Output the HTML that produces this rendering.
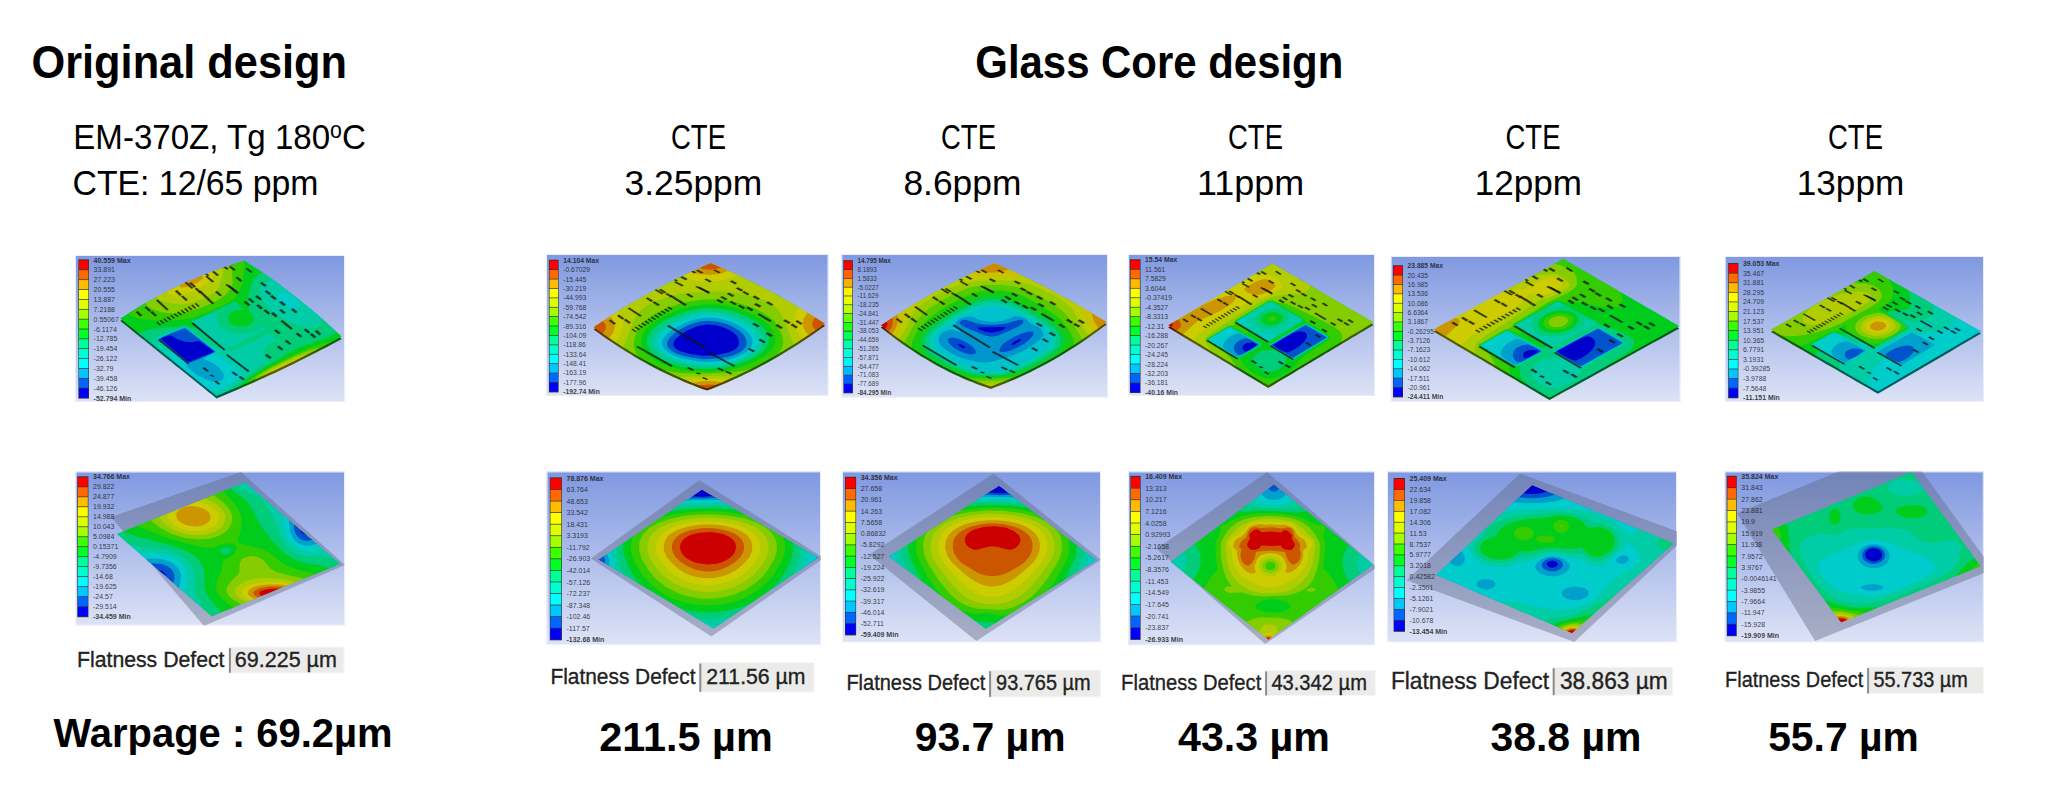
<!DOCTYPE html>
<html><head><meta charset="utf-8"><title>Warpage comparison</title>
<style>
html,body{margin:0;padding:0;background:#fff;}
body{width:2048px;height:799px;overflow:hidden;}
svg{display:block;font-family:'Liberation Sans', Arial, sans-serif;}
</style></head><body>
<svg width="2048" height="799" viewBox="0 0 2048 799">
<defs>
<linearGradient id='bgg' x1='0' y1='0' x2='0' y2='1'><stop offset='0' stop-color='#7f98e0'/><stop offset='1' stop-color='#dde3f6'/></linearGradient>
<filter id='soft' x='-5%' y='-5%' width='110%' height='110%'><feGaussianBlur stdDeviation='0.7'/></filter>

</defs>
<text x='31.5' y='78.4' font-size='46.2' font-weight='bold' textLength='315.5' lengthAdjust='spacingAndGlyphs' fill='#000'>Original design</text>
<text x='975.3' y='78.4' font-size='46.2' font-weight='bold' textLength='368.0' lengthAdjust='spacingAndGlyphs' fill='#000'>Glass Core design</text>
<text x='73.3' y='149.4' font-size='35.8' font-weight='normal' textLength='292.5' lengthAdjust='spacingAndGlyphs' fill='#000'>EM-370Z, Tg 180<tspan dy='-11.5' font-size='23'>o</tspan><tspan dy='11.5'>C</tspan></text>
<text x='72.5' y='195.2' font-size='35.5' font-weight='normal' textLength='246.0' lengthAdjust='spacingAndGlyphs' fill='#000'>CTE: 12/65 ppm</text>
<text x='698.5' y='149.4' font-size='35.8' font-weight='normal' textLength='55.0' lengthAdjust='spacingAndGlyphs' text-anchor='middle' fill='#000'>CTE</text>
<text x='693.4' y='194.8' font-size='35.8' font-weight='normal' textLength='137.8' lengthAdjust='spacingAndGlyphs' text-anchor='middle' fill='#000'>3.25ppm</text>
<text x='968.5' y='149.4' font-size='35.8' font-weight='normal' textLength='55.0' lengthAdjust='spacingAndGlyphs' text-anchor='middle' fill='#000'>CTE</text>
<text x='962.4' y='194.8' font-size='35.8' font-weight='normal' textLength='117.9' lengthAdjust='spacingAndGlyphs' text-anchor='middle' fill='#000'>8.6ppm</text>
<text x='1255.5' y='149.4' font-size='35.8' font-weight='normal' textLength='55.0' lengthAdjust='spacingAndGlyphs' text-anchor='middle' fill='#000'>CTE</text>
<text x='1250.6' y='194.8' font-size='35.8' font-weight='normal' textLength='107.2' lengthAdjust='spacingAndGlyphs' text-anchor='middle' fill='#000'>11ppm</text>
<text x='1533.0' y='149.4' font-size='35.8' font-weight='normal' textLength='55.0' lengthAdjust='spacingAndGlyphs' text-anchor='middle' fill='#000'>CTE</text>
<text x='1528.4' y='194.8' font-size='35.8' font-weight='normal' textLength='107.3' lengthAdjust='spacingAndGlyphs' text-anchor='middle' fill='#000'>12ppm</text>
<text x='1855.5' y='149.4' font-size='35.8' font-weight='normal' textLength='55.0' lengthAdjust='spacingAndGlyphs' text-anchor='middle' fill='#000'>CTE</text>
<text x='1850.5' y='194.8' font-size='35.8' font-weight='normal' textLength='107.5' lengthAdjust='spacingAndGlyphs' text-anchor='middle' fill='#000'>13ppm</text>
<text x='53.6' y='747.3' font-size='39.8' font-weight='bold' textLength='339.0' lengthAdjust='spacingAndGlyphs' fill='#000'>Warpage : 69.2µm</text>
<text x='599.3' y='750.8' font-size='39.8' font-weight='bold' textLength='173.4' lengthAdjust='spacingAndGlyphs' fill='#000'>211.5 µm</text>
<text x='914.7' y='750.8' font-size='39.8' font-weight='bold' textLength='150.8' lengthAdjust='spacingAndGlyphs' fill='#000'>93.7 µm</text>
<text x='1178.0' y='750.8' font-size='39.8' font-weight='bold' textLength='151.9' lengthAdjust='spacingAndGlyphs' fill='#000'>43.3 µm</text>
<text x='1490.4' y='750.8' font-size='39.8' font-weight='bold' textLength='151.0' lengthAdjust='spacingAndGlyphs' fill='#000'>38.8 µm</text>
<text x='1768.2' y='750.8' font-size='39.8' font-weight='bold' textLength='150.5' lengthAdjust='spacingAndGlyphs' fill='#000'>55.7 µm</text>
<clipPath id='cb0'><rect x='75' y='255' width='270.0' height='147.0'/></clipPath>
<g clip-path='url(#cb0)'>
<rect x='75' y='255' width='270.0' height='147.0' fill='url(#bgg)' stroke='#e8eefc' stroke-width='2'/>
<clipPath id='cbd0'><path d='M120.3 318.5 125.1 315.4 129.9 312.3 134.8 309.3 139.7 306.3 144.6 303.4 149.6 300.6 154.5 297.9 159.6 295.2 164.6 292.5 169.7 290.0 174.8 287.4 180.0 285.0 185.2 282.6 190.4 280.3 195.7 278.0 201.0 275.9 206.3 273.7 211.7 271.7 217.0 269.7 222.5 267.7 227.9 265.8 233.4 264.0 238.9 262.3 244.5 260.6 248.9 263.4 253.2 266.1 257.5 269.0 261.8 271.8 266.0 274.7 270.2 277.6 274.4 280.6 278.6 283.6 282.7 286.7 286.8 289.7 290.9 292.9 295.0 296.0 299.0 299.2 303.0 302.4 307.0 305.7 311.0 309.0 314.9 312.3 318.8 315.6 322.7 319.1 326.6 322.5 330.4 326.0 334.2 329.5 338.0 333.0 341.7 336.6 336.6 339.3 331.5 342.1 326.4 344.8 321.3 347.4 316.2 350.1 311.1 352.7 305.9 355.3 300.8 357.9 295.6 360.5 290.4 363.0 285.2 365.5 280.0 368.0 274.8 370.5 269.5 372.9 264.3 375.3 259.0 377.7 253.8 380.1 248.5 382.4 243.2 384.7 237.9 387.0 232.5 389.3 227.2 391.6 221.9 393.8 216.5 396.0 212.4 392.7 208.4 389.5 204.3 386.2 200.2 382.9 196.2 379.7 192.2 376.4 188.1 373.2 184.1 369.9 180.1 366.7 176.0 363.5 172.0 360.2 168.0 357.0 164.0 353.8 160.0 350.5 156.0 347.3 152.0 344.1 148.0 340.9 144.1 337.7 140.1 334.5 136.1 331.3 132.1 328.1 128.2 324.9 124.2 321.7Z'/></clipPath>
<linearGradient id='sg0' gradientUnits='userSpaceOnUse' x1='120.3' y1='0' x2='341.7' y2='0'><stop offset='0.000' stop-color='#005c0e'/><stop offset='0.054' stop-color='#005c0e'/><stop offset='0.107' stop-color='#005c37'/><stop offset='0.161' stop-color='#005c4b'/><stop offset='0.215' stop-color='#005c4b'/><stop offset='0.270' stop-color='#005c5c'/><stop offset='0.325' stop-color='#005c5c'/><stop offset='0.379' stop-color='#005c5c'/><stop offset='0.435' stop-color='#005c4b'/><stop offset='0.507' stop-color='#005c37'/><stop offset='0.579' stop-color='#165c00'/><stop offset='0.650' stop-color='#505c00'/><stop offset='0.721' stop-color='#5c5c00'/><stop offset='0.792' stop-color='#5c5c00'/><stop offset='0.862' stop-color='#3c5c00'/><stop offset='0.931' stop-color='#165c00'/><stop offset='1.000' stop-color='#005c0e'/></linearGradient><path d='M120.3 318.5 125.1 315.4 129.9 312.3 134.8 309.3 139.7 306.3 144.6 303.4 149.6 300.6 154.5 297.9 159.6 295.2 164.6 292.5 169.7 290.0 174.8 287.4 180.0 285.0 185.2 282.6 190.4 280.3 195.7 278.0 201.0 275.9 206.3 273.7 211.7 271.7 217.0 269.7 222.5 267.7 227.9 265.8 233.4 264.0 238.9 262.3 244.5 260.6 248.9 263.4 253.2 266.1 257.5 269.0 261.8 271.8 266.0 274.7 270.2 277.6 274.4 280.6 278.6 283.6 282.7 286.7 286.8 289.7 290.9 292.9 295.0 296.0 299.0 299.2 303.0 302.4 307.0 305.7 311.0 309.0 314.9 312.3 318.8 315.6 322.7 319.1 326.6 322.5 330.4 326.0 334.2 329.5 338.0 333.0 341.7 336.6 336.6 339.3 331.5 342.1 326.4 344.8 321.3 347.4 316.2 350.1 311.1 352.7 305.9 355.3 300.8 357.9 295.6 360.5 290.4 363.0 285.2 365.5 280.0 368.0 274.8 370.5 269.5 372.9 264.3 375.3 259.0 377.7 253.8 380.1 248.5 382.4 243.2 384.7 237.9 387.0 232.5 389.3 227.2 391.6 221.9 393.8 216.5 396.0 212.4 392.7 208.4 389.5 204.3 386.2 200.2 382.9 196.2 379.7 192.2 376.4 188.1 373.2 184.1 369.9 180.1 366.7 176.0 363.5 172.0 360.2 168.0 357.0 164.0 353.8 160.0 350.5 156.0 347.3 152.0 344.1 148.0 340.9 144.1 337.7 140.1 334.5 136.1 331.3 132.1 328.1 128.2 324.9 124.2 321.7Z' transform='translate(0,2.4)' fill='url(#sg0)' filter='url(#soft)'/>
<g id='bd0' clip-path='url(#cbd0)' filter='url(#soft)'>
<path d='M120.3 318.5 125.1 315.4 129.9 312.3 134.8 309.3 139.7 306.3 144.6 303.4 149.6 300.6 154.5 297.9 159.6 295.2 164.6 292.5 169.7 290.0 174.8 287.4 180.0 285.0 185.2 282.6 190.4 280.3 195.7 278.0 201.0 275.9 206.3 273.7 211.7 271.7 217.0 269.7 222.5 267.7 227.9 265.8 233.4 264.0 238.9 262.3 244.5 260.6 248.9 263.4 253.2 266.1 257.5 269.0 261.8 271.8 266.0 274.7 270.2 277.6 274.4 280.6 278.6 283.6 282.7 286.7 286.8 289.7 290.9 292.9 295.0 296.0 299.0 299.2 303.0 302.4 307.0 305.7 311.0 309.0 314.9 312.3 318.8 315.6 322.7 319.1 326.6 322.5 330.4 326.0 334.2 329.5 338.0 333.0 341.7 336.6 336.6 339.3 331.5 342.1 326.4 344.8 321.3 347.4 316.2 350.1 311.1 352.7 305.9 355.3 300.8 357.9 295.6 360.5 290.4 363.0 285.2 365.5 280.0 368.0 274.8 370.5 269.5 372.9 264.3 375.3 259.0 377.7 253.8 380.1 248.5 382.4 243.2 384.7 237.9 387.0 232.5 389.3 227.2 391.6 221.9 393.8 216.5 396.0 212.4 392.7 208.4 389.5 204.3 386.2 200.2 382.9 196.2 379.7 192.2 376.4 188.1 373.2 184.1 369.9 180.1 366.7 176.0 363.5 172.0 360.2 168.0 357.0 164.0 353.8 160.0 350.5 156.0 347.3 152.0 344.1 148.0 340.9 144.1 337.7 140.1 334.5 136.1 331.3 132.1 328.1 128.2 324.9 124.2 321.7Z' fill='#0000cc'/>
<path fill='#0052cc' fill-rule='evenodd' d='M121.0 318.0 150.3 300.2 180.0 285.0 211.7 271.7 244.5 260.6 271.5 278.5 298.0 298.4 326.4 322.3 341.7 336.6 340.9 337.0 310.3 353.1 280.0 368.0 248.5 382.4 216.5 396.0 120.3 318.5ZM161.0 339.2 186.6 360.8 188.9 362.0 211.1 353.2 213.3 352.0 213.6 351.4 203.3 343.5 200.6 341.7 198.7 341.0 191.7 342.2 185.3 341.7 178.0 339.5 171.0 335.5 169.3 335.5 164.5 337.1 161.4 338.4Z'/>
<path fill='#00a0cc' fill-rule='evenodd' d='M121.0 318.0 150.3 300.2 180.0 285.0 211.7 271.7 244.5 260.6 271.5 278.5 298.0 298.4 326.4 322.3 341.7 336.6 340.9 337.0 310.3 353.1 280.0 368.0 248.5 382.4 216.5 396.0 120.3 318.5ZM159.6 339.0 186.2 361.6 188.6 362.9 197.1 360.0 214.7 352.1 214.8 351.6 213.8 350.5 185.0 328.3 165.4 335.8 160.7 337.8Z'/>
<path fill='#00cccc' fill-rule='evenodd' d='M121.0 318.0 150.3 300.2 180.0 285.0 211.7 271.7 244.5 260.6 271.5 278.5 298.0 298.4 326.4 322.3 341.7 336.6 340.9 337.0 310.3 353.1 280.0 368.0 248.5 382.4 216.5 396.0 120.3 318.5ZM158.9 338.6 160.1 340.3 181.2 358.5 185.4 362.7 188.1 367.3 190.5 370.0 194.8 373.4 200.9 376.9 206.6 379.6 211.7 381.3 215.9 381.8 219.4 381.2 222.3 379.7 223.9 377.2 223.6 374.2 221.7 370.9 218.4 367.1 214.1 363.8 209.4 361.3 203.6 359.2 204.2 358.3 215.2 352.6 215.7 352.0 215.5 351.3 185.4 327.3 183.9 327.4 168.8 333.8Z'/>
<path fill='#00cca6' fill-rule='evenodd' d='M121.0 318.0 150.3 300.2 180.0 285.0 211.7 271.7 244.5 260.6 270.2 277.6 295.0 296.0 318.8 315.6 341.7 336.6 307.2 354.7 271.4 372.1 244.5 384.2 216.5 396.0 211.3 391.8 219.5 389.7 229.2 385.0 239.7 377.9 241.9 375.3 242.2 373.8 239.9 370.4 230.9 363.4 223.3 358.5 215.1 354.5 216.7 352.3 216.7 351.5 215.7 350.4 186.9 327.5 184.3 326.7 160.6 336.8 158.1 338.6 158.4 339.5 167.0 347.8 168.3 349.8 169.0 354.5 170.6 359.1 120.3 318.5ZM278.4 293.8 277.7 295.9 278.5 298.7 280.8 301.6 284.3 304.6 287.9 306.7 292.4 308.4 295.5 308.7 298.1 307.6 298.8 305.7 297.9 302.6 295.3 299.1 291.8 296.2 288.2 294.1 283.6 292.6 280.8 292.6Z'/>
<path fill='#00cc7a' fill-rule='evenodd' d='M121.0 318.0 150.3 300.2 180.0 285.0 211.7 271.7 244.5 260.6 273.0 279.6 267.9 280.9 263.6 283.8 260.9 287.9 260.0 292.9 260.9 297.4 263.2 301.9 267.6 307.1 273.5 312.3 281.5 317.9 290.6 322.8 299.1 326.1 306.4 327.7 313.0 327.7 317.5 326.0 320.4 322.8 321.4 317.9 341.7 336.6 294.8 360.9 246.1 383.5 227.3 391.5 230.8 387.9 241.0 380.7 248.7 375.2 255.6 368.5 267.1 361.7 267.8 360.7 264.9 357.6 263.4 354.6 263.1 352.4 263.6 349.9 266.7 345.5 270.1 343.1 275.8 340.4 275.6 339.2 270.6 334.5 268.7 333.7 248.5 343.5 234.7 349.5 228.2 351.2 225.9 350.6 225.7 349.9 265.5 329.1 266.0 328.0 263.9 326.6 262.3 326.5 258.2 329.5 254.3 331.6 247.6 333.5 239.3 334.0 230.8 332.5 223.8 329.3 220.6 326.7 218.7 324.3 217.3 321.6 216.6 318.6 216.8 315.1 217.9 312.0 217.3 311.4 210.6 313.8 194.5 321.0 193.2 322.0 194.0 323.3 218.6 345.3 220.5 347.0 221.2 348.6 215.7 347.1 210.6 344.9 202.4 339.2 187.4 327.2 184.8 326.2 157.9 336.4 153.2 340.3 151.1 343.4 120.3 318.5Z'/>
<path fill='#00cc1e' fill-rule='evenodd' d='M121.0 318.0 150.3 300.2 180.0 285.0 211.7 271.7 244.5 260.6 262.5 272.3 258.0 274.8 254.2 278.8 251.6 283.8 249.4 290.8 248.2 298.9 248.3 306.3 249.4 311.6 252.3 315.2 254.0 317.7 253.7 320.6 251.8 323.3 248.1 325.6 244.3 326.6 239.4 326.8 234.6 325.7 231.4 324.0 229.1 321.8 228.0 319.4 228.2 316.4 229.4 314.2 231.9 312.0 235.3 310.6 244.2 309.5 242.7 307.5 237.0 302.7 235.5 301.7 233.9 301.7 192.2 321.2 191.9 322.6 195.5 327.1 195.1 327.9 191.3 327.7 185.1 325.4 176.9 327.1 159.4 327.7 148.6 329.6 138.9 333.6 120.3 318.5ZM292.8 350.5 300.1 347.1 326.2 338.0 332.6 334.9 336.9 332.0 341.7 336.6 311.8 352.3 281.6 367.3 244.5 384.2 239.1 386.5 239.3 385.7 244.2 381.2 261.1 369.4Z'/>
<path fill='#30cc00' fill-rule='evenodd' d='M128.9 312.9 156.3 296.9 183.9 283.2 212.5 271.4 242.5 261.2 244.6 262.4 245.2 264.2 244.0 270.4 243.1 280.2 241.5 286.1 239.2 291.5 236.7 295.8 233.5 299.5 227.7 303.0 214.2 309.6 195.1 317.3 186.4 319.1 175.7 320.2 162.8 320.4 148.7 319.9 140.8 319.0 134.5 317.5 130.5 315.5 128.9 313.8 128.5 313.2ZM280.0 361.4 297.3 353.0 309.0 348.1 322.4 343.5 330.4 341.9 331.7 342.0 294.0 361.2 247.3 382.9 247.4 382.2 249.4 379.9 257.3 374.1 267.2 368.2Z'/>
<path fill='#85cc00' fill-rule='evenodd' d='M145.8 302.7 165.4 292.1 186.2 282.2 207.6 273.2 229.5 265.3 231.7 266.7 232.4 268.6 232.2 274.6 232.8 282.1 231.7 286.4 229.6 290.3 226.1 294.2 221.6 297.8 215.0 301.7 207.0 305.4 198.5 308.6 189.4 311.2 175.7 313.2 168.7 313.2 163.0 312.5 156.3 310.6 149.9 307.8 147.1 305.7ZM268.5 369.1 290.9 357.9 308.4 350.6 315.8 348.4 319.6 348.3 302.6 357.0 254.4 379.8 255.1 378.0 257.5 376.0Z'/>
<path fill='#b1cc00' fill-rule='evenodd' d='M157.1 296.5 188.6 281.1 220.8 268.3 223.1 269.7 223.6 271.8 220.9 280.9 218.9 287.6 216.7 290.4 213.7 293.1 203.3 298.9 191.3 303.0 181.0 304.4 171.6 303.5 160.0 300.5 157.8 298.9ZM270.5 369.6 285.8 361.8 300.6 355.5 306.1 353.7 309.5 353.5 297.9 359.3 261.6 376.5 261.6 375.8 263.0 374.4Z'/>
<path fill='#cccc00' fill-rule='evenodd' d='M167.3 291.8 167.4 291.1 184.7 282.9 212.3 271.4 214.2 272.3 214.9 273.6 214.4 275.4 213.0 277.6 208.5 282.2 202.7 286.5 196.8 289.8 191.0 292.0 182.6 294.0 174.1 294.8 169.0 294.0 167.6 292.9ZM276.4 368.2 289.9 361.8 295.0 360.0 296.8 359.9 290.9 362.8 271.6 371.9 272.1 371.0Z'/>
<path fill='#cc9600' fill-rule='evenodd' d='M179.7 285.8 180.1 284.9 200.7 276.0 203.3 276.6 203.0 278.4 197.3 282.7 188.6 286.4 182.2 287.6 179.7 286.9Z'/>
<g fill='#141414' fill-opacity='0.78'><polygon points='144.4,307.5 146.6,306.3 151.3,310.7 149.2,311.8'/><polygon points='150.2,312.3 152.4,311.1 157.1,315.4 155.0,316.6'/><polygon points='174.8,291.2 177.1,290.1 182.0,294.7 179.7,295.8'/><polygon points='180.9,296.5 183.1,295.4 188.0,299.9 185.7,301.0'/><polygon points='194.6,288.7 196.9,287.7 201.8,292.2 199.5,293.2'/><polygon points='198.4,291.6 200.7,290.5 205.6,295.0 203.3,296.0'/><polygon points='203.0,295.9 205.3,294.8 210.2,299.2 207.9,300.3'/><polygon points='207.2,300.0 209.5,298.9 214.4,303.2 212.1,304.3'/><polygon points='211.8,271.8 214.1,270.9 219.2,275.1 216.8,276.0'/><polygon points='221.5,265.8 223.9,265.1 228.9,268.9 226.6,269.7'/><polygon points='228.6,266.9 230.9,266.1 235.9,269.8 233.6,270.7'/><polygon points='264.4,291.4 266.8,290.2 271.6,293.9 269.2,295.1'/><polygon points='269.8,296.2 272.2,294.9 276.9,298.6 274.6,299.9'/><polygon points='247.7,299.1 250.0,298.0 254.8,301.9 252.5,303.1'/><polygon points='255.0,296.4 257.3,295.2 262.1,299.1 259.8,300.3'/><polygon points='243.4,302.1 245.7,301.0 250.6,304.9 248.2,306.1'/><polygon points='256.0,305.5 258.3,304.2 263.1,308.1 260.8,309.4'/><polygon points='263.3,310.5 265.6,309.3 270.4,313.2 268.1,314.4'/><polygon points='270.8,313.4 273.2,312.1 277.9,315.9 275.6,317.2'/><polygon points='279.0,310.3 281.3,309.0 286.0,312.8 283.7,314.1'/><polygon points='279.0,302.2 281.4,300.9 286.1,304.6 283.7,306.0'/><polygon points='290.8,309.5 293.1,308.2 297.7,311.9 295.4,313.3'/><polygon points='295.5,333.9 297.8,332.6 302.4,336.3 300.1,337.6'/><polygon points='303.6,329.7 305.9,328.4 310.4,332.2 308.2,333.5'/><polygon points='309.7,334.5 312.0,333.3 316.5,337.1 314.2,338.3'/><polygon points='314.8,331.4 317.0,330.1 321.5,334.0 319.2,335.3'/><polygon points='273.8,330.5 276.1,329.3 280.8,333.0 278.5,334.3'/><polygon points='202.2,368.1 204.5,367.2 209.2,370.9 206.9,371.8'/><polygon points='189.0,283.2 191.3,282.2 196.2,286.8 194.0,287.8'/><polygon points='214.9,291.9 217.2,290.9 222.1,295.2 219.8,296.2'/><polygon points='135.6,312.3 137.7,311.0 142.4,315.2 140.3,316.4'/><polygon points='235.3,277.8 237.7,276.8 242.6,280.7 240.3,281.7'/><polygon points='259.7,283.1 262.1,282.0 266.9,285.6 264.5,286.8'/><polygon points='284.7,341.2 287.0,340.0 291.6,343.7 289.4,344.8'/><polygon points='276.8,346.9 279.0,345.8 283.7,349.3 281.4,350.5'/><polygon points='264.8,355.2 267.1,354.1 271.8,357.6 269.5,358.7'/><polygon points='231.3,372.5 233.6,371.5 238.3,375.0 236.0,376.0'/><polygon points='238.2,376.9 240.5,375.9 245.2,379.3 242.9,380.3'/><polygon points='155.8,300.4 157.7,299.3 168.7,309.4 166.8,310.4'/><polygon points='205.1,276.6 207.2,275.8 214.3,281.5 212.2,282.4'/><polygon points='225.1,284.8 227.2,283.9 238.7,292.0 236.6,293.0'/><polygon points='245.4,268.8 247.6,268.0 252.7,271.9 250.6,272.8'/><polygon points='227.7,286.2 229.8,285.3 239.0,293.1 237.0,294.1'/><polygon points='280.4,321.3 282.5,320.1 293.0,328.6 291.0,329.8'/><polygon points='209.5,375.2 211.5,374.4 215.0,376.2 213.0,377.0'/><polygon points='214.2,381.4 216.3,380.6 220.5,383.9 218.5,384.7'/><polygon points='183.4,281.7 185.4,280.8 193.4,287.9 191.4,288.8'/><polygon points='200.2,269.7 202.3,268.9 209.5,275.4 207.4,276.3'/><polygon points='156.2,322.5 157.7,321.8 161.2,324.9 159.7,325.6'/><polygon points='159.6,320.8 161.1,320.0 164.6,323.2 163.2,323.9'/><polygon points='163.1,319.0 164.5,318.3 168.1,321.5 166.6,322.2'/><polygon points='166.5,317.3 168.0,316.6 171.6,319.8 170.1,320.5'/><polygon points='170.0,315.6 171.5,314.9 175.1,318.1 173.6,318.8'/><polygon points='173.5,313.9 175.0,313.2 178.6,316.4 177.1,317.1'/><polygon points='177.0,312.2 178.5,311.5 182.1,314.7 180.6,315.4'/><polygon points='180.5,310.5 182.0,309.7 185.6,313.0 184.1,313.8'/><polygon points='184.0,308.8 185.5,308.0 189.1,311.3 187.6,312.1'/><polygon points='187.5,307.1 189.0,306.3 192.7,309.6 191.2,310.4'/><polygon points='191.1,305.4 192.6,304.6 196.2,307.9 194.7,308.7'/><polygon points='194.6,303.7 196.1,302.9 199.8,306.2 198.3,307.0'/><polygon points='191.3,323.4 193.3,322.5 225.8,349.7 223.8,350.6'/><polygon points='157.8,340.0 159.7,339.1 189.5,363.4 187.4,364.1'/><polygon points='225.6,355.1 227.6,354.2 249.9,371.1 247.9,372.0'/></g>
</g>
</g>
<rect x='78.4' y='259.4' width='10.6' height='139.2' fill='#333'/>
<rect x='79.0' y='260.35' width='9.4' height='9.16' fill='#FF0000'/>
<rect x='79.0' y='270.21' width='9.4' height='9.16' fill='#FF6A00'/>
<rect x='79.0' y='280.06' width='9.4' height='9.16' fill='#FFBB00'/>
<rect x='79.0' y='289.92' width='9.4' height='9.16' fill='#FFFF00'/>
<rect x='79.0' y='299.78' width='9.4' height='9.16' fill='#DDFF00'/>
<rect x='79.0' y='309.64' width='9.4' height='9.16' fill='#A6FF00'/>
<rect x='79.0' y='319.49' width='9.4' height='9.16' fill='#3CFF00'/>
<rect x='79.0' y='329.35' width='9.4' height='9.16' fill='#00FF26'/>
<rect x='79.0' y='339.21' width='9.4' height='9.16' fill='#00FF99'/>
<rect x='79.0' y='349.06' width='9.4' height='9.16' fill='#00FFD0'/>
<rect x='79.0' y='358.92' width='9.4' height='9.16' fill='#00FFFF'/>
<rect x='79.0' y='368.78' width='9.4' height='9.16' fill='#00C8FF'/>
<rect x='79.0' y='378.64' width='9.4' height='9.16' fill='#0066FF'/>
<rect x='79.0' y='388.49' width='9.4' height='9.16' fill='#0000FF'/>
<text x='93.6' y='262.5' font-size='7.0' font-weight='bold' fill='#1a1a1a' fill-opacity='0.85'>40.559 Max</text>
<text x='93.6' y='272.4' font-size='7.0' font-weight='normal' fill='#1a1a1a' fill-opacity='0.85'>33.891</text>
<text x='93.6' y='282.2' font-size='7.0' font-weight='normal' fill='#1a1a1a' fill-opacity='0.85'>27.223</text>
<text x='93.6' y='292.1' font-size='7.0' font-weight='normal' fill='#1a1a1a' fill-opacity='0.85'>20.555</text>
<text x='93.6' y='301.9' font-size='7.0' font-weight='normal' fill='#1a1a1a' fill-opacity='0.85'>13.887</text>
<text x='93.6' y='311.8' font-size='7.0' font-weight='normal' fill='#1a1a1a' fill-opacity='0.85'>7.2188</text>
<text x='93.6' y='321.7' font-size='7.0' font-weight='normal' fill='#1a1a1a' fill-opacity='0.85'>0.55067</text>
<text x='93.6' y='331.5' font-size='7.0' font-weight='normal' fill='#1a1a1a' fill-opacity='0.85'>-6.1174</text>
<text x='93.6' y='341.4' font-size='7.0' font-weight='normal' fill='#1a1a1a' fill-opacity='0.85'>-12.785</text>
<text x='93.6' y='351.2' font-size='7.0' font-weight='normal' fill='#1a1a1a' fill-opacity='0.85'>-19.454</text>
<text x='93.6' y='361.1' font-size='7.0' font-weight='normal' fill='#1a1a1a' fill-opacity='0.85'>-26.122</text>
<text x='93.6' y='370.9' font-size='7.0' font-weight='normal' fill='#1a1a1a' fill-opacity='0.85'>-32.79</text>
<text x='93.6' y='380.8' font-size='7.0' font-weight='normal' fill='#1a1a1a' fill-opacity='0.85'>-39.458</text>
<text x='93.6' y='390.7' font-size='7.0' font-weight='normal' fill='#1a1a1a' fill-opacity='0.85'>-46.126</text>
<text x='93.6' y='400.5' font-size='7.0' font-weight='bold' fill='#1a1a1a' fill-opacity='0.85'>-52.794 Min</text>
<clipPath id='cb1'><rect x='546' y='254' width='282.5' height='142.0'/></clipPath>
<g clip-path='url(#cb1)'>
<rect x='546' y='254' width='282.5' height='142.0' fill='url(#bgg)' stroke='#e8eefc' stroke-width='2'/>
<clipPath id='cbd1'><path d='M593.6 327.0 598.1 323.9 602.7 320.9 607.3 317.9 611.9 314.9 616.6 312.0 621.3 309.1 626.0 306.3 630.7 303.4 635.5 300.7 640.3 297.9 645.1 295.2 650.0 292.5 654.9 289.9 659.8 287.2 664.8 284.7 669.8 282.1 674.8 279.6 679.8 277.1 684.9 274.7 690.0 272.3 695.1 269.9 700.3 267.6 705.5 265.3 710.7 263.0 715.5 265.0 720.3 267.1 725.0 269.1 729.8 271.3 734.6 273.5 739.4 275.7 744.1 278.0 748.9 280.3 753.7 282.6 758.5 285.1 763.2 287.5 768.0 290.0 772.8 292.5 777.5 295.1 782.3 297.8 787.1 300.4 791.8 303.1 796.6 305.9 801.3 308.7 806.1 311.6 810.8 314.4 815.6 317.4 820.3 320.4 825.1 323.4 820.2 326.9 815.2 330.4 810.3 333.8 805.4 337.1 800.5 340.3 795.5 343.5 790.6 346.6 785.7 349.6 780.8 352.6 775.8 355.5 770.9 358.3 766.0 361.0 761.1 363.7 756.2 366.3 751.3 368.8 746.3 371.2 741.4 373.6 736.5 375.9 731.6 378.1 726.7 380.3 721.8 382.4 716.9 384.4 712.0 386.3 707.1 388.2 702.3 386.5 697.5 384.8 692.8 382.9 688.0 381.0 683.2 379.0 678.5 376.9 673.7 374.8 669.0 372.6 664.2 370.3 659.5 368.0 654.7 365.5 650.0 363.0 645.3 360.4 640.6 357.8 635.8 355.0 631.1 352.2 626.4 349.3 621.7 346.4 617.0 343.3 612.3 340.2 607.6 337.0 603.0 333.8 598.3 330.4Z'/></clipPath>
<linearGradient id='sg1' gradientUnits='userSpaceOnUse' x1='593.6' y1='0' x2='825.1' y2='0'><stop offset='0.000' stop-color='#5c2600'/><stop offset='0.061' stop-color='#5c4400'/><stop offset='0.121' stop-color='#505c00'/><stop offset='0.182' stop-color='#3c5c00'/><stop offset='0.244' stop-color='#165c00'/><stop offset='0.305' stop-color='#3c5c00'/><stop offset='0.367' stop-color='#3c5c00'/><stop offset='0.428' stop-color='#5c4400'/><stop offset='0.490' stop-color='#5c2600'/><stop offset='0.554' stop-color='#5c4400'/><stop offset='0.617' stop-color='#3c5c00'/><stop offset='0.681' stop-color='#3c5c00'/><stop offset='0.745' stop-color='#165c00'/><stop offset='0.808' stop-color='#3c5c00'/><stop offset='0.872' stop-color='#505c00'/><stop offset='0.936' stop-color='#5c4400'/><stop offset='1.000' stop-color='#5c2600'/></linearGradient><path d='M593.6 327.0 598.1 323.9 602.7 320.9 607.3 317.9 611.9 314.9 616.6 312.0 621.3 309.1 626.0 306.3 630.7 303.4 635.5 300.7 640.3 297.9 645.1 295.2 650.0 292.5 654.9 289.9 659.8 287.2 664.8 284.7 669.8 282.1 674.8 279.6 679.8 277.1 684.9 274.7 690.0 272.3 695.1 269.9 700.3 267.6 705.5 265.3 710.7 263.0 715.5 265.0 720.3 267.1 725.0 269.1 729.8 271.3 734.6 273.5 739.4 275.7 744.1 278.0 748.9 280.3 753.7 282.6 758.5 285.1 763.2 287.5 768.0 290.0 772.8 292.5 777.5 295.1 782.3 297.8 787.1 300.4 791.8 303.1 796.6 305.9 801.3 308.7 806.1 311.6 810.8 314.4 815.6 317.4 820.3 320.4 825.1 323.4 820.2 326.9 815.2 330.4 810.3 333.8 805.4 337.1 800.5 340.3 795.5 343.5 790.6 346.6 785.7 349.6 780.8 352.6 775.8 355.5 770.9 358.3 766.0 361.0 761.1 363.7 756.2 366.3 751.3 368.8 746.3 371.2 741.4 373.6 736.5 375.9 731.6 378.1 726.7 380.3 721.8 382.4 716.9 384.4 712.0 386.3 707.1 388.2 702.3 386.5 697.5 384.8 692.8 382.9 688.0 381.0 683.2 379.0 678.5 376.9 673.7 374.8 669.0 372.6 664.2 370.3 659.5 368.0 654.7 365.5 650.0 363.0 645.3 360.4 640.6 357.8 635.8 355.0 631.1 352.2 626.4 349.3 621.7 346.4 617.0 343.3 612.3 340.2 607.6 337.0 603.0 333.8 598.3 330.4Z' transform='translate(0,2.4)' fill='url(#sg1)' filter='url(#soft)'/>
<g id='bd1' clip-path='url(#cbd1)' filter='url(#soft)'>
<path d='M593.6 327.0 598.1 323.9 602.7 320.9 607.3 317.9 611.9 314.9 616.6 312.0 621.3 309.1 626.0 306.3 630.7 303.4 635.5 300.7 640.3 297.9 645.1 295.2 650.0 292.5 654.9 289.9 659.8 287.2 664.8 284.7 669.8 282.1 674.8 279.6 679.8 277.1 684.9 274.7 690.0 272.3 695.1 269.9 700.3 267.6 705.5 265.3 710.7 263.0 715.5 265.0 720.3 267.1 725.0 269.1 729.8 271.3 734.6 273.5 739.4 275.7 744.1 278.0 748.9 280.3 753.7 282.6 758.5 285.1 763.2 287.5 768.0 290.0 772.8 292.5 777.5 295.1 782.3 297.8 787.1 300.4 791.8 303.1 796.6 305.9 801.3 308.7 806.1 311.6 810.8 314.4 815.6 317.4 820.3 320.4 825.1 323.4 820.2 326.9 815.2 330.4 810.3 333.8 805.4 337.1 800.5 340.3 795.5 343.5 790.6 346.6 785.7 349.6 780.8 352.6 775.8 355.5 770.9 358.3 766.0 361.0 761.1 363.7 756.2 366.3 751.3 368.8 746.3 371.2 741.4 373.6 736.5 375.9 731.6 378.1 726.7 380.3 721.8 382.4 716.9 384.4 712.0 386.3 707.1 388.2 702.3 386.5 697.5 384.8 692.8 382.9 688.0 381.0 683.2 379.0 678.5 376.9 673.7 374.8 669.0 372.6 664.2 370.3 659.5 368.0 654.7 365.5 650.0 363.0 645.3 360.4 640.6 357.8 635.8 355.0 631.1 352.2 626.4 349.3 621.7 346.4 617.0 343.3 612.3 340.2 607.6 337.0 603.0 333.8 598.3 330.4Z' fill='#0000cc'/>
<path fill='#0052cc' fill-rule='evenodd' d='M594.3 326.5 622.0 308.7 650.7 292.1 680.6 276.8 710.7 263.0 741.5 276.7 772.3 292.3 808.0 312.7 825.1 323.4 824.4 323.9 794.8 344.0 765.3 361.4 736.5 375.9 707.1 388.2 677.7 376.6 647.9 361.8 632.3 352.9 616.1 342.7 593.6 327.0ZM678.7 336.2 675.5 339.6 673.9 342.1 673.5 344.5 674.2 346.8 676.3 348.9 679.8 351.0 690.1 354.0 702.5 355.8 713.9 355.4 728.1 352.5 732.7 350.8 736.2 348.6 738.5 345.6 739.1 342.5 738.4 338.6 736.5 335.5 733.1 332.3 728.8 329.8 722.1 326.9 716.3 325.3 707.6 324.5 698.1 326.0 687.0 330.6Z'/>
<path fill='#00a0cc' fill-rule='evenodd' d='M594.3 326.5 622.0 308.7 650.7 292.1 680.6 276.8 710.7 263.0 741.5 276.7 772.3 292.3 808.0 312.7 825.1 323.4 824.4 323.9 794.8 344.0 765.3 361.4 736.5 375.9 707.1 388.2 677.7 376.6 647.9 361.8 632.3 352.9 616.1 342.7 593.6 327.0ZM672.8 334.6 669.1 338.4 667.3 341.5 667.0 344.3 668.1 347.4 671.1 350.4 675.2 352.9 681.1 355.2 688.5 357.1 703.6 359.2 719.3 358.3 727.3 357.0 733.2 355.3 739.1 352.8 743.2 350.0 745.9 346.4 746.7 343.0 745.8 338.4 743.0 334.0 739.0 330.4 734.0 327.4 726.6 324.1 718.9 321.9 707.9 320.7 701.4 321.3 696.0 322.6 689.4 324.8 682.7 328.0 677.4 331.0Z'/>
<path fill='#00cccc' fill-rule='evenodd' d='M594.3 326.5 622.0 308.7 650.7 292.1 680.6 276.8 710.7 263.0 741.5 276.7 772.3 292.3 808.0 312.7 825.1 323.4 824.4 323.9 794.8 344.0 765.3 361.4 736.5 375.9 707.1 388.2 677.7 376.6 647.9 361.8 632.3 352.9 616.1 342.7 593.6 327.0ZM667.6 333.4 663.8 337.5 662.0 341.1 662.0 344.8 664.0 348.7 668.0 352.2 673.0 355.0 680.6 357.9 689.3 360.1 698.0 361.5 705.6 361.9 714.6 361.7 723.5 360.6 730.9 358.9 738.1 356.4 743.7 353.6 748.3 350.3 751.6 346.2 752.6 342.0 751.6 337.3 748.3 332.5 743.6 328.4 737.0 324.6 728.6 321.1 719.9 318.6 713.5 317.7 707.1 317.6 700.7 318.2 694.1 319.7 686.5 322.2 679.0 325.7 673.0 329.2Z'/>
<path fill='#00cca6' fill-rule='evenodd' d='M594.3 326.5 622.0 308.7 650.7 292.1 680.6 276.8 710.7 263.0 741.5 276.7 772.3 292.3 808.0 312.7 825.1 323.4 824.4 323.9 794.8 344.0 765.3 361.4 736.5 375.9 707.1 388.2 677.7 376.6 647.9 361.8 632.3 352.9 616.1 342.7 593.6 327.0ZM663.6 331.4 659.3 336.0 657.3 340.1 657.2 344.3 659.0 348.3 662.6 352.1 668.7 356.0 676.7 359.4 685.9 362.0 694.8 363.6 703.7 364.3 712.6 364.2 722.6 363.2 731.1 361.4 739.3 358.6 746.5 355.2 751.9 351.5 756.0 347.0 757.9 342.3 757.3 337.4 754.3 332.2 749.3 327.4 742.2 323.1 732.3 318.8 722.8 316.0 716.1 314.9 708.2 314.5 701.3 315.0 693.5 316.6 684.8 319.4 676.3 323.2 669.5 327.0Z'/>
<path fill='#00cc7a' fill-rule='evenodd' d='M594.3 326.5 622.0 308.7 650.7 292.1 680.6 276.8 710.7 263.0 741.5 276.7 772.3 292.3 808.0 312.7 825.1 323.4 824.4 323.9 794.8 344.0 765.3 361.4 736.5 375.9 707.1 388.2 677.7 376.6 647.9 361.8 632.3 352.9 616.1 342.7 593.6 327.0ZM659.5 329.5 654.6 334.8 652.4 339.7 652.5 344.6 654.8 349.2 659.0 353.5 665.7 357.7 674.5 361.4 684.5 364.3 694.0 366.0 703.8 366.7 714.0 366.5 723.8 365.4 733.1 363.3 741.3 360.5 749.3 356.7 756.1 352.2 760.9 347.2 763.1 342.3 763.3 339.7 762.8 336.7 759.9 331.3 755.0 326.4 747.4 321.5 736.8 316.8 725.6 313.3 717.2 311.9 709.0 311.4 700.7 312.0 692.8 313.5 683.9 316.2 674.4 320.2 665.9 324.8Z'/>
<path fill='#00cc1e' fill-rule='evenodd' d='M594.3 326.5 622.0 308.7 650.7 292.1 680.6 276.8 710.7 263.0 741.5 276.7 772.3 292.3 808.0 312.7 825.1 323.4 824.4 323.9 794.8 344.0 765.3 361.4 736.5 375.9 707.1 388.2 677.7 376.6 647.9 361.8 632.3 352.9 616.1 342.7 593.6 327.0ZM658.7 324.6 652.5 329.9 648.5 335.5 646.9 341.0 647.9 346.6 651.1 351.5 656.8 356.4 664.7 360.8 675.4 364.9 684.8 367.2 696.0 368.6 708.5 369.0 720.5 368.2 730.6 366.5 740.2 363.8 749.4 360.0 757.6 355.5 764.3 350.0 768.0 344.3 768.9 338.5 767.2 332.9 762.7 326.9 755.8 321.5 745.9 316.3 734.6 312.1 724.7 309.5 715.8 308.3 706.3 308.2 697.4 309.1 687.6 311.3 677.3 314.8 666.5 319.8Z'/>
<path fill='#30cc00' fill-rule='evenodd' d='M594.3 326.5 622.0 308.7 650.7 292.1 680.6 276.8 710.7 263.0 741.5 276.7 772.3 292.3 808.0 312.7 825.1 323.4 824.4 323.9 794.8 344.0 765.3 361.4 736.5 375.9 707.1 388.2 677.7 376.6 647.9 361.8 632.3 352.9 616.1 342.7 593.6 327.0ZM652.6 322.9 646.4 328.8 642.4 335.2 640.9 341.5 642.0 347.6 645.6 353.2 651.9 358.6 660.5 363.2 671.2 367.2 681.6 369.7 694.2 371.0 710.1 371.2 724.6 370.2 735.6 368.3 745.1 365.6 755.2 361.5 764.0 356.6 771.1 350.4 774.6 344.5 775.3 341.4 775.2 337.7 773.0 331.0 767.9 324.3 761.1 318.9 750.5 313.3 737.5 308.5 726.6 305.8 716.1 304.5 705.9 304.4 694.5 305.6 682.9 308.4 671.9 312.4 660.5 317.8Z'/>
<path fill='#85cc00' fill-rule='evenodd' d='M594.3 326.5 622.0 308.7 650.7 292.1 680.6 276.8 710.7 263.0 739.4 275.7 768.0 290.0 796.6 305.9 825.1 323.4 804.4 337.7 783.7 350.8 776.9 354.8 780.9 350.0 782.4 346.5 783.0 343.2 782.9 339.5 781.9 335.1 777.8 326.0 775.2 322.3 771.5 318.4 762.9 312.4 750.9 307.0 738.2 302.9 724.6 300.2 715.7 299.4 706.1 299.4 697.2 300.2 686.8 302.0 677.7 304.4 667.7 308.0 657.7 312.5 650.4 316.8 645.3 320.7 640.6 325.9 637.1 331.8 634.6 338.3 633.7 344.0 634.3 349.0 636.1 353.1 639.5 357.1 611.1 339.4 593.6 327.0ZM662.9 369.6 671.1 371.7 680.7 373.1 707.2 373.6 734.4 372.1 744.2 370.4 752.7 368.0 729.9 378.9 707.1 388.2 684.2 379.4Z'/>
<path fill='#b1cc00' fill-rule='evenodd' d='M594.3 326.5 622.0 308.7 650.7 292.1 680.6 276.8 710.7 263.0 739.4 275.7 768.0 290.0 796.6 305.9 825.1 323.4 793.5 344.8 790.9 337.4 781.5 314.4 778.2 309.4 773.7 305.3 764.9 300.5 752.0 295.9 740.1 293.3 726.1 291.8 702.2 291.8 681.8 293.8 672.2 295.8 663.6 298.4 648.5 304.7 641.2 309.8 636.0 316.5 631.8 325.6 623.6 347.6 599.9 331.6 593.6 327.0ZM679.4 377.1 708.3 375.9 735.8 376.2 707.1 388.2 690.6 382.1Z'/>
<path fill='#cccc00' fill-rule='evenodd' d='M594.3 326.5 618.6 310.8 621.0 314.0 622.6 317.7 623.3 322.0 623.1 325.9 620.5 334.6 615.5 342.3 593.6 327.0ZM681.3 276.4 710.7 263.0 738.0 275.1 731.9 277.7 724.7 279.8 717.5 281.0 709.2 281.6 701.0 281.4 694.0 280.5 687.1 278.8ZM799.3 307.5 825.1 323.4 802.2 339.2 799.2 335.7 796.6 331.0 795.0 326.5 794.1 321.9 794.2 318.0 795.2 313.8 796.7 310.8ZM687.6 380.2 698.3 378.9 709.3 378.4 721.4 378.8 727.7 379.9 707.1 388.2 687.8 380.9 686.5 380.4Z'/>
<path fill='#cc9600' fill-rule='evenodd' d='M594.3 326.5 610.0 316.2 612.2 318.6 613.9 321.4 614.8 324.6 614.8 327.4 613.0 333.2 609.1 338.0 593.6 327.0ZM692.0 271.3 710.7 263.0 728.6 270.7 719.2 274.0 709.0 275.1 698.2 274.0 692.0 272.0 691.3 271.7ZM805.7 315.2 808.1 312.8 825.1 323.4 811.8 332.8 808.7 334.8 805.5 331.4 803.6 327.6 802.9 324.3 803.0 321.4 803.9 318.1ZM693.0 382.8 700.2 381.6 707.9 381.1 715.6 381.4 721.8 382.4 707.1 388.2Z'/>
<path fill='#cc5500' fill-rule='evenodd' d='M594.3 326.5 602.8 320.9 605.2 324.1 605.9 327.3 605.0 330.5 602.5 333.4 593.6 327.0ZM699.8 267.8 710.7 263.0 721.0 267.4 715.4 269.2 709.9 269.8 703.8 269.3ZM814.3 318.6 815.5 317.4 825.1 323.4 817.7 328.7 815.7 330.0 813.5 327.8 812.5 325.6 812.5 321.8ZM700.3 385.2 708.4 384.4 713.1 384.8 715.0 385.1 714.5 385.4 707.1 388.2 699.3 385.4Z'/>
<g fill='#141414' fill-opacity='0.78'><polygon points='617.0,315.9 619.0,314.6 624.5,318.4 622.5,319.7'/><polygon points='623.6,320.1 625.7,318.8 631.1,322.5 629.1,323.8'/><polygon points='645.6,298.5 647.7,297.3 653.3,300.8 651.2,302.1'/><polygon points='652.4,302.5 654.5,301.3 660.0,304.8 657.9,306.1'/><polygon points='665.1,294.0 667.2,292.9 672.8,296.2 670.7,297.4'/><polygon points='669.3,296.1 671.4,294.9 677.0,298.3 674.8,299.5'/><polygon points='674.5,299.4 676.6,298.2 682.2,301.5 680.0,302.7'/><polygon points='679.3,302.5 681.4,301.3 687.0,304.6 684.8,305.9'/><polygon points='680.0,277.2 682.2,276.1 687.7,279.1 685.5,280.2'/><polygon points='688.8,270.8 691.0,269.7 696.6,272.4 694.4,273.5'/><polygon points='695.9,270.8 698.1,269.8 703.7,272.4 701.4,273.5'/><polygon points='735.7,288.5 737.9,287.2 743.4,290.1 741.2,291.4'/><polygon points='742.0,292.3 744.2,291.0 749.7,293.9 747.5,295.3'/><polygon points='719.9,297.2 722.1,295.9 727.6,298.9 725.5,300.3'/><polygon points='726.9,293.9 729.1,292.6 734.6,295.7 732.4,297.0'/><polygon points='716.1,300.3 718.2,299.0 723.8,302.1 721.6,303.5'/><polygon points='729.4,302.1 731.6,300.7 737.1,303.9 734.9,305.2'/><polygon points='737.7,306.0 739.9,304.7 745.4,307.8 743.3,309.2'/><polygon points='745.9,308.0 748.1,306.6 753.7,309.8 751.5,311.2'/><polygon points='753.8,304.4 756.0,303.0 761.6,306.1 759.4,307.5'/><polygon points='752.5,296.9 754.7,295.6 760.2,298.6 758.0,300.0'/><polygon points='765.9,302.7 768.1,301.2 773.6,304.4 771.4,305.8'/><polygon points='775.3,325.5 777.5,324.1 783.0,327.4 780.9,328.9'/><polygon points='783.1,320.8 785.2,319.3 790.8,322.6 788.6,324.1'/><polygon points='790.4,325.0 792.6,323.6 798.1,326.9 796.0,328.4'/><polygon points='795.2,321.5 797.3,320.0 802.8,323.4 800.7,324.8'/><polygon points='752.1,324.1 754.2,322.7 759.8,325.9 757.6,327.3'/><polygon points='686.6,368.1 688.7,367.0 694.2,369.7 692.1,370.8'/><polygon points='658.8,289.9 660.9,288.8 666.5,292.2 664.3,293.3'/><polygon points='685.9,294.4 688.0,293.2 693.6,296.4 691.4,297.7'/><polygon points='608.6,320.8 610.6,319.5 616.1,323.4 614.1,324.7'/><polygon points='704.2,279.5 706.4,278.4 712.0,281.2 709.8,282.4'/><polygon points='729.6,281.6 731.8,280.3 737.3,283.1 735.1,284.4'/><polygon points='765.4,333.7 767.6,332.3 773.1,335.6 771.0,337.0'/><polygon points='758.2,340.0 760.4,338.7 765.9,341.9 763.8,343.3'/><polygon points='747.5,349.1 749.6,347.9 755.2,351.0 753.1,352.3'/><polygon points='716.8,368.5 718.9,367.5 724.5,370.2 722.4,371.3'/><polygon points='724.8,371.8 726.9,370.8 732.5,373.4 730.4,374.5'/><polygon points='627.6,308.5 629.4,307.4 642.0,315.7 640.2,316.8'/><polygon points='674.0,282.2 675.9,281.3 683.8,285.3 681.9,286.4'/><polygon points='695.1,286.9 697.0,285.9 709.7,291.7 707.8,292.8'/><polygon points='713.0,270.3 714.9,269.4 720.7,272.3 718.7,273.3'/><polygon points='697.8,287.8 699.8,286.8 710.3,292.6 708.3,293.7'/><polygon points='757.2,314.6 759.2,313.3 771.7,320.6 769.8,321.9'/><polygon points='695.4,373.4 697.3,372.5 701.2,373.6 699.3,374.5'/><polygon points='701.6,378.0 703.5,377.1 708.5,379.3 706.6,380.1'/><polygon points='653.0,289.3 654.8,288.3 663.8,293.5 661.9,294.5'/><polygon points='668.2,276.9 670.2,276.0 678.2,280.7 676.2,281.6'/><polygon points='631.3,329.5 632.7,328.7 636.8,331.4 635.4,332.2'/><polygon points='634.5,327.5 635.9,326.6 640.0,329.3 638.7,330.2'/><polygon points='637.8,325.5 639.1,324.6 643.2,327.3 641.9,328.1'/><polygon points='641.0,323.4 642.4,322.6 646.5,325.2 645.1,326.1'/><polygon points='644.2,321.4 645.6,320.5 649.7,323.2 648.4,324.1'/><polygon points='647.5,319.4 648.9,318.5 653.0,321.2 651.6,322.0'/><polygon points='650.7,317.4 652.1,316.5 656.3,319.2 654.9,320.0'/><polygon points='654.0,315.4 655.4,314.5 659.5,317.2 658.2,318.0'/><polygon points='657.3,313.4 658.7,312.5 662.8,315.1 661.4,316.0'/><polygon points='660.6,311.4 662.0,310.5 666.1,313.1 664.7,314.0'/><polygon points='663.9,309.4 665.3,308.5 669.5,311.1 668.1,312.0'/><polygon points='667.2,307.4 668.6,306.6 672.8,309.1 671.4,310.0'/><polygon points='666.9,326.3 668.8,325.1 706.5,347.5 704.6,348.6'/><polygon points='636.1,347.1 637.9,346.0 672.8,365.6 671.0,366.7'/><polygon points='707.4,352.8 709.2,351.7 735.5,365.7 733.6,366.7'/></g>
</g>
</g>
<rect x='548.9' y='259.7' width='9.7' height='132.7' fill='#333'/>
<rect x='549.5' y='260.65' width='8.5' height='8.69' fill='#FF0000'/>
<rect x='549.5' y='270.04' width='8.5' height='8.69' fill='#FF6A00'/>
<rect x='549.5' y='279.44' width='8.5' height='8.69' fill='#FFBB00'/>
<rect x='549.5' y='288.83' width='8.5' height='8.69' fill='#FFFF00'/>
<rect x='549.5' y='298.22' width='8.5' height='8.69' fill='#DDFF00'/>
<rect x='549.5' y='307.61' width='8.5' height='8.69' fill='#A6FF00'/>
<rect x='549.5' y='317.01' width='8.5' height='8.69' fill='#3CFF00'/>
<rect x='549.5' y='326.40' width='8.5' height='8.69' fill='#00FF26'/>
<rect x='549.5' y='335.79' width='8.5' height='8.69' fill='#00FF99'/>
<rect x='549.5' y='345.19' width='8.5' height='8.69' fill='#00FFD0'/>
<rect x='549.5' y='354.58' width='8.5' height='8.69' fill='#00FFFF'/>
<rect x='549.5' y='363.97' width='8.5' height='8.69' fill='#00C8FF'/>
<rect x='549.5' y='373.36' width='8.5' height='8.69' fill='#0066FF'/>
<rect x='549.5' y='382.76' width='8.5' height='8.69' fill='#0000FF'/>
<text x='563.2' y='262.7' font-size='6.8' font-weight='bold' fill='#1a1a1a' fill-opacity='0.85'>14.104 Max</text>
<text x='563.2' y='272.1' font-size='6.8' font-weight='normal' fill='#1a1a1a' fill-opacity='0.85'>-0.67029</text>
<text x='563.2' y='281.5' font-size='6.8' font-weight='normal' fill='#1a1a1a' fill-opacity='0.85'>-15.445</text>
<text x='563.2' y='290.9' font-size='6.8' font-weight='normal' fill='#1a1a1a' fill-opacity='0.85'>-30.219</text>
<text x='563.2' y='300.3' font-size='6.8' font-weight='normal' fill='#1a1a1a' fill-opacity='0.85'>-44.993</text>
<text x='563.2' y='309.7' font-size='6.8' font-weight='normal' fill='#1a1a1a' fill-opacity='0.85'>-59.768</text>
<text x='563.2' y='319.1' font-size='6.8' font-weight='normal' fill='#1a1a1a' fill-opacity='0.85'>-74.542</text>
<text x='563.2' y='328.5' font-size='6.8' font-weight='normal' fill='#1a1a1a' fill-opacity='0.85'>-89.316</text>
<text x='563.2' y='337.9' font-size='6.8' font-weight='normal' fill='#1a1a1a' fill-opacity='0.85'>-104.09</text>
<text x='563.2' y='347.3' font-size='6.8' font-weight='normal' fill='#1a1a1a' fill-opacity='0.85'>-118.86</text>
<text x='563.2' y='356.7' font-size='6.8' font-weight='normal' fill='#1a1a1a' fill-opacity='0.85'>-133.64</text>
<text x='563.2' y='366.1' font-size='6.8' font-weight='normal' fill='#1a1a1a' fill-opacity='0.85'>-148.41</text>
<text x='563.2' y='375.4' font-size='6.8' font-weight='normal' fill='#1a1a1a' fill-opacity='0.85'>-163.19</text>
<text x='563.2' y='384.8' font-size='6.8' font-weight='normal' fill='#1a1a1a' fill-opacity='0.85'>-177.96</text>
<text x='563.2' y='394.2' font-size='6.8' font-weight='bold' fill='#1a1a1a' fill-opacity='0.85'>-192.74 Min</text>
<clipPath id='cb2'><rect x='841.4' y='254' width='266.6' height='143.6'/></clipPath>
<g clip-path='url(#cb2)'>
<rect x='841.4' y='254' width='266.6' height='143.6' fill='url(#bgg)' stroke='#e8eefc' stroke-width='2'/>
<clipPath id='cbd2'><path d='M880.9 325.2 885.4 322.2 889.8 319.2 894.4 316.3 898.9 313.4 903.4 310.5 908.0 307.7 912.6 304.9 917.3 302.2 921.9 299.4 926.6 296.8 931.3 294.1 936.0 291.5 940.7 288.9 945.5 286.4 950.3 283.9 955.1 281.4 960.0 279.0 964.8 276.6 969.7 274.2 974.6 271.9 979.6 269.6 984.5 267.4 989.5 265.2 994.5 263.0 999.2 265.1 1004.0 267.1 1008.7 269.3 1013.4 271.4 1018.1 273.6 1022.9 275.9 1027.6 278.1 1032.3 280.4 1037.0 282.8 1041.6 285.1 1046.3 287.6 1051.0 290.0 1055.7 292.5 1060.3 295.0 1065.0 297.5 1069.7 300.1 1074.3 302.8 1079.0 305.4 1083.6 308.1 1088.2 310.8 1092.8 313.6 1097.5 316.4 1102.1 319.2 1106.7 322.1 1101.9 325.7 1097.1 329.2 1092.3 332.6 1087.5 336.0 1082.7 339.3 1077.9 342.5 1073.1 345.6 1068.3 348.6 1063.5 351.6 1058.7 354.5 1053.8 357.3 1049.0 360.0 1044.2 362.6 1039.3 365.2 1034.5 367.7 1029.7 370.1 1024.8 372.4 1020.0 374.7 1015.1 376.8 1010.3 378.9 1005.4 380.9 1000.5 382.9 995.7 384.7 990.8 386.5 986.1 384.9 981.4 383.3 976.7 381.5 972.0 379.7 967.3 377.8 962.7 375.8 958.0 373.7 953.4 371.5 948.8 369.3 944.2 366.9 939.6 364.5 935.0 362.0 930.4 359.4 925.9 356.7 921.3 354.0 916.8 351.1 912.3 348.2 907.7 345.1 903.2 342.0 898.7 338.8 894.3 335.6 889.8 332.2 885.3 328.7Z'/></clipPath>
<linearGradient id='sg2' gradientUnits='userSpaceOnUse' x1='880.9' y1='0' x2='1106.7' y2='0'><stop offset='0.000' stop-color='#5c0000'/><stop offset='0.059' stop-color='#5c5600'/><stop offset='0.119' stop-color='#265c00'/><stop offset='0.179' stop-color='#0b5c07'/><stop offset='0.240' stop-color='#0b5c07'/><stop offset='0.301' stop-color='#0b5c07'/><stop offset='0.362' stop-color='#0b5c07'/><stop offset='0.424' stop-color='#435c00'/><stop offset='0.487' stop-color='#535c00'/><stop offset='0.551' stop-color='#435c00'/><stop offset='0.616' stop-color='#0b5c07'/><stop offset='0.680' stop-color='#0b5c07'/><stop offset='0.744' stop-color='#0b5c07'/><stop offset='0.809' stop-color='#0b5c07'/><stop offset='0.873' stop-color='#265c00'/><stop offset='0.936' stop-color='#535c00'/><stop offset='1.000' stop-color='#5c3f00'/></linearGradient><path d='M880.9 325.2 885.4 322.2 889.8 319.2 894.4 316.3 898.9 313.4 903.4 310.5 908.0 307.7 912.6 304.9 917.3 302.2 921.9 299.4 926.6 296.8 931.3 294.1 936.0 291.5 940.7 288.9 945.5 286.4 950.3 283.9 955.1 281.4 960.0 279.0 964.8 276.6 969.7 274.2 974.6 271.9 979.6 269.6 984.5 267.4 989.5 265.2 994.5 263.0 999.2 265.1 1004.0 267.1 1008.7 269.3 1013.4 271.4 1018.1 273.6 1022.9 275.9 1027.6 278.1 1032.3 280.4 1037.0 282.8 1041.6 285.1 1046.3 287.6 1051.0 290.0 1055.7 292.5 1060.3 295.0 1065.0 297.5 1069.7 300.1 1074.3 302.8 1079.0 305.4 1083.6 308.1 1088.2 310.8 1092.8 313.6 1097.5 316.4 1102.1 319.2 1106.7 322.1 1101.9 325.7 1097.1 329.2 1092.3 332.6 1087.5 336.0 1082.7 339.3 1077.9 342.5 1073.1 345.6 1068.3 348.6 1063.5 351.6 1058.7 354.5 1053.8 357.3 1049.0 360.0 1044.2 362.6 1039.3 365.2 1034.5 367.7 1029.7 370.1 1024.8 372.4 1020.0 374.7 1015.1 376.8 1010.3 378.9 1005.4 380.9 1000.5 382.9 995.7 384.7 990.8 386.5 986.1 384.9 981.4 383.3 976.7 381.5 972.0 379.7 967.3 377.8 962.7 375.8 958.0 373.7 953.4 371.5 948.8 369.3 944.2 366.9 939.6 364.5 935.0 362.0 930.4 359.4 925.9 356.7 921.3 354.0 916.8 351.1 912.3 348.2 907.7 345.1 903.2 342.0 898.7 338.8 894.3 335.6 889.8 332.2 885.3 328.7Z' transform='translate(0,2.4)' fill='url(#sg2)' filter='url(#soft)'/>
<g id='bd2' clip-path='url(#cbd2)' filter='url(#soft)'>
<path d='M880.9 325.2 885.4 322.2 889.8 319.2 894.4 316.3 898.9 313.4 903.4 310.5 908.0 307.7 912.6 304.9 917.3 302.2 921.9 299.4 926.6 296.8 931.3 294.1 936.0 291.5 940.7 288.9 945.5 286.4 950.3 283.9 955.1 281.4 960.0 279.0 964.8 276.6 969.7 274.2 974.6 271.9 979.6 269.6 984.5 267.4 989.5 265.2 994.5 263.0 999.2 265.1 1004.0 267.1 1008.7 269.3 1013.4 271.4 1018.1 273.6 1022.9 275.9 1027.6 278.1 1032.3 280.4 1037.0 282.8 1041.6 285.1 1046.3 287.6 1051.0 290.0 1055.7 292.5 1060.3 295.0 1065.0 297.5 1069.7 300.1 1074.3 302.8 1079.0 305.4 1083.6 308.1 1088.2 310.8 1092.8 313.6 1097.5 316.4 1102.1 319.2 1106.7 322.1 1101.9 325.7 1097.1 329.2 1092.3 332.6 1087.5 336.0 1082.7 339.3 1077.9 342.5 1073.1 345.6 1068.3 348.6 1063.5 351.6 1058.7 354.5 1053.8 357.3 1049.0 360.0 1044.2 362.6 1039.3 365.2 1034.5 367.7 1029.7 370.1 1024.8 372.4 1020.0 374.7 1015.1 376.8 1010.3 378.9 1005.4 380.9 1000.5 382.9 995.7 384.7 990.8 386.5 986.1 384.9 981.4 383.3 976.7 381.5 972.0 379.7 967.3 377.8 962.7 375.8 958.0 373.7 953.4 371.5 948.8 369.3 944.2 366.9 939.6 364.5 935.0 362.0 930.4 359.4 925.9 356.7 921.3 354.0 916.8 351.1 912.3 348.2 907.7 345.1 903.2 342.0 898.7 338.8 894.3 335.6 889.8 332.2 885.3 328.7Z' fill='#0000cc'/>
<path fill='#004ccc' fill-rule='evenodd' d='M881.6 324.7 908.7 307.3 936.0 291.5 964.8 276.6 994.5 263.0 1025.7 277.2 1055.9 292.6 1092.2 313.2 1106.7 322.1 1106.0 322.6 1077.2 342.9 1048.3 360.4 1020.0 374.7 990.8 386.5 976.0 381.3 962.0 375.5 947.4 368.6 932.9 360.8 917.9 351.8 903.0 341.9 882.2 326.3 880.9 325.2ZM977.4 328.1 979.4 329.4 984.5 331.5 992.0 332.7 999.8 331.2 1004.0 329.3 1005.9 327.8 1005.4 327.2 1002.9 327.0 981.5 327.2 977.6 327.4ZM958.2 344.9 959.7 346.6 962.5 348.0 964.5 348.3 965.3 348.0 965.3 347.4 963.8 345.8 960.7 344.3 958.7 344.0ZM1011.8 343.7 1011.7 344.6 1012.6 344.9 1014.9 344.3 1020.6 340.8 1021.2 339.6 1020.7 339.1 1019.0 339.3 1015.1 341.0Z'/>
<path fill='#0095cc' fill-rule='evenodd' d='M881.6 324.7 908.7 307.3 936.0 291.5 964.8 276.6 994.5 263.0 1025.7 277.2 1055.9 292.6 1092.2 313.2 1106.7 322.1 1106.0 322.6 1077.2 342.9 1048.3 360.4 1020.0 374.7 990.8 386.5 976.0 381.3 962.0 375.5 947.4 368.6 932.9 360.8 917.9 351.8 903.0 341.9 882.2 326.3 880.9 325.2ZM959.8 322.3 959.8 323.4 961.2 324.9 967.1 328.3 985.1 335.4 991.4 336.7 998.2 335.5 1012.0 329.6 1019.4 325.9 1023.3 322.8 1023.4 320.9 1022.2 320.0 1020.1 319.6 1006.2 323.5 996.4 324.7 987.7 324.7 980.9 324.2 975.7 323.0 965.4 319.7 962.0 320.3ZM947.8 339.3 948.2 341.9 950.8 345.2 955.0 348.6 960.0 351.3 966.0 353.5 970.6 354.4 974.4 354.0 976.0 352.4 975.2 349.8 972.3 346.5 967.9 343.3 962.7 340.6 957.5 338.6 952.5 337.6 949.0 338.0ZM1003.6 343.6 1000.5 347.2 999.3 350.3 1000.7 351.9 1004.8 351.9 1010.6 350.4 1017.4 347.5 1024.1 343.7 1029.1 339.8 1032.4 336.3 1033.8 333.5 1033.7 332.7 1032.6 331.6 1028.8 331.4 1022.6 333.2 1014.8 336.6 1007.9 340.4Z'/>
<path fill='#00c2cc' fill-rule='evenodd' d='M881.6 324.7 908.7 307.3 936.0 291.5 964.8 276.6 994.5 263.0 1025.7 277.2 1055.9 292.6 1092.2 313.2 1106.7 322.1 1106.0 322.6 1077.2 342.9 1048.3 360.4 1020.0 374.7 990.8 386.5 976.0 381.3 962.0 375.5 947.4 368.6 932.9 360.8 917.9 351.8 903.0 341.9 882.2 326.3 880.9 325.2ZM956.4 321.7 954.7 325.4 954.9 327.1 960.1 330.9 961.0 332.3 951.0 329.5 949.3 329.7 945.2 331.1 941.6 333.2 939.6 335.5 938.6 338.0 938.7 341.4 940.8 345.4 944.6 349.0 951.2 353.3 957.9 356.6 965.6 359.3 976.3 361.7 983.2 362.5 988.1 362.2 994.6 361.0 1006.4 357.8 1015.3 354.6 1024.1 350.5 1032.1 345.7 1039.8 339.7 1043.5 335.6 1043.0 331.7 1040.8 328.7 1037.7 326.6 1030.1 323.6 1027.3 320.2 1024.9 318.3 1020.6 316.7 1015.2 316.2 1003.1 320.7 997.1 321.6 990.5 321.7 981.2 320.5 971.7 316.7 969.3 316.5 961.4 318.1 958.4 319.8Z'/>
<path fill='#00ccb1' fill-rule='evenodd' d='M881.6 324.7 908.7 307.3 936.0 291.5 964.8 276.6 994.5 263.0 1025.7 277.2 1055.9 292.6 1092.2 313.2 1106.7 322.1 1106.0 322.6 1077.2 342.9 1048.3 360.4 1020.0 374.7 990.8 386.5 976.0 381.3 962.0 375.5 947.4 368.6 932.9 360.8 917.9 351.8 903.0 341.9 882.2 326.3 880.9 325.2ZM954.2 320.4 949.9 324.2 940.6 329.9 937.0 332.9 933.8 338.0 933.2 343.1 935.4 347.8 940.1 352.5 948.0 357.6 959.2 363.6 968.1 367.6 976.6 370.2 984.7 371.5 994.6 371.5 1002.1 370.6 1011.0 368.2 1019.6 364.7 1031.5 358.5 1041.5 352.6 1047.3 348.1 1050.8 343.4 1051.4 341.2 1051.4 338.7 1049.3 333.7 1043.7 327.0 1040.4 324.8 1033.5 321.4 1025.5 316.1 1011.5 310.3 1005.2 308.2 997.6 306.7 989.7 306.4 982.7 307.4 976.1 309.5 959.4 316.8Z'/>
<path fill='#00cc8a' fill-rule='evenodd' d='M881.6 324.7 908.7 307.3 936.0 291.5 964.8 276.6 994.5 263.0 1025.7 277.2 1055.9 292.6 1092.2 313.2 1106.7 322.1 1106.0 322.6 1077.2 342.9 1048.3 360.4 1020.0 374.7 990.8 386.5 976.0 381.3 962.0 375.5 947.4 368.6 932.9 360.8 917.9 351.8 903.0 341.9 882.2 326.3 880.9 325.2ZM951.6 319.3 938.2 328.2 933.9 331.8 930.0 337.4 929.1 340.3 928.9 342.9 929.5 345.4 930.9 348.0 935.5 352.8 943.2 358.0 955.7 364.8 966.0 369.4 975.4 372.2 984.7 373.6 994.2 373.7 1003.4 372.5 1012.7 370.0 1022.4 366.0 1034.3 360.0 1044.9 353.7 1051.8 348.3 1055.3 343.4 1056.0 340.9 1055.9 338.4 1053.4 333.0 1046.2 325.4 1024.8 313.1 1013.2 307.5 1005.4 304.7 997.4 303.0 989.8 302.9 982.4 304.2 974.6 306.9 958.1 315.1Z'/>
<path fill='#00cc46' fill-rule='evenodd' d='M881.6 324.7 908.7 307.3 936.0 291.5 964.8 276.6 994.5 263.0 1025.7 277.2 1055.9 292.6 1092.2 313.2 1106.7 322.1 1106.0 322.6 1077.2 342.9 1048.3 360.4 1020.0 374.7 990.8 386.5 976.0 381.3 962.0 375.5 947.4 368.6 932.9 360.8 917.9 351.8 903.0 341.9 882.2 326.3 880.9 325.2ZM933.9 327.6 928.2 333.4 924.9 339.4 924.7 344.7 927.4 349.9 933.7 355.6 947.9 363.9 961.7 370.3 973.5 373.8 982.8 375.2 992.1 375.4 1001.9 374.5 1011.0 372.6 1019.7 369.8 1029.0 365.7 1041.5 359.2 1051.5 353.0 1057.6 347.4 1059.7 344.2 1060.5 341.2 1060.4 338.1 1059.4 335.2 1055.1 329.3 1046.9 322.2 1027.7 311.2 1014.9 304.7 1002.5 300.5 995.7 299.6 988.9 299.8 982.2 301.0 975.6 303.1 969.8 305.6 955.5 313.4Z'/>
<path fill='#18cc0f' fill-rule='evenodd' d='M881.6 324.7 908.7 307.3 936.0 291.5 964.8 276.6 994.5 263.0 1025.7 277.2 1055.9 292.6 1092.2 313.2 1106.7 322.1 1106.0 322.6 1077.2 342.9 1048.3 360.4 1020.0 374.7 990.8 386.5 976.0 381.3 962.0 375.5 947.4 368.6 932.9 360.8 917.9 351.8 903.0 341.9 882.2 326.3 880.9 325.2ZM939.1 319.9 929.5 327.0 923.4 333.8 921.2 337.8 920.3 340.7 920.1 343.5 920.6 346.6 921.9 349.3 924.5 352.8 930.3 357.6 942.3 364.7 956.3 371.0 967.8 374.6 978.0 376.5 989.5 377.1 1001.6 376.4 1011.1 374.7 1022.6 371.2 1035.3 365.9 1046.4 360.2 1056.7 353.6 1060.2 350.6 1063.1 347.1 1064.7 343.6 1065.2 340.3 1064.7 337.0 1063.2 333.6 1058.6 327.8 1049.7 319.6 1026.9 306.6 1012.1 299.7 1003.7 297.3 995.7 296.2 987.8 296.5 980.2 298.0 971.2 301.2 962.5 305.4 951.5 311.7Z'/>
<path fill='#54cc00' fill-rule='evenodd' d='M881.6 324.7 908.7 307.3 936.0 291.5 964.8 276.6 994.5 263.0 1022.9 275.9 1051.0 290.0 1079.0 305.4 1106.7 322.1 1090.2 334.2 1074.3 344.8 1073.8 345.1 1073.9 341.6 1072.9 337.7 1069.2 330.4 1062.0 321.0 1055.3 314.9 1039.1 304.6 1023.8 296.6 1013.0 292.5 1001.6 290.3 987.3 290.3 980.4 291.3 973.4 293.0 960.1 298.5 941.3 309.4 929.0 318.3 921.0 326.5 916.6 332.8 913.3 338.8 911.8 343.4 911.6 347.7 889.6 332.0 880.9 325.2ZM967.9 377.7 990.7 378.7 1014.9 377.0 990.8 386.5 976.0 381.3Z'/>
<path fill='#95cc00' fill-rule='evenodd' d='M881.6 324.7 908.7 307.3 936.0 291.5 964.8 276.6 994.5 263.0 1022.9 275.9 1051.0 290.0 1079.0 305.4 1106.7 322.1 1082.1 339.7 1080.5 336.3 1073.6 324.7 1067.6 316.2 1062.5 310.8 1055.1 305.2 1040.0 296.4 1026.5 290.0 1014.9 286.5 1002.7 284.9 985.5 285.1 970.9 287.3 957.7 291.9 942.2 300.1 928.6 308.8 920.6 316.0 914.3 324.6 904.1 342.6 883.6 327.3 880.9 325.2ZM976.0 381.2 1006.1 380.6 990.8 386.5Z'/>
<path fill='#b9cc00' fill-rule='evenodd' d='M881.6 324.7 908.7 307.3 936.0 291.5 964.8 276.6 994.5 263.0 1022.9 275.9 1051.0 290.0 1079.0 305.4 1106.7 322.1 1088.1 335.6 1082.4 326.8 1075.2 313.6 1070.9 307.6 1064.1 301.6 1054.3 295.4 1039.3 287.7 1028.1 283.5 1016.2 281.1 1001.3 280.3 978.1 281.0 963.7 283.1 950.7 287.5 934.6 295.8 922.5 303.5 915.3 310.3 911.6 316.0 904.6 330.8 899.1 339.1 880.9 325.2ZM984.0 384.0 998.1 383.8 990.8 386.5Z'/>
<path fill='#ccc000' fill-rule='evenodd' d='M881.6 324.7 906.5 308.6 903.5 319.0 900.5 328.6 895.2 336.3 880.9 325.2ZM967.0 275.5 994.5 263.0 1020.9 275.0 1017.4 276.4 970.2 277.0ZM1080.8 306.5 1106.7 322.1 1093.8 331.6 1093.3 331.9 1091.5 329.5 1087.5 323.1Z'/>
<path fill='#cc8c00' fill-rule='evenodd' d='M881.6 324.7 897.3 314.4 897.8 316.9 897.6 322.7 895.6 328.8 891.9 333.8 880.9 325.2ZM979.6 269.6 994.5 263.0 1008.8 269.3 1001.6 271.8 993.6 272.7 985.3 271.8ZM1092.0 314.1 1092.7 313.5 1106.7 322.1 1099.5 327.5 1098.6 328.1 1095.1 323.2 1093.2 318.7Z'/>
<path fill='#cc4e00' fill-rule='evenodd' d='M881.6 324.7 891.6 318.1 892.7 319.3 892.7 324.2 891.3 328.0 888.7 331.3 880.9 325.2Z'/>
<path fill='#cc0000' fill-rule='evenodd' d='M881.6 324.7 886.0 321.7 887.6 323.6 887.3 325.4 885.2 328.6 880.9 325.2Z'/>
<g fill='#141414' fill-opacity='0.78'><polygon points='903.8,314.4 905.8,313.2 911.0,317.1 909.0,318.4'/><polygon points='910.2,318.8 912.2,317.5 917.4,321.4 915.4,322.7'/><polygon points='931.7,297.4 933.8,296.3 939.1,300.0 937.1,301.1'/><polygon points='938.3,301.6 940.3,300.4 945.7,304.1 943.6,305.3'/><polygon points='950.7,293.3 952.7,292.2 958.2,295.6 956.1,296.8'/><polygon points='954.7,295.5 956.8,294.3 962.2,297.7 960.1,298.9'/><polygon points='959.8,298.8 961.9,297.6 967.3,301.1 965.2,302.3'/><polygon points='964.5,302.1 966.6,300.8 972.0,304.2 969.9,305.5'/><polygon points='965.0,276.7 967.1,275.7 972.6,278.7 970.4,279.8'/><polygon points='973.4,270.4 975.6,269.4 981.0,272.2 978.9,273.2'/><polygon points='980.3,270.5 982.5,269.5 987.9,272.3 985.8,273.3'/><polygon points='1019.5,288.6 1021.6,287.3 1027.0,290.2 1024.9,291.5'/><polygon points='1025.6,292.3 1027.8,291.0 1033.2,293.9 1031.1,295.3'/><polygon points='1004.1,297.1 1006.2,295.8 1011.7,298.9 1009.5,300.2'/><polygon points='1010.9,293.9 1013.0,292.6 1018.4,295.6 1016.3,297.0'/><polygon points='1000.4,300.2 1002.5,298.9 1007.9,302.1 1005.8,303.4'/><polygon points='1013.4,302.0 1015.5,300.7 1020.9,303.8 1018.8,305.1'/><polygon points='1021.5,306.0 1023.6,304.6 1029.1,307.7 1026.9,309.1'/><polygon points='1029.6,307.9 1031.7,306.5 1037.1,309.6 1035.0,311.0'/><polygon points='1037.3,304.3 1039.4,302.9 1044.8,306.0 1042.7,307.4'/><polygon points='1035.9,296.9 1038.0,295.6 1043.4,298.5 1041.3,299.9'/><polygon points='1049.0,302.5 1051.2,301.1 1056.6,304.2 1054.4,305.6'/><polygon points='1058.2,325.1 1060.3,323.6 1065.7,326.9 1063.6,328.3'/><polygon points='1065.8,320.3 1067.9,318.8 1073.3,322.0 1071.2,323.5'/><polygon points='1073.0,324.4 1075.1,322.9 1080.4,326.1 1078.4,327.6'/><polygon points='1077.6,320.8 1079.7,319.3 1085.1,322.5 1083.0,324.0'/><polygon points='1035.5,323.8 1037.6,322.4 1043.1,325.6 1041.0,327.0'/><polygon points='970.9,367.2 972.9,366.1 978.3,368.8 976.2,369.8'/><polygon points='944.5,289.1 946.6,288.0 952.0,291.4 949.9,292.6'/><polygon points='970.9,294.0 973.0,292.8 978.4,296.1 976.3,297.3'/><polygon points='895.6,319.3 897.5,318.0 902.8,322.0 900.8,323.3'/><polygon points='988.6,279.4 990.8,278.2 996.2,281.1 994.1,282.3'/><polygon points='1013.4,281.6 1015.5,280.4 1021.0,283.2 1018.8,284.4'/><polygon points='1048.5,333.2 1050.6,331.8 1056.1,335.0 1054.0,336.4'/><polygon points='1041.5,339.5 1043.6,338.2 1049.0,341.3 1046.9,342.6'/><polygon points='1030.9,348.5 1033.0,347.3 1038.4,350.3 1036.4,351.6'/><polygon points='1000.6,367.6 1002.7,366.6 1008.2,369.2 1006.1,370.3'/><polygon points='1008.4,370.8 1010.5,369.8 1016.0,372.3 1013.9,373.3'/><polygon points='914.2,307.2 916.0,306.1 928.1,314.7 926.3,315.8'/><polygon points='959.2,281.6 961.1,280.7 968.8,284.9 966.9,285.9'/><polygon points='979.8,286.6 981.7,285.6 994.1,291.5 992.2,292.6'/><polygon points='996.9,270.3 998.9,269.4 1004.6,272.4 1002.6,273.4'/><polygon points='982.5,287.6 984.4,286.6 994.7,292.5 992.8,293.6'/><polygon points='1040.6,314.4 1042.5,313.1 1054.7,320.3 1052.9,321.5'/><polygon points='979.5,372.4 981.4,371.5 985.2,372.6 983.3,373.5'/><polygon points='985.5,376.8 987.4,375.9 992.3,378.0 990.4,378.8'/><polygon points='938.9,288.3 940.7,287.3 949.4,292.7 947.6,293.7'/><polygon points='953.6,276.2 955.4,275.3 963.3,280.1 961.4,281.1'/><polygon points='917.5,328.4 918.8,327.6 922.8,330.4 921.4,331.2'/><polygon points='920.7,326.4 922.0,325.6 926.0,328.4 924.6,329.2'/><polygon points='923.8,324.4 925.2,323.6 929.1,326.4 927.8,327.2'/><polygon points='927.0,322.4 928.3,321.6 932.3,324.4 931.0,325.2'/><polygon points='930.2,320.5 931.5,319.6 935.5,322.4 934.2,323.2'/><polygon points='933.4,318.5 934.7,317.7 938.7,320.4 937.4,321.2'/><polygon points='936.6,316.5 937.9,315.7 941.9,318.4 940.6,319.2'/><polygon points='939.8,314.6 941.1,313.7 945.2,316.4 943.8,317.3'/><polygon points='943.0,312.6 944.4,311.8 948.4,314.5 947.0,315.3'/><polygon points='946.2,310.6 947.6,309.8 951.6,312.5 950.2,313.3'/><polygon points='949.5,308.7 950.8,307.9 954.9,310.5 953.5,311.4'/><polygon points='952.7,306.8 954.1,306.0 958.1,308.6 956.7,309.4'/><polygon points='952.3,325.7 954.1,324.5 990.7,347.0 988.9,348.1'/><polygon points='921.8,346.1 923.6,345.0 957.4,364.7 955.5,365.7'/><polygon points='991.5,352.2 993.4,351.1 1019.0,364.8 1017.2,365.7'/></g>
</g>
</g>
<rect x='843.4' y='260.2' width='9.5' height='133.1' fill='#333'/>
<rect x='844.0' y='261.15' width='8.3' height='8.09' fill='#ff0000'/>
<rect x='844.0' y='269.94' width='8.3' height='8.09' fill='#ff6200'/>
<rect x='844.0' y='278.74' width='8.3' height='8.09' fill='#ffaf00'/>
<rect x='844.0' y='287.53' width='8.3' height='8.09' fill='#fff000'/>
<rect x='844.0' y='296.32' width='8.3' height='8.09' fill='#e7ff00'/>
<rect x='844.0' y='305.12' width='8.3' height='8.09' fill='#baff00'/>
<rect x='844.0' y='313.91' width='8.3' height='8.09' fill='#69ff00'/>
<rect x='844.0' y='322.70' width='8.3' height='8.09' fill='#1eff13'/>
<rect x='844.0' y='331.50' width='8.3' height='8.09' fill='#00ff57'/>
<rect x='844.0' y='340.29' width='8.3' height='8.09' fill='#00ffad'/>
<rect x='844.0' y='349.08' width='8.3' height='8.09' fill='#00ffdd'/>
<rect x='844.0' y='357.88' width='8.3' height='8.09' fill='#00f3ff'/>
<rect x='844.0' y='366.67' width='8.3' height='8.09' fill='#00baff'/>
<rect x='844.0' y='375.46' width='8.3' height='8.09' fill='#005fff'/>
<rect x='844.0' y='384.26' width='8.3' height='8.09' fill='#0000ff'/>
<text x='857.5' y='263.1' font-size='6.3' font-weight='bold' fill='#1a1a1a' fill-opacity='0.85'>14.795 Max</text>
<text x='857.5' y='271.9' font-size='6.3' font-weight='normal' fill='#1a1a1a' fill-opacity='0.85'>8.1893</text>
<text x='857.5' y='280.7' font-size='6.3' font-weight='normal' fill='#1a1a1a' fill-opacity='0.85'>1.5833</text>
<text x='857.5' y='289.5' font-size='6.3' font-weight='normal' fill='#1a1a1a' fill-opacity='0.85'>-5.0227</text>
<text x='857.5' y='298.3' font-size='6.3' font-weight='normal' fill='#1a1a1a' fill-opacity='0.85'>-11.629</text>
<text x='857.5' y='307.0' font-size='6.3' font-weight='normal' fill='#1a1a1a' fill-opacity='0.85'>-18.235</text>
<text x='857.5' y='315.8' font-size='6.3' font-weight='normal' fill='#1a1a1a' fill-opacity='0.85'>-24.841</text>
<text x='857.5' y='324.6' font-size='6.3' font-weight='normal' fill='#1a1a1a' fill-opacity='0.85'>-31.447</text>
<text x='857.5' y='333.4' font-size='6.3' font-weight='normal' fill='#1a1a1a' fill-opacity='0.85'>-38.053</text>
<text x='857.5' y='342.2' font-size='6.3' font-weight='normal' fill='#1a1a1a' fill-opacity='0.85'>-44.659</text>
<text x='857.5' y='351.0' font-size='6.3' font-weight='normal' fill='#1a1a1a' fill-opacity='0.85'>-51.265</text>
<text x='857.5' y='359.8' font-size='6.3' font-weight='normal' fill='#1a1a1a' fill-opacity='0.85'>-57.871</text>
<text x='857.5' y='368.6' font-size='6.3' font-weight='normal' fill='#1a1a1a' fill-opacity='0.85'>-64.477</text>
<text x='857.5' y='377.4' font-size='6.3' font-weight='normal' fill='#1a1a1a' fill-opacity='0.85'>-71.083</text>
<text x='857.5' y='386.2' font-size='6.3' font-weight='normal' fill='#1a1a1a' fill-opacity='0.85'>-77.689</text>
<text x='857.5' y='395.0' font-size='6.3' font-weight='bold' fill='#1a1a1a' fill-opacity='0.85'>-84.295 Min</text>
<clipPath id='cb3'><rect x='1128' y='254' width='247.0' height='142.0'/></clipPath>
<g clip-path='url(#cb3)'>
<rect x='1128' y='254' width='247.0' height='142.0' fill='url(#bgg)' stroke='#e8eefc' stroke-width='2'/>
<clipPath id='cbd3'><path d='M1168.1 325.2 1172.5 322.6 1176.8 320.1 1181.2 317.5 1185.5 314.9 1189.9 312.3 1194.2 309.7 1198.6 307.2 1203.0 304.6 1207.3 302.0 1211.7 299.4 1216.0 296.9 1220.4 294.3 1224.8 291.7 1229.1 289.1 1233.5 286.6 1237.8 284.0 1242.2 281.4 1246.6 278.8 1250.9 276.3 1255.3 273.7 1259.6 271.1 1264.0 268.6 1268.3 266.0 1272.7 263.4 1276.9 265.9 1281.1 268.3 1285.3 270.8 1289.5 273.2 1293.7 275.7 1298.0 278.2 1302.2 280.6 1306.4 283.1 1310.6 285.6 1314.8 288.0 1319.0 290.5 1323.2 292.9 1327.4 295.4 1331.6 297.9 1335.8 300.3 1340.0 302.8 1344.2 305.3 1348.5 307.7 1352.7 310.2 1356.9 312.6 1361.1 315.1 1365.3 317.6 1369.5 320.0 1373.7 322.5 1369.3 325.1 1364.9 327.8 1360.5 330.4 1356.1 333.0 1351.7 335.6 1347.3 338.3 1342.9 340.9 1338.5 343.5 1334.1 346.2 1329.7 348.8 1325.3 351.4 1321.0 354.1 1316.6 356.7 1312.2 359.3 1307.8 361.9 1303.4 364.6 1299.0 367.2 1294.6 369.8 1290.2 372.5 1285.8 375.1 1281.4 377.7 1277.0 380.3 1272.6 383.0 1268.2 385.6 1264.0 383.1 1259.9 380.6 1255.7 378.0 1251.5 375.5 1247.3 373.0 1243.2 370.5 1239.0 368.0 1234.8 365.5 1230.7 362.9 1226.5 360.4 1222.3 357.9 1218.2 355.4 1214.0 352.9 1209.8 350.4 1205.6 347.9 1201.5 345.3 1197.3 342.8 1193.1 340.3 1189.0 337.8 1184.8 335.3 1180.6 332.8 1176.4 330.2 1172.3 327.7Z'/></clipPath>
<linearGradient id='sg3' gradientUnits='userSpaceOnUse' x1='1168.1' y1='0' x2='1373.7' y2='0'><stop offset='0.000' stop-color='#5c0000'/><stop offset='0.061' stop-color='#5c4400'/><stop offset='0.122' stop-color='#5c5c00'/><stop offset='0.183' stop-color='#505c00'/><stop offset='0.243' stop-color='#3c5c00'/><stop offset='0.304' stop-color='#3c5c00'/><stop offset='0.365' stop-color='#165c00'/><stop offset='0.426' stop-color='#165c00'/><stop offset='0.487' stop-color='#3c5c00'/><stop offset='0.551' stop-color='#165c00'/><stop offset='0.615' stop-color='#165c00'/><stop offset='0.679' stop-color='#165c00'/><stop offset='0.743' stop-color='#165c00'/><stop offset='0.808' stop-color='#165c00'/><stop offset='0.872' stop-color='#3c5c00'/><stop offset='0.936' stop-color='#3c5c00'/><stop offset='1.000' stop-color='#3c5c00'/></linearGradient><path d='M1168.1 325.2 1172.5 322.6 1176.8 320.1 1181.2 317.5 1185.5 314.9 1189.9 312.3 1194.2 309.7 1198.6 307.2 1203.0 304.6 1207.3 302.0 1211.7 299.4 1216.0 296.9 1220.4 294.3 1224.8 291.7 1229.1 289.1 1233.5 286.6 1237.8 284.0 1242.2 281.4 1246.6 278.8 1250.9 276.3 1255.3 273.7 1259.6 271.1 1264.0 268.6 1268.3 266.0 1272.7 263.4 1276.9 265.9 1281.1 268.3 1285.3 270.8 1289.5 273.2 1293.7 275.7 1298.0 278.2 1302.2 280.6 1306.4 283.1 1310.6 285.6 1314.8 288.0 1319.0 290.5 1323.2 292.9 1327.4 295.4 1331.6 297.9 1335.8 300.3 1340.0 302.8 1344.2 305.3 1348.5 307.7 1352.7 310.2 1356.9 312.6 1361.1 315.1 1365.3 317.6 1369.5 320.0 1373.7 322.5 1369.3 325.1 1364.9 327.8 1360.5 330.4 1356.1 333.0 1351.7 335.6 1347.3 338.3 1342.9 340.9 1338.5 343.5 1334.1 346.2 1329.7 348.8 1325.3 351.4 1321.0 354.1 1316.6 356.7 1312.2 359.3 1307.8 361.9 1303.4 364.6 1299.0 367.2 1294.6 369.8 1290.2 372.5 1285.8 375.1 1281.4 377.7 1277.0 380.3 1272.6 383.0 1268.2 385.6 1264.0 383.1 1259.9 380.6 1255.7 378.0 1251.5 375.5 1247.3 373.0 1243.2 370.5 1239.0 368.0 1234.8 365.5 1230.7 362.9 1226.5 360.4 1222.3 357.9 1218.2 355.4 1214.0 352.9 1209.8 350.4 1205.6 347.9 1201.5 345.3 1197.3 342.8 1193.1 340.3 1189.0 337.8 1184.8 335.3 1180.6 332.8 1176.4 330.2 1172.3 327.7Z' transform='translate(0,2.4)' fill='url(#sg3)' filter='url(#soft)'/>
<g id='bd3' clip-path='url(#cbd3)' filter='url(#soft)'>
<path d='M1168.1 325.2 1172.5 322.6 1176.8 320.1 1181.2 317.5 1185.5 314.9 1189.9 312.3 1194.2 309.7 1198.6 307.2 1203.0 304.6 1207.3 302.0 1211.7 299.4 1216.0 296.9 1220.4 294.3 1224.8 291.7 1229.1 289.1 1233.5 286.6 1237.8 284.0 1242.2 281.4 1246.6 278.8 1250.9 276.3 1255.3 273.7 1259.6 271.1 1264.0 268.6 1268.3 266.0 1272.7 263.4 1276.9 265.9 1281.1 268.3 1285.3 270.8 1289.5 273.2 1293.7 275.7 1298.0 278.2 1302.2 280.6 1306.4 283.1 1310.6 285.6 1314.8 288.0 1319.0 290.5 1323.2 292.9 1327.4 295.4 1331.6 297.9 1335.8 300.3 1340.0 302.8 1344.2 305.3 1348.5 307.7 1352.7 310.2 1356.9 312.6 1361.1 315.1 1365.3 317.6 1369.5 320.0 1373.7 322.5 1369.3 325.1 1364.9 327.8 1360.5 330.4 1356.1 333.0 1351.7 335.6 1347.3 338.3 1342.9 340.9 1338.5 343.5 1334.1 346.2 1329.7 348.8 1325.3 351.4 1321.0 354.1 1316.6 356.7 1312.2 359.3 1307.8 361.9 1303.4 364.6 1299.0 367.2 1294.6 369.8 1290.2 372.5 1285.8 375.1 1281.4 377.7 1277.0 380.3 1272.6 383.0 1268.2 385.6 1264.0 383.1 1259.9 380.6 1255.7 378.0 1251.5 375.5 1247.3 373.0 1243.2 370.5 1239.0 368.0 1234.8 365.5 1230.7 362.9 1226.5 360.4 1222.3 357.9 1218.2 355.4 1214.0 352.9 1209.8 350.4 1205.6 347.9 1201.5 345.3 1197.3 342.8 1193.1 340.3 1189.0 337.8 1184.8 335.3 1180.6 332.8 1176.4 330.2 1172.3 327.7Z' fill='#0000cc'/>
<path fill='#0052cc' fill-rule='evenodd' d='M1168.8 324.8 1272.7 263.4 1373.7 322.5 1373.0 322.9 1268.2 385.6 1168.1 325.2ZM1243.0 345.8 1242.4 347.2 1242.6 349.1 1243.7 350.7 1245.1 351.4 1247.2 350.9 1254.0 347.1 1256.8 345.1 1256.8 344.4 1252.5 342.5 1247.2 343.0 1245.0 344.1ZM1273.3 345.1 1277.2 348.0 1284.1 351.8 1287.9 352.5 1293.9 349.7 1300.1 345.6 1304.2 341.8 1306.7 337.8 1307.0 334.7 1305.5 332.6 1301.4 331.3 1297.2 331.5 1293.8 332.8 1284.5 337.9Z'/>
<path fill='#00a0cc' fill-rule='evenodd' d='M1168.8 324.8 1272.7 263.4 1373.7 322.5 1373.0 322.9 1268.2 385.6 1168.1 325.2ZM1237.1 341.9 1234.6 344.9 1233.8 348.3 1234.7 351.5 1237.4 354.4 1238.8 355.1 1240.2 355.0 1250.0 350.2 1258.4 345.0 1258.7 344.4 1257.9 343.7 1251.2 339.9 1245.5 338.1 1241.2 339.4ZM1271.7 345.2 1291.9 357.2 1293.5 357.4 1325.2 338.5 1326.4 337.6 1326.0 336.8 1305.7 325.0 1279.8 339.7 1272.6 344.1Z'/>
<path fill='#00cccc' fill-rule='evenodd' d='M1168.8 324.8 1272.7 263.4 1373.7 322.5 1373.0 322.9 1268.2 385.6 1168.1 325.2ZM1227.1 338.9 1224.1 342.5 1222.8 346.4 1223.5 347.6 1226.9 350.5 1236.4 356.5 1238.6 356.7 1250.4 350.4 1258.2 345.7 1259.4 344.3 1243.3 335.2 1239.1 333.5 1236.3 333.4 1231.2 335.8ZM1271.0 344.9 1271.8 345.9 1279.9 350.8 1291.4 357.5 1293.3 358.0 1327.4 337.5 1313.3 328.7 1305.4 324.5Z'/>
<path fill='#00cca6' fill-rule='evenodd' d='M1168.8 324.8 1272.7 263.4 1373.7 322.5 1373.0 322.9 1268.2 385.6 1168.1 325.2ZM1237.6 321.4 1244.3 325.6 1247.2 326.6 1246.0 322.4 1246.2 317.0 1243.1 318.2ZM1209.1 339.1 1208.8 339.6 1209.6 340.3 1237.3 357.5 1245.3 353.7 1259.7 345.0 1259.8 344.1 1258.7 343.3 1230.0 327.2 1228.1 327.7ZM1269.2 303.4 1270.9 303.1 1270.5 302.6ZM1258.6 333.6 1259.3 334.6 1268.0 339.9 1277.6 333.8 1278.1 333.2 1269.0 334.1ZM1297.5 319.4 1296.4 322.3 1298.1 321.7 1300.8 320.2 1298.7 318.9ZM1270.5 345.2 1291.0 357.7 1293.7 358.3 1326.6 338.6 1327.9 337.2 1307.4 324.7 1305.0 324.2 1271.9 343.7Z'/>
<path fill='#00cc7a' fill-rule='evenodd' d='M1168.8 324.8 1272.7 263.4 1373.7 322.5 1373.0 322.9 1268.2 385.6 1168.1 325.2ZM1236.3 321.4 1237.7 322.8 1265.7 339.9 1268.4 340.8 1302.5 320.4 1302.3 319.6 1298.5 317.3 1288.8 312.3 1286.5 311.8 1288.1 313.8 1288.9 316.3 1288.0 320.4 1284.2 324.4 1277.5 327.6 1270.5 328.8 1262.9 328.0 1258.0 325.8 1256.1 323.9 1255.1 321.9 1255.0 318.8 1256.5 315.8 1259.6 312.9 1263.7 310.7 1268.1 309.3 1273.3 308.6 1277.8 308.7 1283.5 309.9 1282.2 308.4 1277.4 305.2 1270.2 301.3ZM1207.9 339.8 1235.5 357.1 1237.9 357.8 1249.7 351.6 1260.5 344.7 1260.2 343.9 1258.4 342.7 1230.0 326.7 1226.3 328.2 1209.3 338.3ZM1269.9 344.8 1270.5 345.9 1278.6 350.9 1291.3 358.3 1293.1 358.7 1295.5 357.8 1328.2 337.9 1328.3 336.9 1327.2 336.1 1307.7 324.5 1305.7 323.8 1303.9 324.4 1297.9 327.8Z'/>
<path fill='#00cc1e' fill-rule='evenodd' d='M1168.8 324.8 1272.7 263.4 1373.7 322.5 1373.0 322.9 1268.2 385.6 1168.1 325.2ZM1235.7 321.8 1265.6 340.6 1268.2 341.5 1269.9 340.9 1289.6 329.2 1303.3 320.4 1303.4 319.7 1302.2 318.8 1270.8 300.9 1268.3 301.8 1237.5 320.0ZM1207.3 339.4 1209.2 341.2 1235.1 357.3 1237.4 358.2 1239.2 357.8 1246.2 354.2 1261.3 345.2 1261.3 344.0 1260.2 343.1 1229.7 326.3 1227.3 327.2ZM1269.2 344.5 1269.3 346.0 1274.1 349.7 1274.1 350.5 1267.6 349.9 1261.8 351.0 1256.3 354.0 1253.3 357.7 1252.8 360.2 1253.7 362.7 1256.1 365.8 1260.0 368.7 1263.4 370.4 1266.9 371.4 1270.3 371.6 1274.1 370.9 1279.5 368.7 1284.2 365.2 1286.2 361.6 1285.9 357.5 1286.7 357.2 1292.2 359.3 1293.8 359.1 1328.6 338.2 1329.0 337.2 1328.2 336.2 1318.9 330.6 1307.5 323.9 1305.1 323.5 1292.7 330.2ZM1261.9 316.6 1264.7 314.4 1268.6 312.7 1273.5 312.0 1277.7 312.5 1281.2 314.2 1282.8 316.2 1282.9 318.9 1281.4 321.2 1278.5 323.3 1274.8 324.7 1271.2 325.3 1266.8 325.0 1263.0 323.5 1261.2 321.6 1260.8 319.1Z'/>
<path fill='#30cc00' fill-rule='evenodd' d='M1168.8 324.8 1272.7 263.4 1373.7 322.5 1373.0 322.9 1268.2 385.6 1168.1 325.2ZM1235.0 321.5 1235.6 322.6 1245.9 329.7 1248.3 331.9 1248.1 333.4 1245.1 333.2 1231.6 326.4 1229.1 325.9 1208.0 338.3 1206.9 339.2 1207.1 340.2 1235.9 358.4 1240.3 358.7 1243.3 364.3 1247.1 368.2 1254.3 373.6 1261.1 377.1 1267.0 378.5 1273.1 378.3 1280.0 376.1 1288.3 371.6 1294.0 367.1 1300.1 359.8 1303.8 356.4 1328.9 339.2 1330.1 337.5 1329.7 336.1 1318.6 328.5 1308.8 323.2 1304.9 321.8 1304.7 319.6 1303.7 318.7 1271.4 300.6 1270.2 300.5 1267.9 301.5 1236.4 320.2ZM1268.1 318.0 1270.8 316.4 1273.9 316.3 1275.8 317.4 1275.7 319.3 1273.1 320.9 1269.8 321.0 1267.9 319.8Z'/>
<path fill='#85cc00' fill-rule='evenodd' d='M1168.8 324.8 1272.7 263.4 1373.7 322.5 1340.6 342.3 1342.2 339.1 1342.3 336.1 1341.4 333.6 1339.0 330.5 1334.6 327.2 1327.5 323.2 1293.0 306.4 1286.1 303.8 1276.4 301.9 1272.1 300.2 1268.7 300.5 1235.2 320.2 1234.1 322.0 1235.1 324.0 1234.0 325.0 1227.7 325.9 1206.4 338.9 1206.2 340.0 1206.7 340.5 1227.1 354.6 1230.4 358.1 1236.4 366.4 1168.1 325.2Z'/>
<path fill='#b1cc00' fill-rule='evenodd' d='M1168.8 324.8 1272.7 263.4 1310.2 285.4 1308.8 289.2 1305.9 292.1 1301.7 293.5 1294.8 294.2 1285.3 294.6 1277.0 295.8 1270.5 297.6 1261.0 301.3 1254.9 304.7 1213.7 330.8 1208.2 335.3 1204.8 339.5 1204.9 340.8 1206.9 345.6 1212.1 351.7 1168.1 325.2Z'/>
<path fill='#cccc00' fill-rule='evenodd' d='M1168.8 324.8 1252.9 275.1 1266.3 274.6 1274.1 276.7 1277.2 278.5 1279.5 281.0 1282.1 285.4 1282.2 286.7 1281.5 287.9 1276.0 291.6 1265.2 296.8 1261.8 297.9 1255.3 298.7 1251.0 300.8 1232.3 313.0 1202.9 330.5 1197.1 335.7 1194.2 341.0 1168.1 325.2Z'/>
<path fill='#cc9600' fill-rule='evenodd' d='M1168.8 324.8 1201.7 305.4 1215.8 299.3 1225.8 296.3 1233.3 295.6 1235.1 296.0 1235.9 297.0 1235.6 298.7 1233.6 301.4 1228.2 305.9 1220.6 310.7 1197.1 321.6 1183.1 334.3 1168.1 325.2ZM1244.8 287.9 1256.5 281.6 1261.9 279.4 1265.0 278.9 1268.8 279.8 1273.3 282.4 1275.3 285.0 1274.9 287.0 1272.3 289.4 1268.3 291.7 1262.1 294.2 1258.2 295.0 1252.2 294.1 1246.6 292.2 1244.3 289.9Z'/>
<path fill='#cc5500' fill-rule='evenodd' d='M1168.8 324.8 1177.6 319.6 1180.1 321.8 1181.0 325.0 1180.0 327.7 1176.8 330.5 1168.1 325.2Z'/>
<path fill='#cc0000' fill-rule='evenodd' d='M1168.8 324.8 1171.8 323.0 1172.8 323.9 1173.2 325.2 1171.6 327.3 1168.1 325.2Z'/>
<g fill='#141414' fill-opacity='0.78'><polygon points='1190.1,315.4 1192.0,314.3 1196.8,317.2 1194.9,318.3'/><polygon points='1196.0,318.6 1197.9,317.5 1202.7,320.4 1200.8,321.5'/><polygon points='1216.4,299.7 1218.3,298.6 1223.1,301.5 1221.2,302.6'/><polygon points='1222.3,303.0 1224.2,301.8 1229.0,304.7 1227.1,305.8'/><polygon points='1233.7,295.1 1235.6,294.0 1240.4,296.9 1238.5,298.0'/><polygon points='1237.3,296.9 1239.2,295.8 1244.0,298.6 1242.1,299.7'/><polygon points='1241.8,299.7 1243.7,298.5 1248.5,301.4 1246.6,302.5'/><polygon points='1246.0,302.4 1247.9,301.2 1252.7,304.1 1250.8,305.2'/><polygon points='1246.7,278.9 1248.6,277.8 1253.4,280.7 1251.5,281.8'/><polygon points='1254.2,272.1 1256.1,271.0 1260.9,273.8 1259.1,274.9'/><polygon points='1260.3,272.1 1262.2,271.0 1267.1,273.8 1265.2,274.9'/><polygon points='1295.1,290.2 1297.0,289.1 1301.8,291.9 1300.0,293.1'/><polygon points='1300.6,293.9 1302.5,292.7 1307.4,295.6 1305.5,296.7'/><polygon points='1281.5,297.6 1283.4,296.5 1288.2,299.4 1286.3,300.5'/><polygon points='1287.5,294.9 1289.4,293.8 1294.3,296.6 1292.4,297.7'/><polygon points='1278.1,300.4 1280.0,299.3 1284.9,302.1 1283.0,303.2'/><polygon points='1289.7,302.2 1291.6,301.0 1296.5,303.9 1294.6,305.0'/><polygon points='1297.0,305.8 1298.9,304.7 1303.7,307.5 1301.8,308.6'/><polygon points='1304.2,307.7 1306.1,306.5 1310.9,309.4 1309.0,310.5'/><polygon points='1311.0,304.8 1312.9,303.7 1317.8,306.5 1315.9,307.7'/><polygon points='1309.8,298.3 1311.7,297.2 1316.5,300.1 1314.7,301.2'/><polygon points='1321.6,303.8 1323.5,302.6 1328.3,305.5 1326.4,306.6'/><polygon points='1329.8,323.1 1331.7,322.0 1336.5,324.8 1334.6,326.0'/><polygon points='1336.6,319.4 1338.5,318.2 1343.4,321.1 1341.5,322.2'/><polygon points='1343.1,323.0 1345.0,321.9 1349.8,324.7 1347.9,325.8'/><polygon points='1347.3,320.2 1349.2,319.1 1354.0,321.9 1352.1,323.1'/><polygon points='1309.4,321.4 1311.3,320.3 1316.2,323.1 1314.3,324.3'/><polygon points='1250.7,361.1 1252.6,360.0 1257.4,362.9 1255.5,364.0'/><polygon points='1228.2,291.6 1230.1,290.5 1234.9,293.4 1233.0,294.5'/><polygon points='1251.8,295.1 1253.7,294.0 1258.5,296.8 1256.7,297.9'/><polygon points='1182.3,319.8 1184.1,318.6 1189.0,321.5 1187.1,322.6'/><polygon points='1267.7,281.0 1269.6,279.9 1274.4,282.8 1272.5,283.9'/><polygon points='1289.7,283.5 1291.5,282.4 1296.4,285.2 1294.5,286.4'/><polygon points='1321.0,329.8 1322.9,328.6 1327.7,331.5 1325.8,332.6'/><polygon points='1314.6,335.1 1316.5,334.0 1321.3,336.8 1319.4,338.0'/><polygon points='1305.0,343.1 1306.9,342.0 1311.7,344.9 1309.8,346.0'/><polygon points='1277.5,361.9 1279.4,360.7 1284.2,363.6 1282.3,364.7'/><polygon points='1284.4,365.4 1286.3,364.2 1291.1,367.1 1289.2,368.2'/><polygon points='1200.0,308.9 1201.7,307.9 1212.7,314.4 1211.0,315.4'/><polygon points='1241.5,284.0 1243.2,283.0 1250.0,286.7 1248.4,287.7'/><polygon points='1259.9,288.1 1261.5,287.1 1272.6,292.6 1270.9,293.6'/><polygon points='1275.0,271.7 1276.7,270.7 1281.7,274.0 1280.1,275.0'/><polygon points='1262.3,289.0 1263.9,288.0 1273.1,293.4 1271.4,294.4'/><polygon points='1314.0,313.5 1315.7,312.5 1326.7,319.0 1325.0,320.0'/><polygon points='1258.4,366.9 1260.1,365.9 1263.5,367.2 1261.8,368.2'/><polygon points='1263.7,372.2 1265.4,371.2 1269.7,373.8 1268.0,374.8'/><polygon points='1223.1,291.3 1224.7,290.3 1232.5,294.7 1230.9,295.6'/><polygon points='1236.5,279.0 1238.2,278.0 1245.2,282.4 1243.5,283.4'/><polygon points='1202.6,326.2 1203.8,325.4 1207.4,327.6 1206.2,328.3'/><polygon points='1205.6,324.4 1206.8,323.7 1210.4,325.8 1209.2,326.6'/><polygon points='1208.5,322.6 1209.8,321.9 1213.4,324.1 1212.1,324.8'/><polygon points='1211.5,320.9 1212.8,320.1 1216.4,322.3 1215.1,323.0'/><polygon points='1214.5,319.1 1215.7,318.4 1219.3,320.5 1218.1,321.3'/><polygon points='1217.5,317.4 1218.7,316.6 1222.3,318.8 1221.1,319.5'/><polygon points='1220.4,315.6 1221.7,314.8 1225.3,317.0 1224.0,317.8'/><polygon points='1223.4,313.8 1224.7,313.1 1228.3,315.2 1227.0,316.0'/><polygon points='1226.4,312.1 1227.6,311.3 1231.2,313.5 1230.0,314.2'/><polygon points='1229.3,310.3 1230.6,309.6 1234.2,311.7 1233.0,312.5'/><polygon points='1232.3,308.5 1233.6,307.8 1237.2,310.0 1235.9,310.7'/><polygon points='1235.3,306.8 1236.6,306.0 1240.2,308.2 1238.9,308.9'/><polygon points='1234.6,322.9 1236.3,321.9 1269.0,341.4 1267.3,342.4'/><polygon points='1206.2,340.9 1207.9,339.9 1238.5,358.4 1236.9,359.4'/><polygon points='1269.6,346.3 1271.3,345.3 1294.0,358.9 1292.3,359.9'/></g>
</g>
</g>
<rect x='1129.9' y='259.3' width='10.6' height='133.7' fill='#333'/>
<rect x='1130.5' y='260.25' width='9.4' height='8.76' fill='#FF0000'/>
<rect x='1130.5' y='269.71' width='9.4' height='8.76' fill='#FF6A00'/>
<rect x='1130.5' y='279.18' width='9.4' height='8.76' fill='#FFBB00'/>
<rect x='1130.5' y='288.64' width='9.4' height='8.76' fill='#FFFF00'/>
<rect x='1130.5' y='298.11' width='9.4' height='8.76' fill='#DDFF00'/>
<rect x='1130.5' y='307.57' width='9.4' height='8.76' fill='#A6FF00'/>
<rect x='1130.5' y='317.04' width='9.4' height='8.76' fill='#3CFF00'/>
<rect x='1130.5' y='326.50' width='9.4' height='8.76' fill='#00FF26'/>
<rect x='1130.5' y='335.96' width='9.4' height='8.76' fill='#00FF99'/>
<rect x='1130.5' y='345.43' width='9.4' height='8.76' fill='#00FFD0'/>
<rect x='1130.5' y='354.89' width='9.4' height='8.76' fill='#00FFFF'/>
<rect x='1130.5' y='364.36' width='9.4' height='8.76' fill='#00C8FF'/>
<rect x='1130.5' y='373.82' width='9.4' height='8.76' fill='#0066FF'/>
<rect x='1130.5' y='383.29' width='9.4' height='8.76' fill='#0000FF'/>
<text x='1145.1' y='262.4' font-size='6.8' font-weight='bold' fill='#1a1a1a' fill-opacity='0.85'>15.54 Max</text>
<text x='1145.1' y='271.8' font-size='6.8' font-weight='normal' fill='#1a1a1a' fill-opacity='0.85'>11.561</text>
<text x='1145.1' y='281.3' font-size='6.8' font-weight='normal' fill='#1a1a1a' fill-opacity='0.85'>7.5829</text>
<text x='1145.1' y='290.7' font-size='6.8' font-weight='normal' fill='#1a1a1a' fill-opacity='0.85'>3.6044</text>
<text x='1145.1' y='300.2' font-size='6.8' font-weight='normal' fill='#1a1a1a' fill-opacity='0.85'>-0.37419</text>
<text x='1145.1' y='309.7' font-size='6.8' font-weight='normal' fill='#1a1a1a' fill-opacity='0.85'>-4.3527</text>
<text x='1145.1' y='319.1' font-size='6.8' font-weight='normal' fill='#1a1a1a' fill-opacity='0.85'>-8.3313</text>
<text x='1145.1' y='328.6' font-size='6.8' font-weight='normal' fill='#1a1a1a' fill-opacity='0.85'>-12.31</text>
<text x='1145.1' y='338.1' font-size='6.8' font-weight='normal' fill='#1a1a1a' fill-opacity='0.85'>-16.288</text>
<text x='1145.1' y='347.5' font-size='6.8' font-weight='normal' fill='#1a1a1a' fill-opacity='0.85'>-20.267</text>
<text x='1145.1' y='357.0' font-size='6.8' font-weight='normal' fill='#1a1a1a' fill-opacity='0.85'>-24.245</text>
<text x='1145.1' y='366.5' font-size='6.8' font-weight='normal' fill='#1a1a1a' fill-opacity='0.85'>-28.224</text>
<text x='1145.1' y='375.9' font-size='6.8' font-weight='normal' fill='#1a1a1a' fill-opacity='0.85'>-32.203</text>
<text x='1145.1' y='385.4' font-size='6.8' font-weight='normal' fill='#1a1a1a' fill-opacity='0.85'>-36.181</text>
<text x='1145.1' y='394.9' font-size='6.8' font-weight='bold' fill='#1a1a1a' fill-opacity='0.85'>-40.16 Min</text>
<clipPath id='cb4'><rect x='1390.7' y='256' width='289.8' height='146.0'/></clipPath>
<g clip-path='url(#cb4)'>
<rect x='1390.7' y='256' width='289.8' height='146.0' fill='url(#bgg)' stroke='#e8eefc' stroke-width='2'/>
<clipPath id='cbd4'><path d='M1433.7 329.2 1439.1 326.3 1444.5 323.3 1449.9 320.4 1455.3 317.5 1460.7 314.5 1466.1 311.6 1471.5 308.7 1476.9 305.7 1482.3 302.8 1487.7 299.9 1493.1 296.9 1498.6 294.0 1504.0 291.1 1509.4 288.1 1514.8 285.2 1520.2 282.3 1525.6 279.3 1531.0 276.4 1536.4 273.5 1541.8 270.5 1547.2 267.6 1552.6 264.7 1558.0 261.7 1563.4 258.8 1568.2 261.6 1573.1 264.4 1577.9 267.2 1582.7 270.0 1587.5 272.8 1592.4 275.6 1597.2 278.4 1602.0 281.2 1606.8 284.0 1611.7 286.8 1616.5 289.6 1621.3 292.4 1626.1 295.2 1631.0 298.0 1635.8 300.8 1640.6 303.6 1645.4 306.4 1650.3 309.2 1655.1 312.0 1659.9 314.8 1664.7 317.6 1669.6 320.4 1674.4 323.2 1679.2 326.0 1673.8 329.0 1668.4 332.0 1663.0 335.0 1657.6 338.0 1652.2 340.9 1646.8 343.9 1641.4 346.9 1636.0 349.9 1630.6 352.9 1625.2 355.9 1619.8 358.9 1614.3 361.9 1608.9 364.8 1603.5 367.8 1598.1 370.8 1592.7 373.8 1587.3 376.8 1581.9 379.8 1576.5 382.8 1571.1 385.8 1565.7 388.7 1560.3 391.7 1554.9 394.7 1549.5 397.7 1544.7 394.8 1539.9 392.0 1535.0 389.1 1530.2 386.3 1525.4 383.4 1520.5 380.6 1515.7 377.7 1510.9 374.9 1506.1 372.0 1501.2 369.2 1496.4 366.3 1491.6 363.4 1486.8 360.6 1482.0 357.7 1477.1 354.9 1472.3 352.0 1467.5 349.2 1462.6 346.3 1457.8 343.5 1453.0 340.6 1448.2 337.8 1443.4 334.9 1438.5 332.1Z'/></clipPath>
<linearGradient id='sg4' gradientUnits='userSpaceOnUse' x1='1433.7' y1='0' x2='1679.2' y2='0'><stop offset='0.000' stop-color='#5c4400'/><stop offset='0.059' stop-color='#5c5c00'/><stop offset='0.118' stop-color='#505c00'/><stop offset='0.177' stop-color='#3c5c00'/><stop offset='0.236' stop-color='#3c5c00'/><stop offset='0.295' stop-color='#165c00'/><stop offset='0.354' stop-color='#005c0e'/><stop offset='0.413' stop-color='#005c37'/><stop offset='0.472' stop-color='#005c0e'/><stop offset='0.538' stop-color='#005c37'/><stop offset='0.604' stop-color='#005c37'/><stop offset='0.670' stop-color='#005c37'/><stop offset='0.736' stop-color='#005c0e'/><stop offset='0.802' stop-color='#005c0e'/><stop offset='0.868' stop-color='#005c0e'/><stop offset='0.934' stop-color='#005c0e'/><stop offset='1.000' stop-color='#005c0e'/></linearGradient><path d='M1433.7 329.2 1439.1 326.3 1444.5 323.3 1449.9 320.4 1455.3 317.5 1460.7 314.5 1466.1 311.6 1471.5 308.7 1476.9 305.7 1482.3 302.8 1487.7 299.9 1493.1 296.9 1498.6 294.0 1504.0 291.1 1509.4 288.1 1514.8 285.2 1520.2 282.3 1525.6 279.3 1531.0 276.4 1536.4 273.5 1541.8 270.5 1547.2 267.6 1552.6 264.7 1558.0 261.7 1563.4 258.8 1568.2 261.6 1573.1 264.4 1577.9 267.2 1582.7 270.0 1587.5 272.8 1592.4 275.6 1597.2 278.4 1602.0 281.2 1606.8 284.0 1611.7 286.8 1616.5 289.6 1621.3 292.4 1626.1 295.2 1631.0 298.0 1635.8 300.8 1640.6 303.6 1645.4 306.4 1650.3 309.2 1655.1 312.0 1659.9 314.8 1664.7 317.6 1669.6 320.4 1674.4 323.2 1679.2 326.0 1673.8 329.0 1668.4 332.0 1663.0 335.0 1657.6 338.0 1652.2 340.9 1646.8 343.9 1641.4 346.9 1636.0 349.9 1630.6 352.9 1625.2 355.9 1619.8 358.9 1614.3 361.9 1608.9 364.8 1603.5 367.8 1598.1 370.8 1592.7 373.8 1587.3 376.8 1581.9 379.8 1576.5 382.8 1571.1 385.8 1565.7 388.7 1560.3 391.7 1554.9 394.7 1549.5 397.7 1544.7 394.8 1539.9 392.0 1535.0 389.1 1530.2 386.3 1525.4 383.4 1520.5 380.6 1515.7 377.7 1510.9 374.9 1506.1 372.0 1501.2 369.2 1496.4 366.3 1491.6 363.4 1486.8 360.6 1482.0 357.7 1477.1 354.9 1472.3 352.0 1467.5 349.2 1462.6 346.3 1457.8 343.5 1453.0 340.6 1448.2 337.8 1443.4 334.9 1438.5 332.1Z' transform='translate(0,2.4)' fill='url(#sg4)' filter='url(#soft)'/>
<g id='bd4' clip-path='url(#cbd4)' filter='url(#soft)'>
<path d='M1433.7 329.2 1439.1 326.3 1444.5 323.3 1449.9 320.4 1455.3 317.5 1460.7 314.5 1466.1 311.6 1471.5 308.7 1476.9 305.7 1482.3 302.8 1487.7 299.9 1493.1 296.9 1498.6 294.0 1504.0 291.1 1509.4 288.1 1514.8 285.2 1520.2 282.3 1525.6 279.3 1531.0 276.4 1536.4 273.5 1541.8 270.5 1547.2 267.6 1552.6 264.7 1558.0 261.7 1563.4 258.8 1568.2 261.6 1573.1 264.4 1577.9 267.2 1582.7 270.0 1587.5 272.8 1592.4 275.6 1597.2 278.4 1602.0 281.2 1606.8 284.0 1611.7 286.8 1616.5 289.6 1621.3 292.4 1626.1 295.2 1631.0 298.0 1635.8 300.8 1640.6 303.6 1645.4 306.4 1650.3 309.2 1655.1 312.0 1659.9 314.8 1664.7 317.6 1669.6 320.4 1674.4 323.2 1679.2 326.0 1673.8 329.0 1668.4 332.0 1663.0 335.0 1657.6 338.0 1652.2 340.9 1646.8 343.9 1641.4 346.9 1636.0 349.9 1630.6 352.9 1625.2 355.9 1619.8 358.9 1614.3 361.9 1608.9 364.8 1603.5 367.8 1598.1 370.8 1592.7 373.8 1587.3 376.8 1581.9 379.8 1576.5 382.8 1571.1 385.8 1565.7 388.7 1560.3 391.7 1554.9 394.7 1549.5 397.7 1544.7 394.8 1539.9 392.0 1535.0 389.1 1530.2 386.3 1525.4 383.4 1520.5 380.6 1515.7 377.7 1510.9 374.9 1506.1 372.0 1501.2 369.2 1496.4 366.3 1491.6 363.4 1486.8 360.6 1482.0 357.7 1477.1 354.9 1472.3 352.0 1467.5 349.2 1462.6 346.3 1457.8 343.5 1453.0 340.6 1448.2 337.8 1443.4 334.9 1438.5 332.1Z' fill='#0000cc'/>
<path fill='#0052cc' fill-rule='evenodd' d='M1434.5 328.8 1563.4 258.8 1679.2 326.0 1678.4 326.4 1549.5 397.7 1433.7 329.2ZM1523.6 353.3 1523.0 356.2 1524.8 358.4 1528.4 357.5 1535.8 353.6 1538.3 351.9 1538.2 351.1 1536.4 350.2 1533.2 349.7 1527.5 350.5 1525.0 351.8ZM1557.2 351.3 1560.2 353.8 1570.0 359.1 1574.5 360.6 1575.9 360.5 1582.0 357.7 1588.0 353.8 1592.2 349.8 1594.8 345.5 1595.2 342.0 1594.0 339.3 1590.8 337.0 1587.7 336.2 1585.3 336.7 1577.3 340.3Z'/>
<path fill='#00a0cc' fill-rule='evenodd' d='M1434.5 328.8 1563.4 258.8 1679.2 326.0 1678.4 326.4 1549.5 397.7 1433.7 329.2ZM1515.9 348.5 1513.5 351.5 1512.7 355.2 1513.8 358.7 1516.7 362.0 1518.9 362.5 1521.4 361.7 1530.9 357.1 1540.5 351.7 1540.9 351.0 1539.2 349.7 1533.1 346.5 1528.4 344.6 1526.4 344.4 1520.9 345.7ZM1556.1 351.1 1555.9 351.5 1556.7 352.5 1566.0 358.0 1579.4 365.5 1581.6 365.7 1619.7 344.7 1622.1 342.8 1598.3 328.8 1583.3 336.2Z'/>
<path fill='#00cccc' fill-rule='evenodd' d='M1434.5 328.8 1563.4 258.8 1679.2 326.0 1678.4 326.4 1549.5 397.7 1433.7 329.2ZM1507.1 343.4 1502.8 347.9 1501.4 350.8 1500.9 353.3 1501.1 355.2 1502.0 356.7 1506.2 360.1 1514.8 365.1 1516.9 364.5 1528.1 359.1 1541.0 352.0 1541.8 350.8 1541.2 350.2 1523.7 340.9 1519.2 339.2 1517.3 339.0 1514.1 339.8ZM1555.1 351.7 1558.2 354.1 1577.9 365.5 1581.4 366.5 1623.3 343.1 1622.3 341.8 1609.4 334.2 1599.9 328.7 1597.7 328.2 1557.6 349.7Z'/>
<path fill='#00cca6' fill-rule='evenodd' d='M1434.5 328.8 1563.4 258.8 1679.2 326.0 1678.4 326.4 1549.5 397.7 1433.7 329.2ZM1482.0 345.7 1501.3 358.1 1514.5 365.9 1516.6 365.3 1524.3 361.5 1542.1 351.7 1542.3 350.5 1541.0 349.6 1507.6 331.7 1505.5 332.0 1501.4 334.2 1483.8 344.1ZM1554.6 351.1 1554.4 352.0 1557.1 353.9 1578.0 366.3 1580.9 367.1 1583.7 366.0 1624.0 343.3 1624.1 342.4 1622.9 341.5 1598.5 327.7 1594.6 329.1Z'/>
<path fill='#00cc7a' fill-rule='evenodd' d='M1434.5 328.8 1563.4 258.8 1679.2 326.0 1678.4 326.4 1549.5 397.7 1433.7 329.2ZM1516.0 324.6 1515.9 325.3 1516.7 325.9 1551.8 346.9 1554.5 346.1 1594.1 324.2 1595.0 323.2 1594.6 322.6 1586.1 318.7 1585.2 319.1 1584.2 322.6 1582.3 325.6 1579.3 328.5 1574.9 331.4 1569.6 333.8 1564.4 335.4 1558.4 336.4 1552.6 336.7 1542.8 335.4 1538.4 333.7 1535.0 331.5 1532.7 328.6 1531.7 325.9 1531.8 322.7 1533.0 319.7 1538.6 313.1 1527.4 318.4ZM1551.6 305.2 1543.6 310.4 1556.9 307.1 1563.7 306.4 1563.8 305.6 1558.6 302.2 1556.6 302.3ZM1480.5 345.6 1512.1 365.4 1514.8 366.4 1530.7 358.9 1543.3 351.5 1543.4 350.7 1542.3 349.7 1507.6 330.8 1503.2 332.5 1482.3 344.1ZM1553.4 351.8 1554.1 353.0 1560.8 358.1 1550.9 358.1 1543.4 359.9 1539.1 362.0 1535.5 364.5 1532.9 367.2 1531.6 369.5 1531.2 373.0 1532.6 376.4 1535.6 380.2 1539.9 384.0 1545.0 386.9 1549.9 388.4 1554.4 388.6 1560.3 387.4 1568.6 384.0 1575.4 379.6 1579.1 375.5 1580.3 371.6 1580.3 368.6 1583.1 367.5 1623.8 344.3 1625.1 343.3 1624.3 341.6 1601.0 328.1 1597.6 327.2 1555.0 350.1Z'/>
<path fill='#00cc1e' fill-rule='evenodd' d='M1434.5 328.8 1563.4 258.8 1679.2 326.0 1603.3 368.0 1627.8 352.2 1632.1 348.3 1634.0 344.8 1634.1 342.7 1633.5 340.6 1629.9 336.8 1623.3 333.0 1612.9 328.7 1599.2 324.2 1596.4 321.6 1576.9 311.8 1561.0 302.5 1558.0 301.3 1555.1 302.4 1514.9 324.7 1514.8 325.3 1516.0 326.3 1538.3 340.3 1544.2 344.5 1545.9 346.6 1545.3 347.2 1543.4 347.9 1539.8 346.9 1509.1 330.8 1507.3 330.3 1504.4 331.4 1480.3 344.8 1479.7 345.4 1480.5 346.4 1512.9 366.6 1516.2 366.9 1520.3 365.8 1519.5 371.3 1520.3 374.9 1523.5 379.8 1529.6 385.9 1433.7 329.2ZM1542.1 316.8 1548.3 313.1 1555.6 310.9 1563.1 310.3 1570.2 311.4 1575.7 314.1 1578.2 317.6 1578.5 320.0 1577.9 322.1 1574.5 326.5 1568.3 330.3 1561.0 332.4 1553.2 333.0 1546.2 331.9 1540.8 329.1 1538.4 325.5 1538.2 323.2 1538.7 321.2Z'/>
<path fill='#30cc00' fill-rule='evenodd' d='M1434.5 328.8 1563.4 258.8 1620.4 291.9 1622.1 296.5 1622.6 301.4 1621.5 304.4 1618.9 306.6 1614.7 307.8 1604.7 307.5 1583.3 303.4 1574.2 302.5 1565.3 302.8 1559.6 300.8 1556.1 301.1 1514.3 324.3 1514.1 325.7 1521.2 331.1 1522.0 332.5 1520.3 334.3 1519.0 334.4 1508.9 330.1 1506.6 329.9 1479.2 345.1 1479.0 345.6 1480.0 346.7 1507.5 364.5 1509.2 367.0 1510.7 374.7 1433.7 329.2ZM1546.7 317.6 1551.6 315.0 1557.0 313.5 1562.7 313.2 1568.0 314.2 1571.6 316.3 1573.3 319.4 1572.6 322.7 1569.9 325.7 1565.0 328.4 1559.6 329.8 1553.9 330.1 1548.4 329.0 1544.9 326.9 1543.3 323.9 1544.0 320.6Z'/>
<path fill='#85cc00' fill-rule='evenodd' d='M1434.5 328.8 1554.5 263.6 1565.8 267.2 1572.2 271.1 1574.7 273.8 1576.1 276.3 1576.8 279.2 1577.0 283.2 1575.8 287.0 1572.1 290.3 1566.6 293.5 1552.7 300.1 1545.9 303.4 1533.2 311.9 1513.4 323.8 1511.9 326.6 1509.9 328.2 1503.8 330.1 1478.6 344.7 1478.3 346.0 1478.8 346.6 1487.3 352.6 1490.0 355.1 1496.0 366.0 1433.7 329.2ZM1549.4 320.1 1552.1 318.0 1555.9 316.6 1559.7 316.1 1563.4 316.4 1566.4 317.6 1567.9 319.2 1568.1 321.5 1566.6 323.8 1563.6 325.7 1560.7 326.7 1556.9 327.2 1553.6 327.0 1550.8 326.1 1548.8 324.4 1548.4 322.3Z'/>
<path fill='#b1cc00' fill-rule='evenodd' d='M1434.5 328.8 1532.2 275.8 1554.0 273.6 1558.8 275.1 1563.9 278.0 1568.9 282.7 1570.0 285.4 1569.1 286.7 1566.5 288.9 1557.0 294.3 1549.2 298.0 1541.6 299.1 1538.9 300.2 1518.3 314.8 1484.7 336.3 1480.1 340.0 1476.2 344.2 1474.8 348.7 1474.9 353.6 1433.7 329.2Z'/>
<path fill='#cccc00' fill-rule='evenodd' d='M1434.5 328.8 1505.4 290.3 1523.9 289.6 1528.3 285.8 1536.1 282.1 1545.5 278.5 1551.9 277.2 1555.4 277.8 1558.6 279.3 1561.0 281.3 1562.0 283.5 1561.7 285.2 1560.2 287.4 1554.0 291.7 1548.7 294.0 1544.7 295.0 1532.2 293.5 1528.7 294.3 1521.4 302.8 1514.4 308.8 1502.1 317.2 1472.8 334.8 1466.2 340.2 1461.6 345.7 1433.7 329.2Z'/>
<path fill='#cc9600' fill-rule='evenodd' d='M1434.5 328.8 1455.1 317.6 1458.4 319.1 1459.9 320.7 1459.5 322.6 1457.6 324.9 1445.8 336.3 1433.7 329.2Z'/>
<g fill='#141414' fill-opacity='0.78'><polygon points='1460.8,318.1 1463.1,316.8 1468.6,320.1 1466.3,321.4'/><polygon points='1467.6,321.7 1469.9,320.4 1475.4,323.7 1473.1,324.9'/><polygon points='1493.4,300.2 1495.7,298.9 1501.2,302.2 1498.9,303.4'/><polygon points='1500.2,303.8 1502.5,302.6 1508.0,305.8 1505.7,307.1'/><polygon points='1514.4,294.9 1516.7,293.7 1522.2,296.9 1519.9,298.2'/><polygon points='1518.6,296.9 1520.9,295.6 1526.4,298.9 1524.1,300.2'/><polygon points='1523.8,300.1 1526.1,298.8 1531.6,302.1 1529.3,303.3'/><polygon points='1528.6,303.1 1530.9,301.9 1536.4,305.1 1534.1,306.4'/><polygon points='1531.2,276.5 1533.5,275.2 1539.0,278.5 1536.7,279.7'/><polygon points='1540.7,268.7 1543.0,267.4 1548.5,270.7 1546.2,271.9'/><polygon points='1548.0,268.7 1550.3,267.4 1555.8,270.6 1553.5,271.9'/><polygon points='1588.1,289.3 1590.4,288.0 1595.9,291.3 1593.6,292.5'/><polygon points='1594.4,293.4 1596.7,292.2 1602.2,295.4 1599.9,296.7'/><polygon points='1571.3,297.8 1573.6,296.5 1579.1,299.7 1576.8,301.0'/><polygon points='1578.7,294.6 1581.0,293.4 1586.5,296.6 1584.2,297.9'/><polygon points='1567.1,300.9 1569.4,299.6 1574.9,302.8 1572.6,304.1'/><polygon points='1580.8,302.9 1583.1,301.6 1588.6,304.8 1586.3,306.1'/><polygon points='1589.2,307.0 1591.5,305.7 1597.0,309.0 1594.7,310.3'/><polygon points='1597.6,309.1 1599.9,307.9 1605.4,311.1 1603.1,312.4'/><polygon points='1606.0,305.9 1608.3,304.6 1613.8,307.9 1611.5,309.1'/><polygon points='1605.0,298.5 1607.3,297.3 1612.8,300.5 1610.5,301.8'/><polygon points='1618.6,304.7 1620.9,303.4 1626.4,306.7 1624.1,307.9'/><polygon points='1627.0,326.7 1629.3,325.4 1634.8,328.6 1632.5,329.9'/><polygon points='1635.4,322.4 1637.7,321.1 1643.2,324.4 1640.9,325.7'/><polygon points='1642.8,326.5 1645.1,325.3 1650.6,328.5 1648.3,329.8'/><polygon points='1648.0,323.4 1650.3,322.1 1655.8,325.3 1653.5,326.6'/><polygon points='1602.9,324.8 1605.2,323.5 1610.7,326.7 1608.4,328.0'/><polygon points='1530.2,369.9 1532.5,368.6 1538.0,371.9 1535.7,373.2'/><polygon points='1508.1,291.0 1510.4,289.7 1515.9,293.0 1513.6,294.2'/><polygon points='1536.1,294.9 1538.4,293.6 1543.9,296.8 1541.6,298.1'/><polygon points='1451.1,323.0 1453.4,321.7 1458.9,325.0 1456.6,326.3'/><polygon points='1556.1,278.9 1558.4,277.6 1563.9,280.8 1561.6,282.1'/><polygon points='1582.1,281.7 1584.4,280.4 1589.9,283.6 1587.6,284.9'/><polygon points='1616.1,334.3 1618.4,333.0 1623.9,336.2 1621.6,337.5'/><polygon points='1608.1,340.3 1610.4,339.0 1615.9,342.3 1613.6,343.6'/><polygon points='1596.1,349.4 1598.4,348.2 1603.9,351.4 1601.6,352.7'/><polygon points='1562.1,370.7 1564.4,369.4 1569.9,372.7 1567.6,374.0'/><polygon points='1570.1,374.7 1572.4,373.4 1577.9,376.7 1575.6,378.0'/><polygon points='1473.1,310.7 1475.1,309.5 1487.8,316.9 1485.8,318.0'/><polygon points='1524.6,282.2 1526.6,281.1 1534.5,285.4 1532.5,286.5'/><polygon points='1546.2,286.9 1548.2,285.8 1561.0,292.0 1559.0,293.1'/><polygon points='1565.5,268.3 1567.5,267.1 1573.3,270.9 1571.3,272.0'/><polygon points='1549.0,287.9 1551.0,286.8 1561.5,293.0 1559.5,294.1'/><polygon points='1608.9,315.8 1610.9,314.7 1623.5,322.0 1621.5,323.1'/><polygon points='1539.0,376.5 1541.0,375.3 1545.0,376.8 1543.0,377.9'/><polygon points='1545.0,382.5 1547.0,381.3 1552.0,384.3 1550.0,385.5'/><polygon points='1502.0,290.6 1504.0,289.4 1513.0,294.4 1511.0,295.5'/><polygon points='1519.0,276.6 1521.0,275.5 1529.0,280.4 1527.0,281.5'/><polygon points='1474.9,330.3 1476.5,329.4 1480.7,331.9 1479.1,332.7'/><polygon points='1478.6,328.2 1480.2,327.4 1484.3,329.9 1482.8,330.7'/><polygon points='1482.3,326.2 1483.9,325.4 1488.0,327.8 1486.5,328.7'/><polygon points='1486.0,324.2 1487.5,323.4 1491.7,325.8 1490.2,326.7'/><polygon points='1489.7,322.2 1491.2,321.4 1495.4,323.8 1493.8,324.7'/><polygon points='1493.3,320.2 1494.9,319.4 1499.1,321.8 1497.5,322.7'/><polygon points='1497.0,318.2 1498.6,317.4 1502.8,319.8 1501.2,320.7'/><polygon points='1500.7,316.2 1502.3,315.4 1506.4,317.8 1504.9,318.7'/><polygon points='1504.4,314.2 1505.9,313.4 1510.1,315.8 1508.6,316.6'/><polygon points='1508.1,312.2 1509.6,311.3 1513.8,313.8 1512.2,314.6'/><polygon points='1511.8,310.2 1513.3,309.3 1517.5,311.8 1515.9,312.6'/><polygon points='1515.4,308.2 1517.0,307.3 1521.2,309.8 1519.6,310.6'/><polygon points='1513.4,326.5 1515.5,325.4 1553.3,347.6 1551.2,348.7'/><polygon points='1478.3,347.0 1480.4,345.9 1515.8,366.8 1513.7,368.0'/><polygon points='1553.7,353.1 1555.8,352.0 1581.9,367.4 1579.9,368.5'/></g>
</g>
</g>
<rect x='1393.0' y='265.2' width='10.0' height='132.2' fill='#333'/>
<rect x='1393.6' y='266.15' width='8.8' height='8.66' fill='#FF0000'/>
<rect x='1393.6' y='275.51' width='8.8' height='8.66' fill='#FF6A00'/>
<rect x='1393.6' y='284.86' width='8.8' height='8.66' fill='#FFBB00'/>
<rect x='1393.6' y='294.22' width='8.8' height='8.66' fill='#FFFF00'/>
<rect x='1393.6' y='303.58' width='8.8' height='8.66' fill='#DDFF00'/>
<rect x='1393.6' y='312.94' width='8.8' height='8.66' fill='#A6FF00'/>
<rect x='1393.6' y='322.29' width='8.8' height='8.66' fill='#3CFF00'/>
<rect x='1393.6' y='331.65' width='8.8' height='8.66' fill='#00FF26'/>
<rect x='1393.6' y='341.01' width='8.8' height='8.66' fill='#00FF99'/>
<rect x='1393.6' y='350.36' width='8.8' height='8.66' fill='#00FFD0'/>
<rect x='1393.6' y='359.72' width='8.8' height='8.66' fill='#00FFFF'/>
<rect x='1393.6' y='369.08' width='8.8' height='8.66' fill='#00C8FF'/>
<rect x='1393.6' y='378.44' width='8.8' height='8.66' fill='#0066FF'/>
<rect x='1393.6' y='387.79' width='8.8' height='8.66' fill='#0000FF'/>
<text x='1407.6' y='268.2' font-size='6.7' font-weight='bold' fill='#1a1a1a' fill-opacity='0.85'>23.885 Max</text>
<text x='1407.6' y='277.6' font-size='6.7' font-weight='normal' fill='#1a1a1a' fill-opacity='0.85'>20.435</text>
<text x='1407.6' y='286.9' font-size='6.7' font-weight='normal' fill='#1a1a1a' fill-opacity='0.85'>16.985</text>
<text x='1407.6' y='296.3' font-size='6.7' font-weight='normal' fill='#1a1a1a' fill-opacity='0.85'>13.536</text>
<text x='1407.6' y='305.7' font-size='6.7' font-weight='normal' fill='#1a1a1a' fill-opacity='0.85'>10.086</text>
<text x='1407.6' y='315.0' font-size='6.7' font-weight='normal' fill='#1a1a1a' fill-opacity='0.85'>6.6364</text>
<text x='1407.6' y='324.4' font-size='6.7' font-weight='normal' fill='#1a1a1a' fill-opacity='0.85'>3.1867</text>
<text x='1407.6' y='333.7' font-size='6.7' font-weight='normal' fill='#1a1a1a' fill-opacity='0.85'>-0.26295</text>
<text x='1407.6' y='343.1' font-size='6.7' font-weight='normal' fill='#1a1a1a' fill-opacity='0.85'>-3.7126</text>
<text x='1407.6' y='352.4' font-size='6.7' font-weight='normal' fill='#1a1a1a' fill-opacity='0.85'>-7.1623</text>
<text x='1407.6' y='361.8' font-size='6.7' font-weight='normal' fill='#1a1a1a' fill-opacity='0.85'>-10.612</text>
<text x='1407.6' y='371.2' font-size='6.7' font-weight='normal' fill='#1a1a1a' fill-opacity='0.85'>-14.062</text>
<text x='1407.6' y='380.5' font-size='6.7' font-weight='normal' fill='#1a1a1a' fill-opacity='0.85'>-17.511</text>
<text x='1407.6' y='389.9' font-size='6.7' font-weight='normal' fill='#1a1a1a' fill-opacity='0.85'>-20.961</text>
<text x='1407.6' y='399.2' font-size='6.7' font-weight='bold' fill='#1a1a1a' fill-opacity='0.85'>-24.411 Min</text>
<clipPath id='cb5'><rect x='1724.8' y='256' width='259.2' height='146.0'/></clipPath>
<g clip-path='url(#cb5)'>
<rect x='1724.8' y='256' width='259.2' height='146.0' fill='url(#bgg)' stroke='#e8eefc' stroke-width='2'/>
<clipPath id='cbd5'><path d='M1770.9 329.6 1775.2 327.2 1779.5 324.7 1783.8 322.3 1788.2 319.9 1792.5 317.4 1796.8 315.0 1801.1 312.5 1805.4 310.1 1809.8 307.7 1814.1 305.2 1818.4 302.8 1822.7 300.4 1827.0 297.9 1831.3 295.5 1835.7 293.0 1840.0 290.6 1844.3 288.2 1848.6 285.7 1852.9 283.3 1857.2 280.9 1861.6 278.4 1865.9 276.0 1870.2 273.5 1874.5 271.1 1878.9 273.6 1883.4 276.1 1887.8 278.6 1892.3 281.1 1896.7 283.6 1901.1 286.1 1905.6 288.6 1910.0 291.1 1914.5 293.6 1918.9 296.1 1923.4 298.6 1927.8 301.1 1932.2 303.7 1936.7 306.2 1941.1 308.7 1945.6 311.2 1950.0 313.7 1954.4 316.2 1958.9 318.7 1963.3 321.2 1967.8 323.7 1972.2 326.2 1976.7 328.7 1981.1 331.2 1976.8 333.7 1972.5 336.2 1968.2 338.7 1963.9 341.2 1959.6 343.7 1955.3 346.2 1951.0 348.8 1946.7 351.3 1942.4 353.8 1938.1 356.3 1933.8 358.8 1929.5 361.3 1925.2 363.8 1920.9 366.3 1916.6 368.8 1912.3 371.3 1908.0 373.8 1903.7 376.3 1899.4 378.9 1895.1 381.4 1890.8 383.9 1886.5 386.4 1882.2 388.9 1877.9 391.4 1873.4 388.8 1869.0 386.2 1864.5 383.7 1860.1 381.1 1855.6 378.5 1851.2 375.9 1846.7 373.4 1842.2 370.8 1837.8 368.2 1833.3 365.6 1828.9 363.1 1824.4 360.5 1819.9 357.9 1815.5 355.4 1811.0 352.8 1806.6 350.2 1802.1 347.6 1797.7 345.1 1793.2 342.5 1788.7 339.9 1784.3 337.3 1779.8 334.8 1775.4 332.2Z'/></clipPath>
<linearGradient id='sg5' gradientUnits='userSpaceOnUse' x1='1770.9' y1='0' x2='1981.1' y2='0'><stop offset='0.000' stop-color='#3c5c00'/><stop offset='0.064' stop-color='#165c00'/><stop offset='0.127' stop-color='#165c00'/><stop offset='0.191' stop-color='#005c0e'/><stop offset='0.255' stop-color='#005c37'/><stop offset='0.318' stop-color='#005c37'/><stop offset='0.382' stop-color='#005c4b'/><stop offset='0.445' stop-color='#005c4b'/><stop offset='0.509' stop-color='#005c5c'/><stop offset='0.570' stop-color='#005c5c'/><stop offset='0.632' stop-color='#005c5c'/><stop offset='0.693' stop-color='#005c5c'/><stop offset='0.755' stop-color='#005c5c'/><stop offset='0.816' stop-color='#005c5c'/><stop offset='0.877' stop-color='#005c5c'/><stop offset='0.939' stop-color='#005c5c'/><stop offset='1.000' stop-color='#005c5c'/></linearGradient><path d='M1770.9 329.6 1775.2 327.2 1779.5 324.7 1783.8 322.3 1788.2 319.9 1792.5 317.4 1796.8 315.0 1801.1 312.5 1805.4 310.1 1809.8 307.7 1814.1 305.2 1818.4 302.8 1822.7 300.4 1827.0 297.9 1831.3 295.5 1835.7 293.0 1840.0 290.6 1844.3 288.2 1848.6 285.7 1852.9 283.3 1857.2 280.9 1861.6 278.4 1865.9 276.0 1870.2 273.5 1874.5 271.1 1878.9 273.6 1883.4 276.1 1887.8 278.6 1892.3 281.1 1896.7 283.6 1901.1 286.1 1905.6 288.6 1910.0 291.1 1914.5 293.6 1918.9 296.1 1923.4 298.6 1927.8 301.1 1932.2 303.7 1936.7 306.2 1941.1 308.7 1945.6 311.2 1950.0 313.7 1954.4 316.2 1958.9 318.7 1963.3 321.2 1967.8 323.7 1972.2 326.2 1976.7 328.7 1981.1 331.2 1976.8 333.7 1972.5 336.2 1968.2 338.7 1963.9 341.2 1959.6 343.7 1955.3 346.2 1951.0 348.8 1946.7 351.3 1942.4 353.8 1938.1 356.3 1933.8 358.8 1929.5 361.3 1925.2 363.8 1920.9 366.3 1916.6 368.8 1912.3 371.3 1908.0 373.8 1903.7 376.3 1899.4 378.9 1895.1 381.4 1890.8 383.9 1886.5 386.4 1882.2 388.9 1877.9 391.4 1873.4 388.8 1869.0 386.2 1864.5 383.7 1860.1 381.1 1855.6 378.5 1851.2 375.9 1846.7 373.4 1842.2 370.8 1837.8 368.2 1833.3 365.6 1828.9 363.1 1824.4 360.5 1819.9 357.9 1815.5 355.4 1811.0 352.8 1806.6 350.2 1802.1 347.6 1797.7 345.1 1793.2 342.5 1788.7 339.9 1784.3 337.3 1779.8 334.8 1775.4 332.2Z' transform='translate(0,2.4)' fill='url(#sg5)' filter='url(#soft)'/>
<g id='bd5' clip-path='url(#cbd5)' filter='url(#soft)'>
<path d='M1770.9 329.6 1775.2 327.2 1779.5 324.7 1783.8 322.3 1788.2 319.9 1792.5 317.4 1796.8 315.0 1801.1 312.5 1805.4 310.1 1809.8 307.7 1814.1 305.2 1818.4 302.8 1822.7 300.4 1827.0 297.9 1831.3 295.5 1835.7 293.0 1840.0 290.6 1844.3 288.2 1848.6 285.7 1852.9 283.3 1857.2 280.9 1861.6 278.4 1865.9 276.0 1870.2 273.5 1874.5 271.1 1878.9 273.6 1883.4 276.1 1887.8 278.6 1892.3 281.1 1896.7 283.6 1901.1 286.1 1905.6 288.6 1910.0 291.1 1914.5 293.6 1918.9 296.1 1923.4 298.6 1927.8 301.1 1932.2 303.7 1936.7 306.2 1941.1 308.7 1945.6 311.2 1950.0 313.7 1954.4 316.2 1958.9 318.7 1963.3 321.2 1967.8 323.7 1972.2 326.2 1976.7 328.7 1981.1 331.2 1976.8 333.7 1972.5 336.2 1968.2 338.7 1963.9 341.2 1959.6 343.7 1955.3 346.2 1951.0 348.8 1946.7 351.3 1942.4 353.8 1938.1 356.3 1933.8 358.8 1929.5 361.3 1925.2 363.8 1920.9 366.3 1916.6 368.8 1912.3 371.3 1908.0 373.8 1903.7 376.3 1899.4 378.9 1895.1 381.4 1890.8 383.9 1886.5 386.4 1882.2 388.9 1877.9 391.4 1873.4 388.8 1869.0 386.2 1864.5 383.7 1860.1 381.1 1855.6 378.5 1851.2 375.9 1846.7 373.4 1842.2 370.8 1837.8 368.2 1833.3 365.6 1828.9 363.1 1824.4 360.5 1819.9 357.9 1815.5 355.4 1811.0 352.8 1806.6 350.2 1802.1 347.6 1797.7 345.1 1793.2 342.5 1788.7 339.9 1784.3 337.3 1779.8 334.8 1775.4 332.2Z' fill='#0000cc'/>
<path fill='#0052cc' fill-rule='evenodd' d='M1771.5 329.2 1874.5 271.1 1981.1 331.2 1980.5 331.6 1877.9 391.4 1770.9 329.6Z'/>
<path fill='#00a0cc' fill-rule='evenodd' d='M1771.5 329.2 1874.5 271.1 1981.1 331.2 1980.5 331.6 1877.9 391.4 1770.9 329.6ZM1846.8 350.7 1845.3 352.4 1844.8 354.9 1845.8 357.4 1847.9 359.3 1849.0 359.4 1852.6 358.1 1857.9 355.2 1863.6 351.1 1861.9 349.7 1858.1 348.7 1853.9 348.5 1849.9 349.2ZM1887.1 352.8 1885.5 354.7 1886.7 356.2 1893.8 360.5 1898.6 362.2 1901.9 361.2 1907.2 358.2 1910.5 355.7 1913.1 352.7 1914.2 349.6 1913.5 347.5 1910.8 346.0 1907.6 345.6 1902.8 346.1 1897.5 347.5 1892.3 349.7Z'/>
<path fill='#00cccc' fill-rule='evenodd' d='M1771.5 329.2 1874.5 271.1 1981.1 331.2 1980.5 331.6 1877.9 391.4 1770.9 329.6ZM1834.1 346.5 1831.6 350.6 1831.4 352.6 1832.0 354.5 1834.3 356.5 1843.8 362.5 1844.9 362.7 1846.4 362.0 1857.9 356.0 1864.9 351.8 1866.0 350.4 1851.9 342.9 1848.2 341.5 1844.4 341.5 1838.6 343.4ZM1878.6 351.6 1892.3 360.6 1899.9 364.6 1901.8 364.8 1934.4 345.5 1934.4 344.6 1929.2 341.5 1915.9 334.2 1911.7 332.5 1885.8 346.8 1879.4 350.5Z'/>
<path fill='#00cca6' fill-rule='evenodd' d='M1771.5 329.2 1874.5 271.1 1957.4 317.8 1952.1 323.7 1947.2 327.6 1941.6 330.3 1934.5 332.2 1920.7 334.0 1912.9 331.1 1910.4 331.2 1876.9 350.6 1876.8 351.9 1881.9 355.6 1883.9 357.5 1884.0 358.3 1875.4 366.8 1871.5 372.0 1869.7 377.0 1868.7 386.1 1770.9 329.6ZM1813.5 344.4 1814.4 345.5 1835.0 358.2 1842.9 363.0 1844.6 363.5 1855.3 358.2 1866.6 351.6 1867.3 350.5 1866.2 349.5 1834.6 333.0 1832.7 333.4Z'/>
<path fill='#00cc7a' fill-rule='evenodd' d='M1771.5 329.2 1874.5 271.1 1932.8 304.0 1933.0 309.3 1932.5 312.6 1931.0 315.5 1928.6 317.8 1924.4 319.8 1919.7 320.9 1903.1 321.1 1902.5 321.5 1904.8 323.5 1909.6 326.8 1909.3 328.3 1875.6 347.6 1872.8 347.3 1862.2 342.1 1860.2 341.7 1856.8 342.8 1853.8 341.8 1834.7 332.3 1832.7 332.6 1812.6 344.0 1812.2 344.6 1813.0 345.5 1838.3 361.8 1839.8 364.2 1839.2 369.0 1770.9 329.6Z'/>
<path fill='#00cc1e' fill-rule='evenodd' d='M1771.5 329.2 1874.5 271.1 1909.3 290.7 1909.3 295.8 1910.6 303.9 1910.3 306.0 1909.2 307.6 1904.8 309.5 1892.9 310.9 1887.6 312.0 1886.7 312.5 1887.2 313.5 1908.6 327.4 1894.5 336.1 1874.7 346.9 1872.9 346.4 1850.6 334.7 1848.1 334.1 1844.0 335.4 1833.8 331.8 1811.5 344.1 1811.7 345.5 1817.8 350.0 1818.2 351.0 1815.1 355.1 1770.9 329.6Z'/>
<path fill='#30cc00' fill-rule='evenodd' d='M1771.5 329.2 1874.5 271.1 1888.1 278.8 1890.9 282.9 1892.7 287.9 1893.2 294.8 1891.4 299.7 1887.5 303.4 1878.1 309.1 1884.4 313.1 1899.6 322.0 1906.3 326.6 1906.8 327.6 1891.4 337.3 1880.3 343.0 1877.0 344.1 1873.7 344.3 1869.1 343.1 1852.4 334.3 1846.9 330.4 1846.1 328.5 1846.1 325.1 1844.9 325.0 1840.9 327.0 1840.3 327.7 1840.9 329.2 1839.1 330.4 1836.6 331.2 1832.1 331.6 1818.9 338.3 1800.4 346.6 1770.9 329.6Z'/>
<path fill='#85cc00' fill-rule='evenodd' d='M1771.5 329.2 1852.8 283.3 1864.5 283.5 1873.8 285.8 1877.2 287.7 1879.8 290.0 1881.4 292.8 1881.8 295.6 1881.1 298.3 1878.8 301.4 1870.1 307.5 1841.2 323.3 1831.5 327.5 1821.1 331.1 1804.3 335.1 1795.8 336.1 1788.9 336.2 1780.7 335.3 1770.9 329.6ZM1861.3 317.9 1869.3 314.4 1878.5 313.0 1881.4 313.2 1884.3 314.1 1891.1 317.6 1898.2 322.0 1900.4 324.0 1900.9 325.7 1900.2 328.3 1898.5 331.0 1892.0 335.5 1885.0 338.2 1876.4 339.1 1868.4 338.3 1861.2 335.6 1856.9 331.9 1855.6 329.6 1855.2 327.0 1855.7 324.3 1856.9 322.1Z'/>
<path fill='#b1cc00' fill-rule='evenodd' d='M1811.7 307.3 1821.7 301.3 1833.7 296.3 1846.8 292.8 1858.7 291.4 1863.3 291.8 1867.8 293.0 1870.2 294.6 1871.3 297.0 1870.6 299.7 1868.4 302.1 1859.2 307.9 1841.6 317.0 1832.0 321.2 1821.7 324.1 1812.6 325.1 1808.2 324.5 1805.1 323.2 1803.3 321.2 1802.8 319.2 1803.4 316.6 1805.0 313.8ZM1863.3 321.3 1868.2 318.2 1874.2 316.4 1880.6 316.0 1887.0 317.1 1892.5 319.9 1895.3 323.3 1895.6 325.7 1895.2 327.5 1892.4 331.2 1887.2 334.2 1880.9 335.8 1873.8 335.9 1868.0 334.7 1863.3 332.1 1860.9 328.8 1860.8 325.0Z'/>
<path fill='#cccc00' fill-rule='evenodd' d='M1868.6 321.4 1873.0 319.4 1877.4 318.7 1882.4 318.8 1886.8 320.1 1889.7 322.2 1891.1 325.3 1890.3 328.0 1887.6 330.7 1883.2 332.6 1878.2 333.5 1873.4 333.2 1869.1 331.8 1866.2 329.6 1865.1 326.7 1866.1 323.6Z'/>
<path fill='#cc9600' fill-rule='evenodd' d='M1871.9 323.3 1874.8 321.9 1877.7 321.4 1883.2 322.2 1885.1 323.4 1886.1 325.1 1886.0 326.8 1884.2 328.8 1881.4 330.1 1878.4 330.7 1875.3 330.5 1872.7 329.7 1870.8 328.5 1869.9 326.7 1870.3 325.0Z'/>
<g fill='#141414' fill-opacity='0.78'><polygon points='1792.9,320.5 1794.8,319.4 1799.9,322.4 1798.0,323.4'/><polygon points='1799.1,323.7 1801.0,322.7 1806.1,325.6 1804.3,326.7'/><polygon points='1818.9,305.6 1820.8,304.5 1825.9,307.5 1824.0,308.5'/><polygon points='1825.2,308.9 1827.0,307.9 1832.1,310.8 1830.3,311.8'/><polygon points='1836.4,301.5 1838.2,300.4 1843.4,303.3 1841.5,304.4'/><polygon points='1840.2,303.2 1842.0,302.2 1847.2,305.1 1845.3,306.2'/><polygon points='1845.0,306.1 1846.9,305.0 1852.0,307.9 1850.1,309.0'/><polygon points='1849.4,308.8 1851.3,307.8 1856.4,310.7 1854.6,311.8'/><polygon points='1848.8,285.8 1850.6,284.8 1855.7,287.7 1853.9,288.7'/><polygon points='1856.1,279.3 1857.9,278.2 1863.1,281.1 1861.2,282.2'/><polygon points='1862.3,279.4 1864.2,278.3 1869.3,281.2 1867.4,282.3'/><polygon points='1899.0,297.9 1900.8,296.8 1905.9,299.7 1904.1,300.8'/><polygon points='1904.8,301.6 1906.7,300.5 1911.8,303.4 1909.9,304.5'/><polygon points='1885.5,304.9 1887.3,303.9 1892.5,306.8 1890.6,307.8'/><polygon points='1891.5,302.4 1893.3,301.3 1898.5,304.2 1896.6,305.3'/><polygon points='1882.2,307.6 1884.1,306.5 1889.2,309.4 1887.3,310.5'/><polygon points='1894.2,309.5 1896.0,308.5 1901.2,311.4 1899.3,312.4'/><polygon points='1901.8,313.3 1903.7,312.2 1908.8,315.1 1907.0,316.2'/><polygon points='1909.3,315.3 1911.1,314.2 1916.3,317.1 1914.4,318.2'/><polygon points='1916.1,312.6 1918.0,311.5 1923.1,314.4 1921.2,315.5'/><polygon points='1914.5,306.2 1916.3,305.1 1921.4,308.0 1919.6,309.1'/><polygon points='1926.8,311.8 1928.7,310.7 1933.8,313.6 1931.9,314.7'/><polygon points='1936.4,331.0 1938.3,329.9 1943.4,332.8 1941.5,333.9'/><polygon points='1943.1,327.4 1945.0,326.3 1950.1,329.2 1948.3,330.3'/><polygon points='1949.9,331.1 1951.8,330.0 1956.9,332.9 1955.1,334.0'/><polygon points='1954.0,328.5 1955.9,327.4 1961.0,330.3 1959.2,331.3'/><polygon points='1915.5,328.9 1917.4,327.8 1922.5,330.7 1920.7,331.8'/><polygon points='1858.2,366.8 1860.1,365.7 1865.2,368.7 1863.3,369.8'/><polygon points='1830.5,297.9 1832.4,296.9 1837.5,299.8 1835.6,300.8'/><polygon points='1855.0,301.8 1856.8,300.7 1862.0,303.6 1860.1,304.7'/><polygon points='1785.1,324.6 1787.0,323.5 1792.1,326.5 1790.2,327.5'/><polygon points='1870.4,288.3 1872.2,287.2 1877.4,290.1 1875.5,291.2'/><polygon points='1893.0,291.2 1894.8,290.2 1900.0,293.0 1898.1,294.1'/><polygon points='1927.9,337.4 1929.8,336.3 1934.9,339.2 1933.0,340.3'/><polygon points='1921.7,342.5 1923.6,341.4 1928.7,344.3 1926.8,345.4'/><polygon points='1912.4,350.2 1914.3,349.1 1919.4,352.0 1917.6,353.1'/><polygon points='1885.7,368.1 1887.5,367.1 1892.6,370.0 1890.8,371.1'/><polygon points='1893.0,371.7 1894.8,370.7 1899.9,373.6 1898.1,374.7'/><polygon points='1802.7,314.3 1804.3,313.4 1816.0,320.0 1814.4,320.9'/><polygon points='1843.7,290.7 1845.4,289.7 1852.6,293.5 1851.0,294.5'/><polygon points='1862.8,295.1 1864.4,294.2 1876.1,299.8 1874.4,300.7'/><polygon points='1877.3,279.3 1879.0,278.4 1884.3,281.7 1882.7,282.6'/><polygon points='1865.3,296.0 1866.9,295.1 1876.6,300.6 1875.0,301.6'/><polygon points='1919.7,321.2 1921.4,320.3 1933.0,326.8 1931.3,327.8'/><polygon points='1866.5,372.7 1868.1,371.7 1871.7,373.1 1870.1,374.1'/><polygon points='1872.3,378.0 1874.0,377.1 1878.6,379.8 1876.9,380.7'/><polygon points='1825.3,297.4 1826.9,296.5 1835.2,301.0 1833.5,301.9'/><polygon points='1838.3,285.7 1840.0,284.7 1847.4,289.2 1845.7,290.1'/><polygon points='1806.4,331.3 1807.7,330.6 1811.5,332.8 1810.3,333.5'/><polygon points='1809.4,329.7 1810.6,329.0 1814.4,331.2 1813.2,331.9'/><polygon points='1812.3,328.0 1813.5,327.3 1817.4,329.5 1816.1,330.2'/><polygon points='1815.2,326.3 1816.5,325.6 1820.3,327.8 1819.1,328.5'/><polygon points='1818.2,324.6 1819.4,323.9 1823.3,326.1 1822.0,326.9'/><polygon points='1821.1,323.0 1822.4,322.3 1826.2,324.5 1825.0,325.2'/><polygon points='1824.1,321.3 1825.3,320.6 1829.1,322.8 1827.9,323.5'/><polygon points='1827.0,319.6 1828.2,318.9 1832.1,321.1 1830.8,321.8'/><polygon points='1829.9,318.0 1831.2,317.3 1835.0,319.5 1833.8,320.2'/><polygon points='1832.9,316.3 1834.1,315.6 1838.0,317.8 1836.7,318.5'/><polygon points='1835.8,314.6 1837.0,313.9 1840.9,316.1 1839.7,316.8'/><polygon points='1838.7,313.0 1840.0,312.2 1843.8,314.4 1842.6,315.1'/><polygon points='1839.0,328.8 1840.7,327.9 1875.5,347.8 1873.9,348.8'/><polygon points='1811.1,346.0 1812.8,345.0 1845.5,363.9 1843.9,364.8'/><polygon points='1876.5,352.7 1878.2,351.7 1902.3,365.5 1900.7,366.5'/></g>
</g>
</g>
<rect x='1728.2' y='263.0' width='10.2' height='135.3' fill='#333'/>
<rect x='1728.8' y='263.95' width='9.0' height='8.88' fill='#FF0000'/>
<rect x='1728.8' y='273.53' width='9.0' height='8.88' fill='#FF6A00'/>
<rect x='1728.8' y='283.11' width='9.0' height='8.88' fill='#FFBB00'/>
<rect x='1728.8' y='292.69' width='9.0' height='8.88' fill='#FFFF00'/>
<rect x='1728.8' y='302.26' width='9.0' height='8.88' fill='#DDFF00'/>
<rect x='1728.8' y='311.84' width='9.0' height='8.88' fill='#A6FF00'/>
<rect x='1728.8' y='321.42' width='9.0' height='8.88' fill='#3CFF00'/>
<rect x='1728.8' y='331.00' width='9.0' height='8.88' fill='#00FF26'/>
<rect x='1728.8' y='340.58' width='9.0' height='8.88' fill='#00FF99'/>
<rect x='1728.8' y='350.16' width='9.0' height='8.88' fill='#00FFD0'/>
<rect x='1728.8' y='359.74' width='9.0' height='8.88' fill='#00FFFF'/>
<rect x='1728.8' y='369.31' width='9.0' height='8.88' fill='#00C8FF'/>
<rect x='1728.8' y='378.89' width='9.0' height='8.88' fill='#0066FF'/>
<rect x='1728.8' y='388.47' width='9.0' height='8.88' fill='#0000FF'/>
<text x='1743.0' y='266.1' font-size='6.9' font-weight='bold' fill='#1a1a1a' fill-opacity='0.85'>39.053 Max</text>
<text x='1743.0' y='275.7' font-size='6.9' font-weight='normal' fill='#1a1a1a' fill-opacity='0.85'>35.467</text>
<text x='1743.0' y='285.2' font-size='6.9' font-weight='normal' fill='#1a1a1a' fill-opacity='0.85'>31.881</text>
<text x='1743.0' y='294.8' font-size='6.9' font-weight='normal' fill='#1a1a1a' fill-opacity='0.85'>28.295</text>
<text x='1743.0' y='304.4' font-size='6.9' font-weight='normal' fill='#1a1a1a' fill-opacity='0.85'>24.709</text>
<text x='1743.0' y='314.0' font-size='6.9' font-weight='normal' fill='#1a1a1a' fill-opacity='0.85'>21.123</text>
<text x='1743.0' y='323.6' font-size='6.9' font-weight='normal' fill='#1a1a1a' fill-opacity='0.85'>17.537</text>
<text x='1743.0' y='333.1' font-size='6.9' font-weight='normal' fill='#1a1a1a' fill-opacity='0.85'>13.951</text>
<text x='1743.0' y='342.7' font-size='6.9' font-weight='normal' fill='#1a1a1a' fill-opacity='0.85'>10.365</text>
<text x='1743.0' y='352.3' font-size='6.9' font-weight='normal' fill='#1a1a1a' fill-opacity='0.85'>6.7791</text>
<text x='1743.0' y='361.9' font-size='6.9' font-weight='normal' fill='#1a1a1a' fill-opacity='0.85'>3.1931</text>
<text x='1743.0' y='371.4' font-size='6.9' font-weight='normal' fill='#1a1a1a' fill-opacity='0.85'>-0.39285</text>
<text x='1743.0' y='381.0' font-size='6.9' font-weight='normal' fill='#1a1a1a' fill-opacity='0.85'>-3.9788</text>
<text x='1743.0' y='390.6' font-size='6.9' font-weight='normal' fill='#1a1a1a' fill-opacity='0.85'>-7.5648</text>
<text x='1743.0' y='400.2' font-size='6.9' font-weight='bold' fill='#1a1a1a' fill-opacity='0.85'>-11.151 Min</text>
<clipPath id='cb6'><rect x='75.5' y='471.5' width='269.5' height='154.0'/></clipPath>
<g clip-path='url(#cb6)'>
<rect x='75.5' y='471.5' width='269.5' height='154.0' fill='url(#bgg)' stroke='#e8eefc' stroke-width='2'/>
<polygon points='111.0,517.0 241.0,472.0 345.0,565.0 204.0,626.0' fill='#5f6680' fill-opacity='0.42'/>
<clipPath id='cbd6'><path d='M116.8 533.9 122.1 531.7 127.5 529.6 132.8 527.4 138.2 525.3 143.5 523.1 148.9 521.0 154.2 518.8 159.5 516.7 164.9 514.5 170.2 512.4 175.6 510.2 180.9 508.0 186.2 505.9 191.6 503.7 196.9 501.6 202.3 499.4 207.6 497.3 213.0 495.1 218.3 493.0 223.6 490.8 229.0 488.7 234.3 486.5 239.7 484.4 245.0 482.2 249.0 485.6 252.9 489.0 256.9 492.4 260.9 495.8 264.9 499.2 268.8 502.7 272.8 506.1 276.8 509.5 280.7 512.9 284.7 516.3 288.7 519.7 292.6 523.1 296.6 526.5 300.6 529.9 304.6 533.3 308.5 536.7 312.5 540.1 316.5 543.6 320.4 547.0 324.4 550.4 328.4 553.8 332.4 557.2 336.3 560.6 340.3 564.0 334.9 566.2 329.6 568.4 324.2 570.5 318.9 572.7 313.5 574.9 308.1 577.1 302.8 579.3 297.4 581.5 292.0 583.6 286.7 585.8 281.3 588.0 275.9 590.2 270.6 592.4 265.2 594.6 259.9 596.8 254.5 598.9 249.1 601.1 243.8 603.3 238.4 605.5 233.1 607.7 227.7 609.9 222.3 612.0 217.0 614.2 211.6 616.4 207.7 613.0 203.7 609.5 199.7 606.1 195.8 602.7 191.8 599.2 187.9 595.8 183.9 592.3 180.0 588.9 176.1 585.5 172.1 582.0 168.2 578.6 164.2 575.1 160.2 571.7 156.3 568.3 152.3 564.8 148.4 561.4 144.5 558.0 140.5 554.5 136.6 551.1 132.6 547.6 128.6 544.2 124.7 540.8 120.8 537.3Z'/></clipPath>
<g id='bd6' clip-path='url(#cbd6)' filter='url(#soft)'>
<path d='M116.8 533.9 122.1 531.7 127.5 529.6 132.8 527.4 138.2 525.3 143.5 523.1 148.9 521.0 154.2 518.8 159.5 516.7 164.9 514.5 170.2 512.4 175.6 510.2 180.9 508.0 186.2 505.9 191.6 503.7 196.9 501.6 202.3 499.4 207.6 497.3 213.0 495.1 218.3 493.0 223.6 490.8 229.0 488.7 234.3 486.5 239.7 484.4 245.0 482.2 249.0 485.6 252.9 489.0 256.9 492.4 260.9 495.8 264.9 499.2 268.8 502.7 272.8 506.1 276.8 509.5 280.7 512.9 284.7 516.3 288.7 519.7 292.6 523.1 296.6 526.5 300.6 529.9 304.6 533.3 308.5 536.7 312.5 540.1 316.5 543.6 320.4 547.0 324.4 550.4 328.4 553.8 332.4 557.2 336.3 560.6 340.3 564.0 334.9 566.2 329.6 568.4 324.2 570.5 318.9 572.7 313.5 574.9 308.1 577.1 302.8 579.3 297.4 581.5 292.0 583.6 286.7 585.8 281.3 588.0 275.9 590.2 270.6 592.4 265.2 594.6 259.9 596.8 254.5 598.9 249.1 601.1 243.8 603.3 238.4 605.5 233.1 607.7 227.7 609.9 222.3 612.0 217.0 614.2 211.6 616.4 207.7 613.0 203.7 609.5 199.7 606.1 195.8 602.7 191.8 599.2 187.9 595.8 183.9 592.3 180.0 588.9 176.1 585.5 172.1 582.0 168.2 578.6 164.2 575.1 160.2 571.7 156.3 568.3 152.3 564.8 148.4 561.4 144.5 558.0 140.5 554.5 136.6 551.1 132.6 547.6 128.6 544.2 124.7 540.8 120.8 537.3Z' fill='#0000cc'/>
<path fill='#0052cc' fill-rule='evenodd' d='M117.6 533.6 245.0 482.2 299.9 529.3 301.0 531.8 302.5 533.4 306.3 534.8 340.3 564.0 338.7 564.7 211.6 616.4 165.9 576.7 165.2 574.0 163.7 572.3 161.6 570.9 158.1 569.9 116.8 533.9Z'/>
<path fill='#00a0cc' fill-rule='evenodd' d='M117.6 533.6 245.0 482.2 293.9 524.2 294.1 528.4 294.9 532.0 296.4 535.1 298.8 537.9 301.6 539.8 305.0 540.8 308.5 540.8 312.1 539.8 340.3 564.0 337.9 565.0 211.6 616.4 173.2 583.0 174.4 578.9 174.3 574.8 173.1 571.6 170.3 568.2 166.7 565.8 161.7 564.1 156.6 563.4 151.0 563.6 116.8 533.9Z'/>
<path fill='#00cccc' fill-rule='evenodd' d='M117.6 533.6 245.0 482.2 289.1 520.1 289.1 526.8 290.3 532.3 292.6 537.4 295.8 541.4 300.0 544.2 305.4 545.8 310.6 545.6 316.7 543.7 340.3 564.0 336.3 565.6 211.6 616.4 178.8 587.9 180.8 581.3 181.0 575.2 179.2 569.8 175.5 565.3 169.8 561.6 162.5 559.2 154.3 558.4 145.5 558.9 116.8 533.9Z'/>
<path fill='#00cca6' fill-rule='evenodd' d='M117.6 533.6 245.0 482.2 282.5 514.4 283.8 525.9 285.4 532.8 288.7 539.8 292.9 544.8 299.0 548.9 305.8 550.7 312.8 550.5 322.3 548.6 340.3 564.0 335.5 566.0 211.6 616.4 185.8 594.0 187.6 580.8 187.3 574.1 185.2 568.2 180.6 562.5 173.4 557.8 164.2 554.8 154.5 553.5 139.2 553.4 116.8 533.9Z'/>
<path fill='#00cc7a' fill-rule='evenodd' d='M117.6 533.6 239.1 484.6 239.8 487.3 242.1 489.4 257.7 495.9 261.1 498.2 263.6 501.0 272.1 514.9 279.1 533.1 281.8 538.8 285.7 544.7 289.9 549.1 296.2 553.3 303.2 555.7 309.1 556.5 324.8 556.8 329.7 557.8 335.1 559.6 340.3 564.0 333.9 566.6 211.6 616.4 204.2 610.0 197.0 598.1 195.0 590.6 195.1 577.7 194.3 572.0 191.6 565.6 186.8 559.9 183.0 557.0 178.4 554.3 167.6 550.4 157.6 548.4 137.3 546.0 128.5 544.0 116.8 533.9Z'/>
<path fill='#00cc1e' fill-rule='evenodd' d='M122.4 531.6 230.7 488.0 233.6 491.3 243.4 497.9 247.4 501.5 250.9 506.9 259.8 523.6 264.4 530.8 272.5 541.1 281.9 550.8 289.3 556.8 297.7 561.0 304.7 562.9 321.0 565.8 329.7 568.3 320.2 572.2 221.4 612.4 209.8 599.0 206.3 593.6 204.5 586.8 204.6 573.9 203.7 568.2 200.4 562.0 195.2 556.5 187.3 551.5 177.1 547.3 166.0 544.0 139.4 537.6ZM222.1 548.7 220.7 550.8 220.9 552.2 221.8 553.3 225.2 554.5 229.1 553.4 230.7 551.1 230.5 549.8 229.6 548.7 228.0 547.8 225.4 547.5Z'/>
<path fill='#30cc00' fill-rule='evenodd' d='M136.8 525.8 222.7 491.2 234.5 503.0 238.0 508.3 240.4 514.1 241.5 519.0 241.7 523.9 240.9 529.4 238.2 539.1 238.2 541.4 238.9 542.6 242.3 544.3 258.0 547.7 265.7 550.6 272.3 554.7 282.6 563.4 289.1 566.7 297.3 569.4 315.5 574.1 292.8 583.3 233.4 607.5 224.7 601.2 219.6 596.5 216.7 591.6 215.8 586.2 216.8 581.0 221.6 570.0 222.9 561.2 224.2 559.7 231.7 556.0 234.5 553.4 236.0 550.6 236.4 548.2 236.1 546.0 235.2 544.9 232.5 543.7 226.5 543.4 220.8 544.6 212.1 548.2 202.5 547.1 186.7 543.6 169.9 538.9 158.1 534.6Z'/>
<path fill='#85cc00' fill-rule='evenodd' d='M150.5 520.3 213.5 494.9 223.3 502.3 228.7 508.3 230.8 512.0 231.9 515.3 232.3 518.9 231.9 522.1 230.2 526.3 228.0 529.4 224.6 532.5 220.4 535.1 215.7 537.1 210.3 538.5 198.5 539.6 184.9 538.0 171.2 533.8 160.6 528.3ZM244.3 557.7 250.7 556.1 254.5 556.3 258.4 557.3 263.8 560.4 270.3 568.3 274.4 571.2 280.5 573.3 304.1 578.7 265.5 594.5 241.6 604.2 232.9 599.4 229.8 596.9 227.6 594.0 226.4 589.9 227.4 586.0 230.1 582.2 238.3 574.0 239.3 571.1 239.8 562.6 241.7 559.6Z'/>
<path fill='#b1cc00' fill-rule='evenodd' d='M159.8 517.3 159.5 516.7 205.2 498.3 214.6 502.8 221.3 508.3 223.5 511.2 225.0 514.6 225.5 517.9 225.1 521.1 223.9 523.9 221.6 527.0 218.6 529.5 214.4 531.9 204.7 534.7 193.9 535.2 183.1 533.5 172.5 529.5 165.0 524.3 162.0 520.9ZM240.5 584.1 247.3 580.8 254.4 578.7 260.6 578.0 269.0 578.0 283.6 579.4 296.7 581.7 284.8 586.6 247.0 602.0 238.8 597.8 236.6 595.7 235.1 593.2 234.8 591.1 235.8 588.4 237.4 586.5Z'/>
<path fill='#cccc00' fill-rule='evenodd' d='M167.5 513.8 197.4 501.4 207.1 504.2 211.2 506.4 215.0 509.3 217.3 512.2 218.7 515.4 218.9 518.6 218.0 521.8 216.2 524.3 213.9 526.4 207.2 529.8 198.4 531.3 189.6 530.9 180.6 528.5 173.5 524.6 169.0 519.6 167.9 517.1ZM244.6 587.7 249.0 585.3 254.2 583.6 261.0 582.4 268.7 581.9 279.8 582.3 291.5 583.9 284.0 586.9 251.1 600.3 245.2 597.4 242.1 594.2 241.6 592.2 242.1 590.5Z'/>
<path fill='#cc9600' fill-rule='evenodd' d='M179.9 509.2 185.3 506.8 191.5 506.0 198.2 506.7 204.1 508.8 208.4 512.0 210.0 514.4 210.7 516.4 210.0 520.0 206.9 523.4 201.4 525.8 195.2 526.5 188.4 525.8 182.2 523.4 177.8 519.8 176.2 516.1 176.8 512.6ZM249.3 589.7 252.8 587.6 257.1 586.1 268.2 584.5 277.6 584.5 287.3 585.6 282.4 587.6 254.7 598.9 250.5 596.8 248.2 594.7 247.7 592.3Z'/>
<path fill='#cc5500' fill-rule='evenodd' d='M254.9 590.4 260.4 588.0 269.4 586.6 276.4 586.5 283.5 587.1 279.2 588.9 258.1 597.5 255.0 595.7 253.5 594.0 253.5 592.2Z'/>
<path fill='#cc0000' fill-rule='evenodd' d='M261.3 590.9 266.5 589.2 272.7 588.5 279.6 588.7 275.9 590.2 261.8 596.0 259.8 594.5 259.3 593.2 260.0 591.8Z'/>
</g>
</g>
<rect x='77.3' y='476.3' width='11.1' height='140.9' fill='#333'/>
<rect x='77.9' y='477.25' width='9.9' height='9.28' fill='#FF0000'/>
<rect x='77.9' y='487.23' width='9.9' height='9.28' fill='#FF6A00'/>
<rect x='77.9' y='497.21' width='9.9' height='9.28' fill='#FFBB00'/>
<rect x='77.9' y='507.19' width='9.9' height='9.28' fill='#FFFF00'/>
<rect x='77.9' y='517.16' width='9.9' height='9.28' fill='#DDFF00'/>
<rect x='77.9' y='527.14' width='9.9' height='9.28' fill='#A6FF00'/>
<rect x='77.9' y='537.12' width='9.9' height='9.28' fill='#3CFF00'/>
<rect x='77.9' y='547.10' width='9.9' height='9.28' fill='#00FF26'/>
<rect x='77.9' y='557.08' width='9.9' height='9.28' fill='#00FF99'/>
<rect x='77.9' y='567.06' width='9.9' height='9.28' fill='#00FFD0'/>
<rect x='77.9' y='577.04' width='9.9' height='9.28' fill='#00FFFF'/>
<rect x='77.9' y='587.01' width='9.9' height='9.28' fill='#00C8FF'/>
<rect x='77.9' y='596.99' width='9.9' height='9.28' fill='#0066FF'/>
<rect x='77.9' y='606.97' width='9.9' height='9.28' fill='#0000FF'/>
<text x='93.0' y='479.4' font-size='7.0' font-weight='bold' fill='#1a1a1a' fill-opacity='0.85'>34.766 Max</text>
<text x='93.0' y='489.4' font-size='7.0' font-weight='normal' fill='#1a1a1a' fill-opacity='0.85'>29.822</text>
<text x='93.0' y='499.4' font-size='7.0' font-weight='normal' fill='#1a1a1a' fill-opacity='0.85'>24.877</text>
<text x='93.0' y='509.4' font-size='7.0' font-weight='normal' fill='#1a1a1a' fill-opacity='0.85'>19.932</text>
<text x='93.0' y='519.3' font-size='7.0' font-weight='normal' fill='#1a1a1a' fill-opacity='0.85'>14.988</text>
<text x='93.0' y='529.3' font-size='7.0' font-weight='normal' fill='#1a1a1a' fill-opacity='0.85'>10.043</text>
<text x='93.0' y='539.3' font-size='7.0' font-weight='normal' fill='#1a1a1a' fill-opacity='0.85'>5.0984</text>
<text x='93.0' y='549.3' font-size='7.0' font-weight='normal' fill='#1a1a1a' fill-opacity='0.85'>0.15371</text>
<text x='93.0' y='559.2' font-size='7.0' font-weight='normal' fill='#1a1a1a' fill-opacity='0.85'>-4.7909</text>
<text x='93.0' y='569.2' font-size='7.0' font-weight='normal' fill='#1a1a1a' fill-opacity='0.85'>-9.7356</text>
<text x='93.0' y='579.2' font-size='7.0' font-weight='normal' fill='#1a1a1a' fill-opacity='0.85'>-14.68</text>
<text x='93.0' y='589.2' font-size='7.0' font-weight='normal' fill='#1a1a1a' fill-opacity='0.85'>-19.625</text>
<text x='93.0' y='599.2' font-size='7.0' font-weight='normal' fill='#1a1a1a' fill-opacity='0.85'>-24.57</text>
<text x='93.0' y='609.1' font-size='7.0' font-weight='normal' fill='#1a1a1a' fill-opacity='0.85'>-29.514</text>
<text x='93.0' y='619.1' font-size='7.0' font-weight='bold' fill='#1a1a1a' fill-opacity='0.85'>-34.459 Min</text>
<clipPath id='cb7'><rect x='546.5' y='471.4' width='274.5' height='173.3'/></clipPath>
<g clip-path='url(#cb7)'>
<rect x='546.5' y='471.4' width='274.5' height='173.3' fill='url(#bgg)' stroke='#e8eefc' stroke-width='2'/>
<polygon points='590.9,558.6 699.3,480.2 824.0,558.0 711.4,636.4' fill='#5f6680' fill-opacity='0.42'/>
<clipPath id='cbd7'><path d='M598.6 559.7 602.9 556.8 607.2 553.9 611.5 550.9 615.8 548.0 620.1 545.1 624.5 542.2 628.8 539.3 633.1 536.3 637.4 533.4 641.7 530.5 646.0 527.6 650.3 524.7 654.6 521.7 658.9 518.8 663.2 515.9 667.5 513.0 671.8 510.0 676.1 507.1 680.5 504.2 684.8 501.3 689.1 498.4 693.4 495.4 697.7 492.5 702.0 489.6 706.9 492.4 711.7 495.3 716.6 498.1 721.5 500.9 726.3 503.7 731.2 506.6 736.0 509.4 740.9 512.2 745.8 515.1 750.6 517.9 755.5 520.7 760.4 523.5 765.2 526.4 770.1 529.2 774.9 532.0 779.8 534.9 784.7 537.7 789.5 540.5 794.4 543.4 799.2 546.2 804.1 549.0 809.0 551.8 813.8 554.7 818.7 557.5 814.3 560.5 809.9 563.4 805.6 566.4 801.2 569.4 796.8 572.3 792.4 575.3 788.0 578.3 783.7 581.2 779.3 584.2 774.9 587.2 770.5 590.1 766.2 593.1 761.8 596.1 757.4 599.0 753.0 602.0 748.6 605.0 744.3 607.9 739.9 610.9 735.5 613.9 731.1 616.8 726.7 619.8 722.4 622.8 718.0 625.7 713.6 628.7 708.8 625.8 704.0 623.0 699.2 620.1 694.4 617.2 689.6 614.3 684.9 611.5 680.1 608.6 675.3 605.7 670.5 602.8 665.7 600.0 660.9 597.1 656.1 594.2 651.3 591.3 646.5 588.5 641.7 585.6 636.9 582.7 632.1 579.8 627.4 577.0 622.6 574.1 617.8 571.2 613.0 568.3 608.2 565.5 603.4 562.6Z'/></clipPath>
<g id='bd7' clip-path='url(#cbd7)' filter='url(#soft)'>
<path d='M598.6 559.7 602.9 556.8 607.2 553.9 611.5 550.9 615.8 548.0 620.1 545.1 624.5 542.2 628.8 539.3 633.1 536.3 637.4 533.4 641.7 530.5 646.0 527.6 650.3 524.7 654.6 521.7 658.9 518.8 663.2 515.9 667.5 513.0 671.8 510.0 676.1 507.1 680.5 504.2 684.8 501.3 689.1 498.4 693.4 495.4 697.7 492.5 702.0 489.6 706.9 492.4 711.7 495.3 716.6 498.1 721.5 500.9 726.3 503.7 731.2 506.6 736.0 509.4 740.9 512.2 745.8 515.1 750.6 517.9 755.5 520.7 760.4 523.5 765.2 526.4 770.1 529.2 774.9 532.0 779.8 534.9 784.7 537.7 789.5 540.5 794.4 543.4 799.2 546.2 804.1 549.0 809.0 551.8 813.8 554.7 818.7 557.5 814.3 560.5 809.9 563.4 805.6 566.4 801.2 569.4 796.8 572.3 792.4 575.3 788.0 578.3 783.7 581.2 779.3 584.2 774.9 587.2 770.5 590.1 766.2 593.1 761.8 596.1 757.4 599.0 753.0 602.0 748.6 605.0 744.3 607.9 739.9 610.9 735.5 613.9 731.1 616.8 726.7 619.8 722.4 622.8 718.0 625.7 713.6 628.7 708.8 625.8 704.0 623.0 699.2 620.1 694.4 617.2 689.6 614.3 684.9 611.5 680.1 608.6 675.3 605.7 670.5 602.8 665.7 600.0 660.9 597.1 656.1 594.2 651.3 591.3 646.5 588.5 641.7 585.6 636.9 582.7 632.1 579.8 627.4 577.0 622.6 574.1 617.8 571.2 613.0 568.3 608.2 565.5 603.4 562.6Z' fill='#0000cc'/>
<path fill='#0052cc' fill-rule='evenodd' d='M599.7 559.5 599.5 559.1 692.2 496.2 702.3 496.8 712.8 495.9 818.7 557.5 713.6 628.7 599.9 560.5Z'/>
<path fill='#00a0cc' fill-rule='evenodd' d='M603.8 556.2 689.4 498.2 702.3 498.6 715.9 497.7 818.7 557.5 813.4 561.1 713.6 628.7 604.8 563.4 605.1 559.9Z'/>
<path fill='#00cccc' fill-rule='evenodd' d='M607.0 554.0 685.9 500.5 719.8 500.0 816.9 556.5 816.3 559.1 810.8 562.8 713.6 628.7 608.9 565.9 609.4 562.9 609.3 559.8Z'/>
<path fill='#00cca6' fill-rule='evenodd' d='M610.9 552.2 610.6 551.6 681.4 503.5 711.2 502.6 724.7 502.8 809.5 552.1 808.2 558.2 805.6 565.5 805.1 566.7 717.9 625.8 709.4 626.2 614.0 568.9 613.6 559.6Z'/>
<path fill='#00cc7a' fill-rule='evenodd' d='M615.5 548.4 676.1 507.1 688.1 506.0 703.1 505.4 718.0 505.4 730.4 506.1 801.6 547.5 800.2 557.2 795.6 568.9 792.1 575.5 730.9 617.0 714.1 619.2 697.1 618.8 623.4 574.6 621.1 569.2Z'/>
<path fill='#00cc1e' fill-rule='evenodd' d='M622.8 543.7 622.9 543.2 669.8 511.4 685.3 509.2 703.0 508.2 720.3 508.4 737.0 510.0 793.1 542.6 793.3 549.3 791.9 556.8 787.5 567.4 784.1 573.7 777.2 583.0 768.8 591.3 754.3 601.2 744.0 605.9 730.3 610.0 716.7 612.1 703.1 612.4 689.3 610.8 680.1 608.6 640.3 584.7 633.2 575.7 628.5 567.0 623.9 554.2 622.9 548.7Z'/>
<path fill='#30cc00' fill-rule='evenodd' d='M632.8 537.3 633.3 536.2 661.1 517.3 673.1 514.3 690.8 511.9 709.5 511.1 728.4 512.2 745.4 514.8 783.0 536.7 784.3 540.4 785.1 544.5 785.1 549.5 784.4 554.0 781.6 561.5 774.6 573.9 767.0 582.8 758.3 590.1 747.8 596.4 736.2 601.2 723.9 604.3 711.1 605.6 698.2 605.1 685.4 602.8 673.5 598.9 662.0 593.0 652.2 585.8 643.7 576.9 637.8 568.0 633.9 560.5 632.0 555.4 631.0 550.6 630.8 546.0 631.4 541.4Z'/>
<path fill='#85cc00' fill-rule='evenodd' d='M649.2 528.1 658.4 522.9 669.7 518.9 683.1 516.1 698.6 514.5 714.2 514.4 729.9 515.7 744.8 518.5 756.6 522.4 765.0 526.9 771.0 531.9 775.1 537.9 776.9 544.5 776.7 551.2 774.6 558.2 768.6 568.8 762.9 576.2 755.2 583.3 745.8 589.4 735.5 594.1 724.0 597.3 711.7 598.7 700.0 598.4 688.1 596.4 677.2 592.8 665.7 586.8 655.7 578.9 648.3 570.1 641.4 558.2 639.1 549.7 639.1 545.1 639.7 541.4 640.9 538.0 643.0 534.3Z'/>
<path fill='#b1cc00' fill-rule='evenodd' d='M653.6 532.4 660.4 527.3 669.9 523.1 681.4 520.0 693.7 518.2 707.9 517.5 722.2 518.2 735.5 520.2 747.0 523.4 755.1 527.1 761.2 531.3 765.8 536.4 768.2 542.1 768.7 549.0 767.2 555.6 764.7 560.7 758.1 570.1 751.3 576.9 743.7 582.3 734.6 586.9 724.5 590.1 714.6 591.7 704.2 591.9 693.9 590.6 684.3 588.0 673.7 583.2 664.4 576.6 657.4 569.4 650.5 559.4 647.7 551.9 647.4 544.3 649.3 538.0Z'/>
<path fill='#cccc00' fill-rule='evenodd' d='M662.0 533.2 668.4 528.8 676.6 525.4 686.3 522.9 697.1 521.4 709.5 520.9 721.2 521.6 732.1 523.4 741.6 526.2 748.8 529.5 754.1 533.3 758.1 537.9 760.1 543.0 760.5 549.1 759.1 554.9 756.4 559.9 750.9 566.7 745.1 572.4 738.0 577.3 730.3 581.0 721.9 583.6 713.1 585.0 703.5 585.0 694.6 583.7 686.1 581.2 677.4 577.0 670.2 571.8 664.8 566.3 658.0 557.1 655.7 550.4 655.6 544.0 657.8 538.1Z'/>
<path fill='#cc9600' fill-rule='evenodd' d='M667.7 536.6 672.3 532.7 679.0 529.3 687.2 526.7 695.8 525.2 705.7 524.4 715.3 524.7 724.5 525.8 733.4 528.0 740.2 530.7 745.2 533.8 749.1 537.6 751.4 541.6 752.4 546.4 751.8 551.5 749.6 556.8 746.0 561.3 739.5 567.4 734.4 571.1 728.5 574.2 721.4 576.6 713.9 578.0 706.6 578.3 699.5 577.6 692.5 576.0 684.8 572.9 678.5 568.9 670.3 561.6 666.5 556.8 664.1 551.1 663.6 545.9 665.0 540.7Z'/>
<path fill='#cc5500' fill-rule='evenodd' d='M676.1 537.4 679.7 534.6 685.0 532.0 691.4 530.0 698.8 528.6 706.3 528.1 714.0 528.3 721.9 529.4 728.8 531.2 733.8 533.2 738.1 535.9 741.4 539.1 743.3 542.4 744.2 546.4 743.7 550.8 742.0 554.8 738.9 558.8 734.8 562.2 728.1 566.4 723.4 568.6 717.9 570.4 711.5 571.4 705.9 571.5 700.1 570.8 694.3 569.2 688.5 566.7 680.7 561.9 676.6 558.3 673.9 554.6 672.2 550.2 671.9 545.6 673.1 541.4Z'/>
<path fill='#cc0000' fill-rule='evenodd' d='M682.5 540.4 685.2 537.9 688.7 535.8 693.8 533.9 698.8 532.7 711.2 532.0 722.1 533.8 726.6 535.4 730.3 537.5 733.3 540.1 735.0 542.6 735.9 545.6 735.9 548.7 734.7 552.2 732.8 555.2 730.1 557.7 726.1 560.3 721.2 562.4 716.4 563.7 706.5 564.6 695.8 562.7 691.4 561.1 687.0 558.6 684.0 556.0 681.7 553.0 680.4 549.8 680.0 546.3 680.7 543.4Z'/>
</g>
</g>
<rect x='549.8' y='477.4' width='12.1' height='162.9' fill='#333'/>
<rect x='550.4' y='478.35' width='10.9' height='10.85' fill='#FF0000'/>
<rect x='550.4' y='489.90' width='10.9' height='10.85' fill='#FF6A00'/>
<rect x='550.4' y='501.45' width='10.9' height='10.85' fill='#FFBB00'/>
<rect x='550.4' y='513.00' width='10.9' height='10.85' fill='#FFFF00'/>
<rect x='550.4' y='524.55' width='10.9' height='10.85' fill='#DDFF00'/>
<rect x='550.4' y='536.10' width='10.9' height='10.85' fill='#A6FF00'/>
<rect x='550.4' y='547.65' width='10.9' height='10.85' fill='#3CFF00'/>
<rect x='550.4' y='559.20' width='10.9' height='10.85' fill='#00FF26'/>
<rect x='550.4' y='570.75' width='10.9' height='10.85' fill='#00FF99'/>
<rect x='550.4' y='582.30' width='10.9' height='10.85' fill='#00FFD0'/>
<rect x='550.4' y='593.85' width='10.9' height='10.85' fill='#00FFFF'/>
<rect x='550.4' y='605.40' width='10.9' height='10.85' fill='#00C8FF'/>
<rect x='550.4' y='616.95' width='10.9' height='10.85' fill='#0066FF'/>
<rect x='550.4' y='628.50' width='10.9' height='10.85' fill='#0000FF'/>
<text x='566.5' y='480.5' font-size='7.0' font-weight='bold' fill='#1a1a1a' fill-opacity='0.85'>78.876 Max</text>
<text x='566.5' y='492.1' font-size='7.0' font-weight='normal' fill='#1a1a1a' fill-opacity='0.85'>63.764</text>
<text x='566.5' y='503.6' font-size='7.0' font-weight='normal' fill='#1a1a1a' fill-opacity='0.85'>48.653</text>
<text x='566.5' y='515.2' font-size='7.0' font-weight='normal' fill='#1a1a1a' fill-opacity='0.85'>33.542</text>
<text x='566.5' y='526.7' font-size='7.0' font-weight='normal' fill='#1a1a1a' fill-opacity='0.85'>18.431</text>
<text x='566.5' y='538.3' font-size='7.0' font-weight='normal' fill='#1a1a1a' fill-opacity='0.85'>3.3193</text>
<text x='566.5' y='549.8' font-size='7.0' font-weight='normal' fill='#1a1a1a' fill-opacity='0.85'>-11.792</text>
<text x='566.5' y='561.4' font-size='7.0' font-weight='normal' fill='#1a1a1a' fill-opacity='0.85'>-26.903</text>
<text x='566.5' y='572.9' font-size='7.0' font-weight='normal' fill='#1a1a1a' fill-opacity='0.85'>-42.014</text>
<text x='566.5' y='584.5' font-size='7.0' font-weight='normal' fill='#1a1a1a' fill-opacity='0.85'>-57.126</text>
<text x='566.5' y='596.0' font-size='7.0' font-weight='normal' fill='#1a1a1a' fill-opacity='0.85'>-72.237</text>
<text x='566.5' y='607.6' font-size='7.0' font-weight='normal' fill='#1a1a1a' fill-opacity='0.85'>-87.348</text>
<text x='566.5' y='619.1' font-size='7.0' font-weight='normal' fill='#1a1a1a' fill-opacity='0.85'>-102.46</text>
<text x='566.5' y='630.7' font-size='7.0' font-weight='normal' fill='#1a1a1a' fill-opacity='0.85'>-117.57</text>
<text x='566.5' y='642.2' font-size='7.0' font-weight='bold' fill='#1a1a1a' fill-opacity='0.85'>-132.68 Min</text>
<clipPath id='cb8'><rect x='842' y='471.4' width='259.0' height='170.9'/></clipPath>
<g clip-path='url(#cb8)'>
<rect x='842' y='471.4' width='259.0' height='170.9' fill='url(#bgg)' stroke='#e8eefc' stroke-width='2'/>
<polygon points='869.2,554.8 993.7,473.6 1100.9,559.8 976.4,641.0' fill='#5f6680' fill-opacity='0.42'/>
<clipPath id='cbd8'><path d='M888.7 556.6 893.3 553.6 897.9 550.7 902.5 547.7 907.1 544.8 911.7 541.8 916.3 538.9 920.9 535.9 925.5 533.0 930.1 530.0 934.7 527.1 939.3 524.1 943.9 521.1 948.5 518.2 953.1 515.2 957.7 512.3 962.3 509.3 966.9 506.4 971.5 503.4 976.1 500.5 980.7 497.5 985.3 494.6 989.9 491.6 994.5 488.7 999.1 485.7 1003.2 488.8 1007.2 491.9 1011.3 495.0 1015.4 498.1 1019.4 501.2 1023.5 504.3 1027.5 507.4 1031.6 510.5 1035.7 513.6 1039.7 516.7 1043.8 519.8 1047.8 523.0 1051.9 526.1 1056.0 529.2 1060.0 532.3 1064.1 535.4 1068.2 538.5 1072.2 541.6 1076.3 544.7 1080.3 547.8 1084.4 550.9 1088.5 554.0 1092.5 557.1 1096.6 560.2 1092.0 563.1 1087.4 565.9 1082.7 568.8 1078.1 571.7 1073.5 574.6 1068.9 577.4 1064.3 580.3 1059.6 583.2 1055.0 586.0 1050.4 588.9 1045.8 591.8 1041.2 594.7 1036.5 597.5 1031.9 600.4 1027.3 603.3 1022.7 606.1 1018.0 609.0 1013.4 611.9 1008.8 614.7 1004.2 617.6 999.6 620.5 994.9 623.4 990.3 626.2 985.7 629.1 981.7 626.1 977.6 623.1 973.6 620.0 969.5 617.0 965.5 614.0 961.5 611.0 957.4 608.0 953.4 604.9 949.3 601.9 945.3 598.9 941.2 595.9 937.2 592.9 933.2 589.8 929.1 586.8 925.1 583.8 921.0 580.8 917.0 577.7 913.0 574.7 908.9 571.7 904.9 568.7 900.8 565.7 896.8 562.6 892.7 559.6Z'/></clipPath>
<g id='bd8' clip-path='url(#cbd8)' filter='url(#soft)'>
<path d='M888.7 556.6 893.3 553.6 897.9 550.7 902.5 547.7 907.1 544.8 911.7 541.8 916.3 538.9 920.9 535.9 925.5 533.0 930.1 530.0 934.7 527.1 939.3 524.1 943.9 521.1 948.5 518.2 953.1 515.2 957.7 512.3 962.3 509.3 966.9 506.4 971.5 503.4 976.1 500.5 980.7 497.5 985.3 494.6 989.9 491.6 994.5 488.7 999.1 485.7 1003.2 488.8 1007.2 491.9 1011.3 495.0 1015.4 498.1 1019.4 501.2 1023.5 504.3 1027.5 507.4 1031.6 510.5 1035.7 513.6 1039.7 516.7 1043.8 519.8 1047.8 523.0 1051.9 526.1 1056.0 529.2 1060.0 532.3 1064.1 535.4 1068.2 538.5 1072.2 541.6 1076.3 544.7 1080.3 547.8 1084.4 550.9 1088.5 554.0 1092.5 557.1 1096.6 560.2 1092.0 563.1 1087.4 565.9 1082.7 568.8 1078.1 571.7 1073.5 574.6 1068.9 577.4 1064.3 580.3 1059.6 583.2 1055.0 586.0 1050.4 588.9 1045.8 591.8 1041.2 594.7 1036.5 597.5 1031.9 600.4 1027.3 603.3 1022.7 606.1 1018.0 609.0 1013.4 611.9 1008.8 614.7 1004.2 617.6 999.6 620.5 994.9 623.4 990.3 626.2 985.7 629.1 981.7 626.1 977.6 623.1 973.6 620.0 969.5 617.0 965.5 614.0 961.5 611.0 957.4 608.0 953.4 604.9 949.3 601.9 945.3 598.9 941.2 595.9 937.2 592.9 933.2 589.8 929.1 586.8 925.1 583.8 921.0 580.8 917.0 577.7 913.0 574.7 908.9 571.7 904.9 568.7 900.8 565.7 896.8 562.6 892.7 559.6Z' fill='#0000cc'/>
<path fill='#0052cc' fill-rule='evenodd' d='M889.4 556.2 988.3 492.6 999.1 493.4 1008.7 493.0 1096.6 560.2 985.7 629.1 888.7 556.6Z'/>
<path fill='#00a0cc' fill-rule='evenodd' d='M889.4 556.2 985.4 494.5 998.9 495.2 1011.3 495.0 1096.6 560.2 985.7 629.1 888.7 556.6Z'/>
<path fill='#00cccc' fill-rule='evenodd' d='M889.4 556.2 981.9 496.7 984.4 496.8 1014.4 497.4 1096.6 560.2 985.7 629.1 888.7 556.6Z'/>
<path fill='#00cca6' fill-rule='evenodd' d='M894.1 553.9 894.0 553.2 977.7 499.5 1010.5 499.8 1018.2 500.3 1090.7 555.7 1088.6 562.6 1087.1 566.1 985.7 629.1 896.5 562.4Z'/>
<path fill='#00cc7a' fill-rule='evenodd' d='M900.9 549.5 900.9 548.8 972.8 502.6 992.5 501.9 1016.2 503.0 1022.6 503.7 1084.1 550.7 1082.3 558.9 1078.9 566.9 1076.4 572.8 985.7 629.1 908.1 571.1 903.0 559.2Z'/>
<path fill='#00cc1e' fill-rule='evenodd' d='M908.2 544.4 967.3 506.1 981.2 504.9 996.2 504.7 1011.1 505.4 1025.6 507.2 1027.8 507.6 1077.0 545.2 1076.6 551.5 1075.3 557.4 1068.7 571.6 1064.3 580.3 995.7 622.9 975.2 621.2 921.2 580.9 910.4 558.7 908.6 551.4Z'/>
<path fill='#30cc00' fill-rule='evenodd' d='M916.4 539.0 960.8 510.3 978.8 508.0 998.3 507.6 1017.3 509.1 1033.6 512.4 1068.8 538.9 1069.6 547.3 1068.2 555.8 1065.5 562.4 1057.6 576.9 1048.3 590.2 1008.4 615.0 999.9 616.0 996.7 615.6 987.4 613.0 976.1 614.3 969.6 613.3 959.2 609.3 941.7 596.2 933.9 586.6 927.0 575.9 917.8 558.2 915.7 548.6 915.7 543.5Z'/>
<path fill='#85cc00' fill-rule='evenodd' d='M926.4 533.0 927.2 531.9 951.6 516.2 960.9 513.7 970.1 512.1 987.3 510.6 1005.6 511.0 1022.7 513.4 1036.7 517.3 1045.6 521.3 1055.7 529.0 1059.5 534.3 1061.7 540.6 1062.1 548.8 1060.4 556.6 1057.4 562.9 1048.1 577.7 1040.1 588.1 1031.4 596.8 1023.7 602.4 1014.3 606.9 1006.1 609.2 999.0 610.0 987.4 608.9 977.1 608.7 969.5 606.8 964.0 604.4 958.5 601.2 949.3 593.3 938.7 580.2 927.7 562.8 924.3 554.9 923.0 547.2 923.7 539.7Z'/>
<path fill='#b1cc00' fill-rule='evenodd' d='M940.1 526.9 948.6 521.8 959.8 517.7 972.8 515.0 987.4 513.7 1001.8 513.9 1016.4 515.7 1028.9 518.8 1039.4 523.2 1046.5 528.1 1051.3 533.5 1054.1 540.2 1054.8 547.4 1053.6 554.1 1051.1 560.1 1037.3 579.3 1029.0 588.4 1021.4 595.0 1014.4 599.3 1006.1 602.6 996.9 604.2 985.9 604.0 976.7 602.3 968.7 598.9 960.0 592.7 950.5 582.8 936.1 563.4 932.4 556.4 931.1 552.2 930.4 547.6 931.2 539.5 932.7 535.8 934.7 532.5Z'/>
<path fill='#cccc00' fill-rule='evenodd' d='M946.4 528.9 954.2 524.1 963.6 520.6 974.4 518.2 986.8 517.0 999.5 517.0 1012.0 518.4 1023.7 521.2 1032.6 524.9 1039.2 529.2 1043.7 534.1 1046.5 539.9 1047.4 546.1 1046.5 552.6 1044.1 558.6 1041.1 563.0 1032.3 573.3 1025.2 580.7 1017.5 587.3 1010.8 591.8 1003.7 595.0 996.3 596.7 989.3 596.9 982.0 595.6 975.5 593.0 967.1 587.4 957.4 578.4 944.2 563.2 940.1 556.6 937.9 548.7 938.4 541.0 941.2 534.5Z'/>
<path fill='#cc9600' fill-rule='evenodd' d='M953.5 530.3 959.8 526.5 967.5 523.5 977.3 521.3 987.3 520.3 997.5 520.3 1007.6 521.3 1016.6 523.2 1025.1 526.3 1031.3 530.0 1035.7 534.0 1038.7 538.9 1039.9 544.1 1039.6 550.2 1037.7 555.7 1034.0 561.5 1029.0 566.3 1021.0 573.6 1015.3 578.0 1008.2 582.2 1001.8 584.9 995.8 586.2 990.1 586.4 983.9 585.2 978.1 583.0 970.5 578.5 963.4 573.0 952.1 562.4 947.3 555.4 945.3 548.2 945.7 541.7 946.7 538.7 948.6 535.3Z'/>
<path fill='#cc5500' fill-rule='evenodd' d='M959.8 532.2 965.4 528.8 972.2 526.2 980.1 524.4 987.8 523.6 996.1 523.5 1004.2 524.3 1012.2 526.0 1019.0 528.4 1024.0 531.2 1028.1 534.6 1031.0 538.7 1032.4 543.0 1032.5 547.9 1031.2 552.9 1028.7 557.5 1024.6 562.0 1020.2 565.4 1010.3 571.3 1005.7 573.6 1000.3 575.3 995.1 576.1 989.1 576.1 983.3 574.9 978.0 573.0 961.8 563.0 957.2 558.4 954.2 553.5 952.7 547.7 953.1 541.6 955.5 536.6Z'/>
<path fill='#cc0000' fill-rule='evenodd' d='M967.3 534.0 970.4 531.5 974.1 529.5 984.3 526.7 995.2 526.3 1005.6 527.6 1013.8 530.9 1018.9 535.3 1020.2 537.9 1020.5 540.7 1019.5 543.8 1017.6 546.2 1014.5 548.6 1011.0 549.8 1006.8 549.5 997.8 546.9 992.4 546.3 987.1 547.0 977.5 549.7 973.5 549.7 968.4 547.0 966.4 544.9 965.1 542.4 964.9 538.0Z'/>
</g>
</g>
<rect x='845.0' y='476.8' width='11.1' height='158.6' fill='#333'/>
<rect x='845.6' y='477.75' width='9.9' height='10.54' fill='#FF0000'/>
<rect x='845.6' y='488.99' width='9.9' height='10.54' fill='#FF6A00'/>
<rect x='845.6' y='500.24' width='9.9' height='10.54' fill='#FFBB00'/>
<rect x='845.6' y='511.48' width='9.9' height='10.54' fill='#FFFF00'/>
<rect x='845.6' y='522.72' width='9.9' height='10.54' fill='#DDFF00'/>
<rect x='845.6' y='533.96' width='9.9' height='10.54' fill='#A6FF00'/>
<rect x='845.6' y='545.21' width='9.9' height='10.54' fill='#3CFF00'/>
<rect x='845.6' y='556.45' width='9.9' height='10.54' fill='#00FF26'/>
<rect x='845.6' y='567.69' width='9.9' height='10.54' fill='#00FF99'/>
<rect x='845.6' y='578.94' width='9.9' height='10.54' fill='#00FFD0'/>
<rect x='845.6' y='590.18' width='9.9' height='10.54' fill='#00FFFF'/>
<rect x='845.6' y='601.42' width='9.9' height='10.54' fill='#00C8FF'/>
<rect x='845.6' y='612.66' width='9.9' height='10.54' fill='#0066FF'/>
<rect x='845.6' y='623.91' width='9.9' height='10.54' fill='#0000FF'/>
<text x='860.7' y='479.9' font-size='7.0' font-weight='bold' fill='#1a1a1a' fill-opacity='0.85'>34.356 Max</text>
<text x='860.7' y='491.2' font-size='7.0' font-weight='normal' fill='#1a1a1a' fill-opacity='0.85'>27.658</text>
<text x='860.7' y='502.4' font-size='7.0' font-weight='normal' fill='#1a1a1a' fill-opacity='0.85'>20.961</text>
<text x='860.7' y='513.6' font-size='7.0' font-weight='normal' fill='#1a1a1a' fill-opacity='0.85'>14.263</text>
<text x='860.7' y='524.9' font-size='7.0' font-weight='normal' fill='#1a1a1a' fill-opacity='0.85'>7.5658</text>
<text x='860.7' y='536.1' font-size='7.0' font-weight='normal' fill='#1a1a1a' fill-opacity='0.85'>0.86832</text>
<text x='860.7' y='547.4' font-size='7.0' font-weight='normal' fill='#1a1a1a' fill-opacity='0.85'>-5.8292</text>
<text x='860.7' y='558.6' font-size='7.0' font-weight='normal' fill='#1a1a1a' fill-opacity='0.85'>-12.527</text>
<text x='860.7' y='569.9' font-size='7.0' font-weight='normal' fill='#1a1a1a' fill-opacity='0.85'>-19.224</text>
<text x='860.7' y='581.1' font-size='7.0' font-weight='normal' fill='#1a1a1a' fill-opacity='0.85'>-25.922</text>
<text x='860.7' y='592.3' font-size='7.0' font-weight='normal' fill='#1a1a1a' fill-opacity='0.85'>-32.619</text>
<text x='860.7' y='603.6' font-size='7.0' font-weight='normal' fill='#1a1a1a' fill-opacity='0.85'>-39.317</text>
<text x='860.7' y='614.8' font-size='7.0' font-weight='normal' fill='#1a1a1a' fill-opacity='0.85'>-46.014</text>
<text x='860.7' y='626.1' font-size='7.0' font-weight='normal' fill='#1a1a1a' fill-opacity='0.85'>-52.711</text>
<text x='860.7' y='637.3' font-size='7.0' font-weight='bold' fill='#1a1a1a' fill-opacity='0.85'>-59.409 Min</text>
<clipPath id='cb9'><rect x='1128' y='471.4' width='247.0' height='173.9'/></clipPath>
<g clip-path='url(#cb9)'>
<rect x='1128' y='471.4' width='247.0' height='173.9' fill='url(#bgg)' stroke='#e8eefc' stroke-width='2'/>
<polygon points='1156.6,548.7 1267.3,472.1 1377.0,567.4 1265.1,644.0' fill='#5f6680' fill-opacity='0.42'/>
<clipPath id='cbd9'><path d='M1170.5 561.9 1174.8 558.7 1179.1 555.5 1183.4 552.2 1187.7 549.0 1192.0 545.8 1196.4 542.6 1200.7 539.4 1205.0 536.1 1209.3 532.9 1213.6 529.7 1217.9 526.5 1222.2 523.2 1226.5 520.0 1230.8 516.8 1235.1 513.6 1239.4 510.4 1243.7 507.1 1248.1 503.9 1252.4 500.7 1256.7 497.5 1261.0 494.3 1265.3 491.0 1269.6 487.8 1273.9 484.6 1278.1 487.9 1282.2 491.3 1286.4 494.6 1290.5 498.0 1294.7 501.3 1298.8 504.7 1303.0 508.0 1307.1 511.3 1311.3 514.7 1315.4 518.0 1319.6 521.4 1323.8 524.7 1327.9 528.0 1332.1 531.4 1336.2 534.7 1340.4 538.1 1344.5 541.4 1348.7 544.8 1352.8 548.1 1357.0 551.4 1361.1 554.8 1365.3 558.1 1369.4 561.5 1373.6 564.8 1369.2 567.9 1364.8 571.0 1360.4 574.2 1356.1 577.3 1351.7 580.4 1347.3 583.5 1342.9 586.6 1338.5 589.8 1334.2 592.9 1329.8 596.0 1325.4 599.1 1321.0 602.2 1316.6 605.4 1312.2 608.5 1307.8 611.6 1303.5 614.7 1299.1 617.9 1294.7 621.0 1290.3 624.1 1285.9 627.2 1281.6 630.3 1277.2 633.5 1272.8 636.6 1268.4 639.7 1264.3 636.5 1260.2 633.2 1256.2 630.0 1252.1 626.7 1248.0 623.5 1243.9 620.2 1239.8 617.0 1235.8 613.8 1231.7 610.5 1227.6 607.3 1223.5 604.0 1219.5 600.8 1215.4 597.6 1211.3 594.3 1207.2 591.1 1203.1 587.8 1199.1 584.6 1195.0 581.3 1190.9 578.1 1186.8 574.9 1182.7 571.6 1178.7 568.4 1174.6 565.1Z'/></clipPath>
<g id='bd9' clip-path='url(#cbd9)' filter='url(#soft)'>
<path d='M1170.5 561.9 1174.8 558.7 1179.1 555.5 1183.4 552.2 1187.7 549.0 1192.0 545.8 1196.4 542.6 1200.7 539.4 1205.0 536.1 1209.3 532.9 1213.6 529.7 1217.9 526.5 1222.2 523.2 1226.5 520.0 1230.8 516.8 1235.1 513.6 1239.4 510.4 1243.7 507.1 1248.1 503.9 1252.4 500.7 1256.7 497.5 1261.0 494.3 1265.3 491.0 1269.6 487.8 1273.9 484.6 1278.1 487.9 1282.2 491.3 1286.4 494.6 1290.5 498.0 1294.7 501.3 1298.8 504.7 1303.0 508.0 1307.1 511.3 1311.3 514.7 1315.4 518.0 1319.6 521.4 1323.8 524.7 1327.9 528.0 1332.1 531.4 1336.2 534.7 1340.4 538.1 1344.5 541.4 1348.7 544.8 1352.8 548.1 1357.0 551.4 1361.1 554.8 1365.3 558.1 1369.4 561.5 1373.6 564.8 1369.2 567.9 1364.8 571.0 1360.4 574.2 1356.1 577.3 1351.7 580.4 1347.3 583.5 1342.9 586.6 1338.5 589.8 1334.2 592.9 1329.8 596.0 1325.4 599.1 1321.0 602.2 1316.6 605.4 1312.2 608.5 1307.8 611.6 1303.5 614.7 1299.1 617.9 1294.7 621.0 1290.3 624.1 1285.9 627.2 1281.6 630.3 1277.2 633.5 1272.8 636.6 1268.4 639.7 1264.3 636.5 1260.2 633.2 1256.2 630.0 1252.1 626.7 1248.0 623.5 1243.9 620.2 1239.8 617.0 1235.8 613.8 1231.7 610.5 1227.6 607.3 1223.5 604.0 1219.5 600.8 1215.4 597.6 1211.3 594.3 1207.2 591.1 1203.1 587.8 1199.1 584.6 1195.0 581.3 1190.9 578.1 1186.8 574.9 1182.7 571.6 1178.7 568.4 1174.6 565.1Z' fill='#0000cc'/>
<path fill='#0052cc' fill-rule='evenodd' d='M1171.1 561.4 1273.9 484.6 1373.6 564.8 1372.9 565.3 1268.4 639.7 1170.5 561.9Z'/>
<path fill='#00a0cc' fill-rule='evenodd' d='M1171.1 561.4 1268.8 488.4 1270.7 490.9 1274.1 491.8 1276.8 491.0 1278.9 488.6 1373.0 564.3 1373.6 564.8 1268.4 639.7 1170.5 561.9Z'/>
<path fill='#00cccc' fill-rule='evenodd' d='M1171.1 561.4 1261.6 493.8 1263.4 496.3 1266.0 498.2 1269.5 499.5 1273.0 499.9 1277.6 499.6 1281.1 498.4 1283.9 496.7 1285.9 494.2 1372.4 563.8 1373.6 564.8 1268.4 639.7 1170.5 561.9Z'/>
<path fill='#00cca6' fill-rule='evenodd' d='M1171.1 561.4 1255.1 498.7 1257.7 501.5 1261.6 503.4 1266.5 504.6 1273.3 505.1 1279.1 504.8 1285.1 503.6 1289.1 501.9 1292.1 499.2 1373.6 564.8 1268.4 639.7 1170.5 561.9Z'/>
<path fill='#00cc7a' fill-rule='evenodd' d='M1183.4 552.2 1247.3 504.5 1252.1 506.6 1257.9 508.1 1285.3 508.8 1293.3 507.2 1299.1 504.9 1360.5 554.2 1357.6 558.9 1356.7 564.1 1357.8 569.5 1360.7 574.0 1268.4 639.7 1182.1 571.1 1185.2 566.6 1186.4 561.5 1185.8 557.1Z'/>
<path fill='#00cc1e' fill-rule='evenodd' d='M1195.1 543.5 1238.8 510.8 1245.0 511.9 1257.8 510.8 1274.9 510.8 1297.6 512.7 1306.8 511.0 1349.2 545.1 1346.4 548.9 1344.3 553.2 1342.8 558.0 1342.4 562.6 1342.7 567.0 1344.0 571.8 1346.6 577.4 1349.6 581.9 1349.3 582.1 1268.4 639.7 1192.9 579.7 1195.7 576.0 1198.3 571.1 1200.0 566.4 1200.7 562.0 1200.6 557.4 1199.6 552.5 1197.8 548.1Z'/>
<path fill='#30cc00' fill-rule='evenodd' d='M1220.0 527.5 1221.5 525.7 1225.6 524.5 1232.8 519.7 1241.0 516.3 1251.9 514.0 1265.8 513.2 1281.4 513.7 1294.6 515.5 1304.6 518.6 1314.5 524.3 1320.9 524.9 1324.3 526.2 1325.1 527.5 1325.2 528.9 1323.5 535.5 1325.0 541.0 1325.1 552.3 1323.4 567.7 1332.2 578.3 1336.1 584.9 1338.3 589.9 1324.3 599.9 1268.4 639.7 1203.8 588.4 1210.4 577.7 1217.6 569.4 1215.7 556.6 1215.5 546.3 1216.4 540.6 1220.3 531.3ZM1255.3 605.6 1255.9 607.9 1259.2 610.1 1264.7 611.8 1271.3 612.6 1277.7 612.4 1283.8 611.3 1287.9 609.6 1290.2 607.4 1290.4 606.3 1289.9 604.9 1286.1 602.0 1280.8 600.2 1274.2 599.3 1267.9 599.6 1262.1 601.0 1257.4 603.2Z'/>
<path fill='#85cc00' fill-rule='evenodd' d='M1230.3 527.7 1237.3 522.3 1245.5 518.9 1255.3 516.7 1267.9 515.9 1281.5 516.5 1293.0 518.6 1301.6 521.8 1308.9 526.9 1314.4 533.4 1319.4 542.1 1319.9 545.6 1319.4 558.1 1316.8 570.1 1313.3 579.2 1310.2 583.7 1306.5 587.7 1300.8 591.1 1294.1 593.7 1286.4 595.5 1265.2 596.6 1253.4 595.7 1241.5 592.5 1230.3 592.9 1227.3 592.3 1225.1 591.0 1224.3 589.8 1225.3 587.6 1227.8 586.5 1231.5 586.5 1226.5 578.8 1223.1 569.0 1220.9 557.1 1220.7 544.4 1221.3 541.5 1223.0 537.9 1226.8 531.9ZM1265.7 564.2 1265.5 567.2 1266.2 568.5 1268.3 569.9 1272.0 570.1 1273.6 569.3 1275.1 567.7 1275.3 564.7 1274.0 562.9 1272.5 562.1 1270.5 561.7 1268.3 562.1ZM1247.1 621.8 1250.7 619.7 1255.2 618.3 1260.5 617.6 1267.8 617.4 1278.3 617.8 1284.9 618.7 1289.4 620.1 1292.7 622.4 1268.4 639.7 1246.6 622.3ZM1306.1 590.4 1308.8 588.5 1312.6 587.6 1315.4 588.5 1315.6 590.0 1314.4 591.0 1310.9 591.7 1307.4 591.4Z'/>
<path fill='#b1cc00' fill-rule='evenodd' d='M1237.9 527.8 1243.4 524.2 1251.6 520.8 1261.0 519.3 1270.4 518.8 1278.9 519.3 1290.6 521.2 1295.6 523.3 1303.0 528.4 1313.8 539.6 1315.1 542.4 1315.2 544.8 1313.5 559.4 1311.3 567.7 1307.5 575.5 1301.7 581.9 1294.8 587.3 1288.8 590.5 1281.4 592.5 1271.2 593.3 1261.1 593.0 1253.0 591.3 1245.7 588.2 1239.2 583.5 1233.0 576.8 1229.3 569.2 1226.6 559.0 1225.5 545.6 1225.7 543.0 1226.9 540.0 1234.4 531.0ZM1262.8 562.6 1261.8 565.2 1262.1 567.8 1263.6 570.5 1266.3 572.3 1269.6 573.1 1273.0 572.8 1275.5 571.8 1277.8 569.7 1279.0 566.8 1278.7 564.1 1277.2 561.5 1274.5 559.7 1271.7 558.9 1268.2 559.0 1264.9 560.4ZM1262.6 626.2 1265.7 624.7 1269.0 624.3 1272.6 624.7 1275.0 625.8 1276.5 627.5 1278.6 632.4 1275.6 634.6 1268.4 639.7 1258.7 632.0Z'/>
<path fill='#cccc00' fill-rule='evenodd' d='M1247.4 525.5 1251.8 523.0 1256.9 522.0 1271.6 521.8 1288.6 522.7 1294.3 525.2 1297.5 529.6 1302.9 535.1 1308.3 537.9 1310.1 539.4 1311.7 542.1 1312.1 545.6 1308.8 550.7 1307.8 558.8 1305.8 565.2 1303.6 569.5 1300.8 573.2 1297.4 576.4 1293.3 579.1 1283.6 584.3 1277.7 586.6 1272.4 587.6 1266.5 587.5 1259.3 585.8 1250.5 581.8 1243.5 577.6 1239.0 573.4 1236.0 569.0 1233.5 563.3 1232.1 557.7 1231.4 550.6 1229.0 545.8 1228.8 543.1 1230.9 539.2 1237.8 534.7ZM1260.4 560.5 1258.8 563.6 1258.6 567.5 1260.2 571.1 1263.7 574.2 1268.3 576.5 1271.6 576.7 1275.1 575.5 1280.2 571.6 1282.1 568.1 1282.2 564.2 1280.2 560.3 1277.1 557.8 1272.7 556.2 1268.4 556.2 1263.9 557.6ZM1263.0 634.5 1266.0 633.1 1269.0 632.8 1272.8 633.8 1274.7 635.2 1274.3 635.5 1268.4 639.7 1262.4 634.9Z'/>
<path fill='#cc9600' fill-rule='evenodd' d='M1247.9 528.8 1249.4 527.0 1251.6 525.8 1259.5 524.1 1263.9 524.7 1271.0 524.4 1279.4 525.1 1283.5 524.6 1289.5 525.9 1293.2 527.9 1298.0 535.9 1304.4 539.7 1306.5 543.9 1307.0 547.2 1303.9 549.7 1303.2 551.1 1303.2 557.1 1301.2 562.5 1298.5 566.3 1295.2 569.7 1290.0 572.5 1287.7 572.8 1285.9 572.2 1285.3 571.7 1286.5 567.7 1286.3 564.3 1283.7 558.6 1280.4 555.4 1275.1 553.5 1267.3 553.3 1260.8 555.2 1257.6 558.5 1254.4 565.8 1254.6 568.6 1256.0 572.2 1255.5 572.8 1253.9 573.5 1250.6 573.3 1247.4 571.9 1244.3 569.5 1241.2 566.1 1239.0 562.1 1237.7 558.3 1237.0 551.1 1236.4 549.8 1233.8 547.9 1233.1 546.0 1234.4 542.0 1236.0 539.3 1242.8 535.7 1247.3 530.3ZM1265.1 636.1 1269.3 635.4 1272.0 636.2 1272.7 636.7 1272.3 636.9 1268.4 639.7 1264.4 636.5Z'/>
<path fill='#cc5500' fill-rule='evenodd' d='M1249.7 529.2 1251.6 527.8 1254.5 527.1 1260.5 527.9 1272.2 527.3 1280.8 528.5 1287.2 527.3 1291.1 528.5 1293.1 530.9 1294.2 536.7 1297.6 540.0 1299.9 544.0 1300.2 546.6 1299.6 549.0 1300.8 553.2 1300.6 556.8 1299.8 559.4 1298.0 562.0 1296.2 563.5 1293.5 564.8 1291.7 564.2 1289.4 562.1 1287.0 558.1 1286.0 555.3 1285.2 551.9 1270.2 550.6 1256.6 551.7 1255.9 552.2 1254.8 558.0 1251.5 563.6 1248.1 565.9 1244.8 564.5 1242.6 562.3 1240.9 558.8 1240.4 554.5 1241.6 549.8 1239.3 546.7 1239.2 545.8 1241.3 541.5 1246.7 536.8 1247.9 532.7ZM1266.5 637.2 1269.6 637.0 1271.0 637.8 1268.4 639.7 1265.8 637.6Z'/>
<path fill='#cc0000' fill-rule='evenodd' d='M1252.1 531.2 1254.2 529.9 1256.4 529.3 1258.3 529.8 1261.6 532.2 1271.6 531.4 1281.1 532.4 1284.2 529.9 1287.2 530.5 1291.9 534.7 1292.1 536.4 1291.6 538.7 1294.2 542.5 1294.9 544.8 1294.3 547.0 1292.3 549.4 1290.7 550.1 1288.2 550.1 1283.9 549.0 1282.1 547.5 1280.8 545.6 1271.0 546.1 1261.3 545.6 1259.4 548.0 1257.3 549.3 1254.2 550.0 1250.7 549.7 1247.8 547.1 1247.1 544.2 1249.9 538.4 1249.3 535.9 1249.6 534.1ZM1267.7 638.1 1269.2 638.2 1270.1 638.5 1269.7 638.8 1268.4 639.7 1266.8 638.5Z'/>
</g>
</g>
<rect x='1130.4' y='475.9' width='10.2' height='164.0' fill='#333'/>
<rect x='1131.0' y='476.85' width='9.0' height='10.93' fill='#FF0000'/>
<rect x='1131.0' y='488.48' width='9.0' height='10.93' fill='#FF6A00'/>
<rect x='1131.0' y='500.11' width='9.0' height='10.93' fill='#FFBB00'/>
<rect x='1131.0' y='511.74' width='9.0' height='10.93' fill='#FFFF00'/>
<rect x='1131.0' y='523.36' width='9.0' height='10.93' fill='#DDFF00'/>
<rect x='1131.0' y='534.99' width='9.0' height='10.93' fill='#A6FF00'/>
<rect x='1131.0' y='546.62' width='9.0' height='10.93' fill='#3CFF00'/>
<rect x='1131.0' y='558.25' width='9.0' height='10.93' fill='#00FF26'/>
<rect x='1131.0' y='569.88' width='9.0' height='10.93' fill='#00FF99'/>
<rect x='1131.0' y='581.51' width='9.0' height='10.93' fill='#00FFD0'/>
<rect x='1131.0' y='593.14' width='9.0' height='10.93' fill='#00FFFF'/>
<rect x='1131.0' y='604.76' width='9.0' height='10.93' fill='#00C8FF'/>
<rect x='1131.0' y='616.39' width='9.0' height='10.93' fill='#0066FF'/>
<rect x='1131.0' y='628.02' width='9.0' height='10.93' fill='#0000FF'/>
<text x='1145.2' y='479.0' font-size='7.0' font-weight='bold' fill='#1a1a1a' fill-opacity='0.85'>16.409 Max</text>
<text x='1145.2' y='490.6' font-size='7.0' font-weight='normal' fill='#1a1a1a' fill-opacity='0.85'>13.313</text>
<text x='1145.2' y='502.3' font-size='7.0' font-weight='normal' fill='#1a1a1a' fill-opacity='0.85'>10.217</text>
<text x='1145.2' y='513.9' font-size='7.0' font-weight='normal' fill='#1a1a1a' fill-opacity='0.85'>7.1216</text>
<text x='1145.2' y='525.5' font-size='7.0' font-weight='normal' fill='#1a1a1a' fill-opacity='0.85'>4.0258</text>
<text x='1145.2' y='537.2' font-size='7.0' font-weight='normal' fill='#1a1a1a' fill-opacity='0.85'>0.92993</text>
<text x='1145.2' y='548.8' font-size='7.0' font-weight='normal' fill='#1a1a1a' fill-opacity='0.85'>-2.1658</text>
<text x='1145.2' y='560.4' font-size='7.0' font-weight='normal' fill='#1a1a1a' fill-opacity='0.85'>-5.2617</text>
<text x='1145.2' y='572.0' font-size='7.0' font-weight='normal' fill='#1a1a1a' fill-opacity='0.85'>-8.3576</text>
<text x='1145.2' y='583.7' font-size='7.0' font-weight='normal' fill='#1a1a1a' fill-opacity='0.85'>-11.453</text>
<text x='1145.2' y='595.3' font-size='7.0' font-weight='normal' fill='#1a1a1a' fill-opacity='0.85'>-14.549</text>
<text x='1145.2' y='606.9' font-size='7.0' font-weight='normal' fill='#1a1a1a' fill-opacity='0.85'>-17.645</text>
<text x='1145.2' y='618.6' font-size='7.0' font-weight='normal' fill='#1a1a1a' fill-opacity='0.85'>-20.741</text>
<text x='1145.2' y='630.2' font-size='7.0' font-weight='normal' fill='#1a1a1a' fill-opacity='0.85'>-23.837</text>
<text x='1145.2' y='641.8' font-size='7.0' font-weight='bold' fill='#1a1a1a' fill-opacity='0.85'>-26.933 Min</text>
<clipPath id='cb10'><rect x='1387' y='471.4' width='290.0' height='170.9'/></clipPath>
<g clip-path='url(#cb10)'>
<rect x='1387' y='471.4' width='290.0' height='170.9' fill='url(#bgg)' stroke='#e8eefc' stroke-width='2'/>
<polygon points='1406.6,580.3 1520.2,473.6 1687.9,535.3 1574.3,642.0' fill='#5f6680' fill-opacity='0.42'/>
<clipPath id='cbd10'><path d='M1435.8 574.9 1439.8 571.2 1443.8 567.4 1447.8 563.7 1451.8 559.9 1455.9 556.2 1459.9 552.5 1463.9 548.7 1467.9 545.0 1471.9 541.2 1475.9 537.5 1479.9 533.7 1483.9 530.0 1488.0 526.3 1492.0 522.5 1496.0 518.8 1500.0 515.0 1504.0 511.3 1508.0 507.6 1512.0 503.8 1516.0 500.1 1520.1 496.3 1524.1 492.6 1528.1 488.8 1532.1 485.1 1538.0 487.5 1543.9 490.0 1549.8 492.4 1555.7 494.8 1561.6 497.3 1567.5 499.7 1573.5 502.1 1579.4 504.6 1585.3 507.0 1591.2 509.4 1597.1 511.9 1603.0 514.3 1608.9 516.7 1614.8 519.2 1620.7 521.6 1626.6 524.0 1632.5 526.5 1638.5 528.9 1644.4 531.3 1650.3 533.8 1656.2 536.2 1662.1 538.6 1668.0 541.1 1673.9 543.5 1669.7 547.2 1665.4 551.0 1661.2 554.7 1656.9 558.5 1652.7 562.2 1648.5 565.9 1644.2 569.7 1640.0 573.4 1635.7 577.2 1631.5 580.9 1627.2 584.7 1623.0 588.4 1618.8 592.1 1614.5 595.9 1610.3 599.6 1606.0 603.4 1601.8 607.1 1597.5 610.8 1593.3 614.6 1589.1 618.3 1584.8 622.1 1580.6 625.8 1576.3 629.6 1572.1 633.3 1566.4 630.9 1560.7 628.4 1555.1 626.0 1549.4 623.6 1543.7 621.1 1538.0 618.7 1532.3 616.3 1526.7 613.8 1521.0 611.4 1515.3 609.0 1509.6 606.5 1503.9 604.1 1498.3 601.7 1492.6 599.2 1486.9 596.8 1481.2 594.4 1475.6 591.9 1469.9 589.5 1464.2 587.1 1458.5 584.6 1452.8 582.2 1447.2 579.8 1441.5 577.3Z'/></clipPath>
<g id='bd10' clip-path='url(#cbd10)' filter='url(#soft)'>
<path d='M1435.8 574.9 1439.8 571.2 1443.8 567.4 1447.8 563.7 1451.8 559.9 1455.9 556.2 1459.9 552.5 1463.9 548.7 1467.9 545.0 1471.9 541.2 1475.9 537.5 1479.9 533.7 1483.9 530.0 1488.0 526.3 1492.0 522.5 1496.0 518.8 1500.0 515.0 1504.0 511.3 1508.0 507.6 1512.0 503.8 1516.0 500.1 1520.1 496.3 1524.1 492.6 1528.1 488.8 1532.1 485.1 1538.0 487.5 1543.9 490.0 1549.8 492.4 1555.7 494.8 1561.6 497.3 1567.5 499.7 1573.5 502.1 1579.4 504.6 1585.3 507.0 1591.2 509.4 1597.1 511.9 1603.0 514.3 1608.9 516.7 1614.8 519.2 1620.7 521.6 1626.6 524.0 1632.5 526.5 1638.5 528.9 1644.4 531.3 1650.3 533.8 1656.2 536.2 1662.1 538.6 1668.0 541.1 1673.9 543.5 1669.7 547.2 1665.4 551.0 1661.2 554.7 1656.9 558.5 1652.7 562.2 1648.5 565.9 1644.2 569.7 1640.0 573.4 1635.7 577.2 1631.5 580.9 1627.2 584.7 1623.0 588.4 1618.8 592.1 1614.5 595.9 1610.3 599.6 1606.0 603.4 1601.8 607.1 1597.5 610.8 1593.3 614.6 1589.1 618.3 1584.8 622.1 1580.6 625.8 1576.3 629.6 1572.1 633.3 1566.4 630.9 1560.7 628.4 1555.1 626.0 1549.4 623.6 1543.7 621.1 1538.0 618.7 1532.3 616.3 1526.7 613.8 1521.0 611.4 1515.3 609.0 1509.6 606.5 1503.9 604.1 1498.3 601.7 1492.6 599.2 1486.9 596.8 1481.2 594.4 1475.6 591.9 1469.9 589.5 1464.2 587.1 1458.5 584.6 1452.8 582.2 1447.2 579.8 1441.5 577.3Z' fill='#0000cc'/>
<path fill='#0052cc' fill-rule='evenodd' d='M1436.4 574.3 1523.3 493.3 1529.0 493.9 1535.7 493.9 1541.7 493.1 1547.4 491.4 1673.9 543.5 1572.1 633.3 1435.8 574.9ZM1546.7 564.2 1548.0 566.5 1549.6 567.3 1552.3 567.7 1556.0 566.8 1557.3 565.7 1557.9 564.3 1556.8 562.0 1552.9 560.6 1548.9 561.4 1547.5 562.4Z'/>
<path fill='#00a0cc' fill-rule='evenodd' d='M1436.4 574.3 1519.0 497.3 1528.2 498.3 1538.1 498.1 1547.1 496.9 1555.2 494.6 1673.9 543.5 1572.1 633.3 1435.8 574.9ZM1541.8 564.0 1541.9 566.2 1543.4 568.4 1546.3 570.3 1550.3 571.3 1554.7 571.2 1558.2 570.2 1560.7 568.8 1562.6 566.3 1563.0 564.0 1561.4 561.3 1558.4 559.4 1554.4 558.3 1550.6 558.3 1546.4 559.5 1543.4 561.5Z'/>
<path fill='#00cccc' fill-rule='evenodd' d='M1436.4 574.3 1449.7 562.0 1451.8 564.6 1455.2 566.2 1459.2 566.1 1462.5 564.2 1464.6 561.0 1464.9 557.9 1463.5 553.8 1461.1 551.3 1513.7 502.2 1526.6 503.3 1541.8 502.9 1554.0 501.4 1564.9 498.6 1659.7 537.7 1673.9 543.5 1572.1 633.3 1435.8 574.9ZM1476.9 583.0 1476.8 585.1 1477.9 586.8 1480.0 588.2 1482.8 589.1 1486.2 589.4 1489.8 589.0 1492.8 587.8 1494.8 586.2 1495.5 584.0 1494.5 581.8 1492.4 580.3 1488.6 579.2 1485.1 579.0 1481.4 579.6 1478.7 580.9ZM1537.0 562.7 1535.1 566.3 1535.2 568.0 1536.3 570.1 1540.3 573.5 1546.5 575.8 1553.4 576.5 1559.2 575.6 1564.2 573.6 1568.2 570.3 1569.8 566.9 1569.8 565.2 1569.0 563.2 1564.6 559.5 1558.4 557.0 1552.9 556.3 1547.0 557.0 1541.7 559.2ZM1562.5 591.1 1561.7 594.0 1562.9 596.4 1566.6 598.8 1571.5 600.1 1576.3 600.3 1581.0 599.6 1585.7 597.5 1588.1 595.2 1588.9 592.5 1587.7 590.2 1584.8 588.3 1579.9 586.9 1574.0 586.6 1569.2 587.2 1565.1 588.8ZM1616.6 558.8 1616.0 560.5 1616.6 562.2 1619.9 563.8 1624.5 563.4 1626.4 562.5 1628.2 560.8 1628.6 559.4 1628.2 557.5 1626.3 555.9 1624.4 555.3 1620.2 555.9Z'/>
<path fill='#00cca6' fill-rule='evenodd' d='M1469.3 544.2 1469.4 543.6 1503.6 511.7 1524.7 509.6 1556.7 508.5 1578.6 509.6 1586.2 510.8 1595.4 513.1 1604.6 516.4 1612.8 520.6 1619.2 525.3 1626.6 532.6 1628.9 534.0 1632.0 533.6 1639.0 529.1 1673.9 543.5 1572.1 633.3 1515.0 608.8 1499.9 602.4 1504.3 600.9 1513.2 601.5 1541.6 607.6 1556.2 609.2 1565.1 609.2 1572.1 608.6 1578.9 607.1 1586.1 604.4 1592.2 601.1 1597.1 597.4 1607.4 585.2 1613.7 579.5 1621.1 574.3 1633.0 567.8 1637.1 564.5 1639.4 561.4 1640.0 558.5 1639.5 555.6 1637.9 552.4 1631.6 545.4 1627.8 543.0 1626.8 543.8 1624.3 547.7 1614.2 555.8 1606.8 563.5 1604.5 565.0 1601.1 566.0 1596.7 566.2 1591.5 565.2 1587.2 563.3 1582.2 559.8 1573.2 558.6 1558.4 554.8 1552.6 554.2 1545.8 555.1 1530.6 560.4 1518.7 562.6 1509.3 566.0 1503.3 566.9 1496.9 566.9 1491.3 566.3 1485.2 565.0 1480.8 563.3 1477.1 560.9 1474.1 557.9 1471.4 553.4 1469.6 548.4Z'/>
<path fill='#00cc7a' fill-rule='evenodd' d='M1485.7 530.7 1490.0 526.0 1497.2 521.7 1506.3 518.2 1516.2 515.8 1531.0 513.9 1557.4 512.5 1565.0 512.6 1572.9 513.6 1581.5 516.3 1595.8 523.2 1601.9 523.4 1606.8 524.8 1610.8 527.0 1614.7 530.5 1617.2 534.0 1618.5 537.5 1619.1 541.4 1618.9 544.6 1617.9 547.5 1616.2 550.1 1608.7 556.8 1602.7 560.1 1596.4 560.7 1592.2 560.0 1588.6 558.6 1585.6 556.7 1582.4 553.8 1570.6 554.1 1557.6 552.0 1551.5 551.7 1545.4 552.5 1531.6 556.0 1519.9 556.6 1513.3 560.3 1506.1 562.2 1499.0 562.7 1491.2 561.8 1484.7 559.7 1480.1 556.9 1476.7 553.2 1475.1 549.1 1475.2 545.9 1476.3 543.1 1479.4 539.5 1483.9 536.5 1484.4 533.5ZM1543.9 620.4 1548.4 619.0 1568.6 616.3 1578.0 613.6 1593.2 606.5 1613.1 594.8 1616.6 594.0 1572.1 633.3 1543.2 620.9ZM1657.9 540.2 1660.2 537.9 1673.9 543.5 1668.8 548.0 1666.3 550.2 1663.0 549.6 1660.5 548.4 1658.6 546.7 1657.2 544.4 1657.1 542.3Z'/>
<path fill='#00cc1e' fill-rule='evenodd' d='M1481.0 544.3 1483.0 541.8 1486.6 539.3 1496.6 536.1 1497.5 532.4 1500.4 528.8 1504.8 525.7 1511.3 522.7 1518.0 520.7 1524.6 519.3 1544.3 517.7 1552.4 516.0 1560.0 515.3 1570.0 516.3 1577.6 518.7 1581.5 521.0 1583.4 522.8 1585.2 525.8 1589.6 528.8 1593.6 527.5 1598.0 527.0 1602.5 527.5 1606.2 528.9 1610.5 532.0 1613.1 535.4 1614.6 539.5 1614.6 543.7 1613.0 547.9 1609.8 551.5 1604.7 555.1 1599.6 556.8 1594.7 556.6 1590.1 554.9 1586.5 552.4 1582.1 547.2 1576.9 548.5 1572.0 548.9 1552.3 547.5 1545.0 548.3 1530.5 551.2 1525.1 551.5 1519.3 551.0 1515.8 554.8 1511.8 557.3 1506.3 559.0 1500.1 559.7 1491.1 558.5 1486.7 556.7 1483.7 554.8 1481.4 552.3 1480.2 549.6 1480.1 547.1ZM1553.4 624.4 1559.2 621.9 1587.6 615.1 1592.0 614.7 1593.0 614.9 1592.5 615.3 1572.1 633.3 1552.7 625.0Z'/>
<path fill='#30cc00' fill-rule='evenodd' d='M1514.7 530.7 1516.9 528.3 1520.2 526.9 1524.6 526.3 1527.9 526.8 1531.2 528.5 1532.9 530.4 1533.7 532.9 1533.4 536.1 1532.1 538.0 1528.4 539.7 1524.5 540.5 1519.9 540.0 1516.6 538.4 1514.3 535.8 1513.8 533.6ZM1535.8 537.9 1538.5 536.5 1542.2 535.7 1548.9 535.5 1552.1 536.2 1554.6 537.4 1555.6 538.8 1555.3 540.3 1554.0 541.4 1550.9 542.5 1543.3 543.0 1537.5 541.3 1535.6 539.4ZM1553.6 524.1 1555.5 521.6 1558.1 520.2 1561.0 519.8 1564.3 520.3 1566.7 521.6 1568.4 523.6 1569.1 526.4 1568.6 528.6 1566.5 531.1 1564.0 532.5 1561.3 533.0 1558.5 532.6 1556.0 531.4 1553.8 528.7 1553.2 526.3ZM1557.6 626.3 1563.1 623.6 1571.3 621.7 1581.5 620.5 1585.0 620.8 1585.9 621.1 1585.5 621.5 1572.1 633.3 1557.0 626.8Z'/>
<path fill='#85cc00' fill-rule='evenodd' d='M1560.2 526.0 1561.5 525.2 1562.2 525.8 1562.0 526.7 1560.8 527.0ZM1560.4 627.5 1564.8 625.2 1571.7 623.6 1578.4 623.2 1582.3 624.3 1572.1 633.3 1559.8 628.0Z'/>
<path fill='#b1cc00' fill-rule='evenodd' d='M1562.5 628.4 1567.0 626.1 1572.4 625.1 1578.5 625.4 1580.3 626.0 1579.7 626.6 1572.1 633.3 1561.9 628.9Z'/>
<path fill='#cccc00' fill-rule='evenodd' d='M1564.3 629.1 1567.9 627.3 1571.9 626.5 1575.9 626.6 1578.5 627.7 1572.1 633.3 1563.6 629.7Z'/>
<path fill='#cc9600' fill-rule='evenodd' d='M1565.8 629.8 1568.5 628.4 1572.1 627.7 1575.6 628.0 1577.2 628.8 1572.1 633.3 1565.2 630.3Z'/>
<path fill='#cc5500' fill-rule='evenodd' d='M1567.2 630.4 1572.1 628.8 1575.4 629.3 1576.3 629.6 1575.9 629.9 1572.1 633.3 1566.5 630.9Z'/>
<path fill='#cc0000' fill-rule='evenodd' d='M1568.4 630.9 1571.8 629.9 1575.3 630.5 1572.1 633.3 1567.8 631.4Z'/>
</g>
</g>
<rect x='1393.6' y='478.0' width='11.4' height='153.8' fill='#333'/>
<rect x='1394.2' y='478.95' width='10.2' height='10.20' fill='#FF0000'/>
<rect x='1394.2' y='489.85' width='10.2' height='10.20' fill='#FF6A00'/>
<rect x='1394.2' y='500.75' width='10.2' height='10.20' fill='#FFBB00'/>
<rect x='1394.2' y='511.65' width='10.2' height='10.20' fill='#FFFF00'/>
<rect x='1394.2' y='522.55' width='10.2' height='10.20' fill='#DDFF00'/>
<rect x='1394.2' y='533.45' width='10.2' height='10.20' fill='#A6FF00'/>
<rect x='1394.2' y='544.35' width='10.2' height='10.20' fill='#3CFF00'/>
<rect x='1394.2' y='555.25' width='10.2' height='10.20' fill='#00FF26'/>
<rect x='1394.2' y='566.15' width='10.2' height='10.20' fill='#00FF99'/>
<rect x='1394.2' y='577.05' width='10.2' height='10.20' fill='#00FFD0'/>
<rect x='1394.2' y='587.95' width='10.2' height='10.20' fill='#00FFFF'/>
<rect x='1394.2' y='598.85' width='10.2' height='10.20' fill='#00C8FF'/>
<rect x='1394.2' y='609.75' width='10.2' height='10.20' fill='#0066FF'/>
<rect x='1394.2' y='620.65' width='10.2' height='10.20' fill='#0000FF'/>
<text x='1409.6' y='481.1' font-size='7.0' font-weight='bold' fill='#1a1a1a' fill-opacity='0.85'>25.409 Max</text>
<text x='1409.6' y='492.0' font-size='7.0' font-weight='normal' fill='#1a1a1a' fill-opacity='0.85'>22.634</text>
<text x='1409.6' y='502.9' font-size='7.0' font-weight='normal' fill='#1a1a1a' fill-opacity='0.85'>19.858</text>
<text x='1409.6' y='513.8' font-size='7.0' font-weight='normal' fill='#1a1a1a' fill-opacity='0.85'>17.082</text>
<text x='1409.6' y='524.7' font-size='7.0' font-weight='normal' fill='#1a1a1a' fill-opacity='0.85'>14.306</text>
<text x='1409.6' y='535.6' font-size='7.0' font-weight='normal' fill='#1a1a1a' fill-opacity='0.85'>11.53</text>
<text x='1409.6' y='546.5' font-size='7.0' font-weight='normal' fill='#1a1a1a' fill-opacity='0.85'>8.7537</text>
<text x='1409.6' y='557.4' font-size='7.0' font-weight='normal' fill='#1a1a1a' fill-opacity='0.85'>5.9777</text>
<text x='1409.6' y='568.3' font-size='7.0' font-weight='normal' fill='#1a1a1a' fill-opacity='0.85'>3.2018</text>
<text x='1409.6' y='579.2' font-size='7.0' font-weight='normal' fill='#1a1a1a' fill-opacity='0.85'>0.42582</text>
<text x='1409.6' y='590.1' font-size='7.0' font-weight='normal' fill='#1a1a1a' fill-opacity='0.85'>-2.3501</text>
<text x='1409.6' y='601.0' font-size='7.0' font-weight='normal' fill='#1a1a1a' fill-opacity='0.85'>-5.1261</text>
<text x='1409.6' y='611.9' font-size='7.0' font-weight='normal' fill='#1a1a1a' fill-opacity='0.85'>-7.9021</text>
<text x='1409.6' y='622.8' font-size='7.0' font-weight='normal' fill='#1a1a1a' fill-opacity='0.85'>-10.678</text>
<text x='1409.6' y='633.7' font-size='7.0' font-weight='bold' fill='#1a1a1a' fill-opacity='0.85'>-13.454 Min</text>
<clipPath id='cb11'><rect x='1724.6' y='471.4' width='259.2' height='170.9'/></clipPath>
<g clip-path='url(#cb11)'>
<rect x='1724.6' y='471.4' width='259.2' height='170.9' fill='url(#bgg)' stroke='#e8eefc' stroke-width='2'/>
<polygon points='1737.2,513.2 1902.9,445.1 1992.9,569.4 1815.1,641.0' fill='#5f6680' fill-opacity='0.42'/>
<clipPath id='cbd11'><path d='M1771.8 529.5 1777.6 527.1 1783.4 524.7 1789.3 522.3 1795.1 519.9 1800.9 517.5 1806.7 515.2 1812.5 512.8 1818.4 510.4 1824.2 508.0 1830.0 505.6 1835.8 503.2 1841.7 500.8 1847.5 498.4 1853.3 496.0 1859.1 493.6 1864.9 491.2 1870.8 488.8 1876.6 486.5 1882.4 484.1 1888.2 481.7 1894.0 479.3 1899.9 476.9 1905.7 474.5 1911.5 472.1 1914.4 476.0 1917.3 480.0 1920.2 483.9 1923.1 487.8 1925.9 491.7 1928.8 495.7 1931.7 499.6 1934.6 503.5 1937.5 507.4 1940.4 511.4 1943.3 515.3 1946.2 519.2 1949.0 523.1 1951.9 527.1 1954.8 531.0 1957.7 534.9 1960.6 538.8 1963.5 542.8 1966.4 546.7 1969.3 550.6 1972.1 554.5 1975.0 558.5 1977.9 562.4 1980.8 566.3 1975.0 568.6 1969.2 571.0 1963.3 573.3 1957.5 575.7 1951.7 578.0 1945.9 580.4 1940.1 582.7 1934.2 585.1 1928.4 587.4 1922.6 589.8 1916.8 592.1 1910.9 594.5 1905.1 596.8 1899.3 599.1 1893.5 601.5 1887.7 603.8 1881.8 606.2 1876.0 608.5 1870.2 610.9 1864.4 613.2 1858.6 615.6 1852.7 617.9 1846.9 620.3 1841.1 622.6 1838.2 618.7 1835.3 614.8 1832.4 611.0 1829.5 607.1 1826.7 603.2 1823.8 599.3 1820.9 595.4 1818.0 591.6 1815.1 587.7 1812.2 583.8 1809.3 579.9 1806.4 576.0 1803.6 572.2 1800.7 568.3 1797.8 564.4 1794.9 560.5 1792.0 556.7 1789.1 552.8 1786.2 548.9 1783.3 545.0 1780.5 541.1 1777.6 537.3 1774.7 533.4Z'/></clipPath>
<g id='bd11' clip-path='url(#cbd11)' filter='url(#soft)'>
<path d='M1771.8 529.5 1777.6 527.1 1783.4 524.7 1789.3 522.3 1795.1 519.9 1800.9 517.5 1806.7 515.2 1812.5 512.8 1818.4 510.4 1824.2 508.0 1830.0 505.6 1835.8 503.2 1841.7 500.8 1847.5 498.4 1853.3 496.0 1859.1 493.6 1864.9 491.2 1870.8 488.8 1876.6 486.5 1882.4 484.1 1888.2 481.7 1894.0 479.3 1899.9 476.9 1905.7 474.5 1911.5 472.1 1914.4 476.0 1917.3 480.0 1920.2 483.9 1923.1 487.8 1925.9 491.7 1928.8 495.7 1931.7 499.6 1934.6 503.5 1937.5 507.4 1940.4 511.4 1943.3 515.3 1946.2 519.2 1949.0 523.1 1951.9 527.1 1954.8 531.0 1957.7 534.9 1960.6 538.8 1963.5 542.8 1966.4 546.7 1969.3 550.6 1972.1 554.5 1975.0 558.5 1977.9 562.4 1980.8 566.3 1975.0 568.6 1969.2 571.0 1963.3 573.3 1957.5 575.7 1951.7 578.0 1945.9 580.4 1940.1 582.7 1934.2 585.1 1928.4 587.4 1922.6 589.8 1916.8 592.1 1910.9 594.5 1905.1 596.8 1899.3 599.1 1893.5 601.5 1887.7 603.8 1881.8 606.2 1876.0 608.5 1870.2 610.9 1864.4 613.2 1858.6 615.6 1852.7 617.9 1846.9 620.3 1841.1 622.6 1838.2 618.7 1835.3 614.8 1832.4 611.0 1829.5 607.1 1826.7 603.2 1823.8 599.3 1820.9 595.4 1818.0 591.6 1815.1 587.7 1812.2 583.8 1809.3 579.9 1806.4 576.0 1803.6 572.2 1800.7 568.3 1797.8 564.4 1794.9 560.5 1792.0 556.7 1789.1 552.8 1786.2 548.9 1783.3 545.0 1780.5 541.1 1777.6 537.3 1774.7 533.4Z' fill='#0000cc'/>
<path fill='#0052cc' fill-rule='evenodd' d='M1772.7 529.1 1911.5 472.1 1980.8 566.3 1979.9 566.7 1841.1 622.6 1771.8 529.5ZM1866.9 550.7 1865.4 552.8 1865.0 555.3 1866.0 557.9 1868.3 560.0 1871.6 561.3 1875.1 561.4 1877.9 560.6 1880.4 558.9 1881.9 556.7 1882.1 554.0 1881.2 551.7 1878.9 549.6 1875.8 548.4 1872.2 548.3 1869.4 549.1Z'/>
<path fill='#00a0cc' fill-rule='evenodd' d='M1772.7 529.1 1911.5 472.1 1980.8 566.3 1979.9 566.7 1841.1 622.6 1771.8 529.5ZM1865.3 549.1 1863.2 551.4 1862.1 554.9 1862.9 558.4 1865.3 561.2 1869.5 563.3 1873.6 563.9 1877.7 563.3 1881.9 561.3 1884.3 558.4 1885.1 554.7 1884.0 551.3 1881.4 548.6 1877.9 547.0 1873.1 546.3 1869.0 547.0Z'/>
<path fill='#00cccc' fill-rule='evenodd' d='M1772.7 529.1 1911.5 472.1 1980.8 566.3 1979.9 566.7 1841.1 622.6 1771.8 529.5ZM1863.6 546.7 1859.4 550.7 1857.6 555.2 1858.1 559.6 1860.9 563.8 1865.2 566.6 1871.2 568.3 1877.8 568.1 1883.4 566.1 1887.5 562.7 1889.7 558.0 1889.2 553.0 1886.4 548.8 1881.5 545.5 1875.7 544.0 1869.4 544.4ZM1861.6 586.3 1860.9 587.3 1861.0 588.1 1862.2 589.1 1868.5 590.7 1877.4 590.4 1881.1 589.4 1882.9 588.3 1883.0 586.7 1881.7 585.7 1875.8 584.3 1867.3 584.5Z'/>
<path fill='#00cca6' fill-rule='evenodd' d='M1772.7 529.1 1911.5 472.1 1980.8 566.3 1979.9 566.7 1841.1 622.6 1771.8 529.5ZM1852.4 545.9 1827.4 556.8 1821.8 560.0 1819.2 562.6 1818.4 564.6 1818.3 566.7 1819.9 572.1 1824.1 578.7 1829.2 584.3 1834.9 588.4 1841.0 590.8 1855.0 594.3 1866.7 596.0 1874.6 595.9 1882.7 594.6 1891.2 592.3 1900.0 588.9 1919.7 580.2 1931.9 573.1 1934.5 570.5 1935.6 567.7 1935.0 565.0 1932.1 561.6 1927.3 558.2 1920.4 554.9 1901.9 548.5 1888.3 542.8 1880.6 540.6 1874.0 539.9 1866.6 540.6 1860.0 542.5Z'/>
<path fill='#00cc7a' fill-rule='evenodd' d='M1772.7 529.1 1911.5 472.1 1918.6 481.8 1913.9 480.3 1907.8 479.4 1902.1 479.4 1896.0 480.3 1891.4 481.9 1888.2 484.0 1886.8 486.5 1887.7 489.5 1890.5 492.2 1894.7 494.3 1899.5 495.4 1905.0 495.8 1912.6 495.2 1918.4 493.8 1922.5 491.7 1924.3 489.5 1959.1 536.9 1980.8 566.3 1841.1 622.6 1771.8 529.5ZM1807.4 537.7 1803.6 540.1 1801.0 542.7 1799.8 545.7 1799.7 548.6 1802.3 558.2 1808.6 571.4 1816.3 582.6 1825.4 591.9 1834.2 598.1 1843.6 601.6 1855.0 603.4 1864.4 603.5 1875.6 601.9 1888.9 598.4 1908.0 592.0 1926.2 584.4 1941.9 576.5 1950.9 570.3 1954.8 566.1 1957.2 562.1 1961.0 549.1 1960.8 546.1 1959.4 543.6 1956.8 541.6 1953.9 540.5 1949.3 540.4 1935.4 543.1 1927.2 542.7 1922.9 541.6 1918.6 539.6 1915.5 537.0 1911.9 532.4 1909.0 530.5 1900.0 528.8 1884.3 527.6 1851.9 528.4 1848.0 529.4 1840.7 533.4 1836.2 534.9 1831.8 535.2 1820.1 533.2 1814.3 534.5Z'/>
<path fill='#00cc1e' fill-rule='evenodd' d='M1772.7 529.1 1786.0 523.7 1787.7 526.8 1788.5 529.5 1789.6 545.0 1790.2 551.1 1789.3 553.1 1771.8 529.5ZM1832.9 509.0 1834.7 508.4 1837.4 508.9 1839.0 510.3 1840.3 512.8 1840.7 515.7 1840.2 518.9 1839.0 521.9 1837.1 524.0 1834.5 524.9 1832.5 524.4 1830.7 522.8 1829.3 519.6 1829.0 516.7 1829.5 513.6 1830.8 510.8ZM1856.4 499.2 1860.6 497.1 1865.7 496.4 1871.0 497.2 1876.4 499.5 1880.6 503.1 1882.7 507.1 1882.6 508.5 1881.5 510.1 1877.6 512.5 1872.0 514.1 1866.6 514.5 1861.5 513.7 1857.3 511.9 1854.4 509.3 1853.0 506.1 1853.5 502.8ZM1897.3 508.4 1901.7 506.6 1907.6 505.4 1913.1 505.1 1919.1 505.7 1924.3 507.5 1926.8 509.5 1927.4 512.2 1926.1 514.4 1922.6 516.5 1916.9 517.9 1911.1 518.2 1905.4 517.5 1900.2 515.8 1896.1 512.9 1895.4 510.4ZM1825.3 600.2 1839.6 605.4 1849.0 607.3 1858.6 607.9 1875.6 607.2 1878.6 607.5 1841.1 622.6 1824.4 600.1ZM1971.7 560.0 1975.0 558.4 1980.8 566.3 1960.7 574.4 1957.0 575.9 1957.1 574.3 1958.4 572.3 1965.8 564.4Z'/>
<path fill='#30cc00' fill-rule='evenodd' d='M1772.7 529.1 1777.7 527.1 1780.2 531.6 1780.8 536.4 1780.4 538.0 1779.0 539.1 1771.8 529.5ZM1830.4 607.3 1834.4 607.5 1847.7 610.1 1860.8 611.6 1864.4 612.5 1865.2 612.9 1864.7 613.1 1841.1 622.6 1829.7 607.3ZM1975.5 565.2 1978.8 563.6 1980.8 566.3 1976.4 568.1 1973.0 569.5 1972.5 568.9 1973.2 567.1Z'/>
<path fill='#85cc00' fill-rule='evenodd' d='M1833.5 610.9 1839.3 611.0 1850.4 612.8 1856.3 614.2 1858.6 615.6 1841.1 622.6 1832.5 611.1Z'/>
<path fill='#b1cc00' fill-rule='evenodd' d='M1835.2 613.2 1839.6 613.0 1847.2 614.1 1852.6 615.7 1854.7 617.1 1854.2 617.3 1841.1 622.6 1834.3 613.4Z'/>
<path fill='#cccc00' fill-rule='evenodd' d='M1836.5 614.9 1840.8 614.6 1845.9 615.4 1849.9 616.8 1852.0 618.2 1851.6 618.4 1841.1 622.6 1835.6 615.2Z'/>
<path fill='#cc9600' fill-rule='evenodd' d='M1837.5 616.3 1840.7 616.0 1844.5 616.4 1847.9 617.6 1849.8 619.1 1841.1 622.6 1836.6 616.5Z'/>
<path fill='#cc5500' fill-rule='evenodd' d='M1838.4 617.4 1844.1 617.6 1846.9 618.7 1848.1 619.8 1841.1 622.6 1837.4 617.7Z'/>
<path fill='#cc0000' fill-rule='evenodd' d='M1839.2 618.5 1843.5 618.6 1845.4 619.4 1846.3 620.5 1841.1 622.6 1838.2 618.7Z'/>
</g>
</g>
<rect x='1726.8' y='475.8' width='9.9' height='160.4' fill='#333'/>
<rect x='1727.4' y='476.75' width='8.7' height='10.67' fill='#FF0000'/>
<rect x='1727.4' y='488.12' width='8.7' height='10.67' fill='#FF6A00'/>
<rect x='1727.4' y='499.49' width='8.7' height='10.67' fill='#FFBB00'/>
<rect x='1727.4' y='510.86' width='8.7' height='10.67' fill='#FFFF00'/>
<rect x='1727.4' y='522.24' width='8.7' height='10.67' fill='#DDFF00'/>
<rect x='1727.4' y='533.61' width='8.7' height='10.67' fill='#A6FF00'/>
<rect x='1727.4' y='544.98' width='8.7' height='10.67' fill='#3CFF00'/>
<rect x='1727.4' y='556.35' width='8.7' height='10.67' fill='#00FF26'/>
<rect x='1727.4' y='567.72' width='8.7' height='10.67' fill='#00FF99'/>
<rect x='1727.4' y='579.09' width='8.7' height='10.67' fill='#00FFD0'/>
<rect x='1727.4' y='590.46' width='8.7' height='10.67' fill='#00FFFF'/>
<rect x='1727.4' y='601.84' width='8.7' height='10.67' fill='#00C8FF'/>
<rect x='1727.4' y='613.21' width='8.7' height='10.67' fill='#0066FF'/>
<rect x='1727.4' y='624.58' width='8.7' height='10.67' fill='#0000FF'/>
<text x='1741.3' y='478.9' font-size='7.0' font-weight='bold' fill='#1a1a1a' fill-opacity='0.85'>35.824 Max</text>
<text x='1741.3' y='490.3' font-size='7.0' font-weight='normal' fill='#1a1a1a' fill-opacity='0.85'>31.843</text>
<text x='1741.3' y='501.7' font-size='7.0' font-weight='normal' fill='#1a1a1a' fill-opacity='0.85'>27.862</text>
<text x='1741.3' y='513.0' font-size='7.0' font-weight='normal' fill='#1a1a1a' fill-opacity='0.85'>23.881</text>
<text x='1741.3' y='524.4' font-size='7.0' font-weight='normal' fill='#1a1a1a' fill-opacity='0.85'>19.9</text>
<text x='1741.3' y='535.8' font-size='7.0' font-weight='normal' fill='#1a1a1a' fill-opacity='0.85'>15.919</text>
<text x='1741.3' y='547.1' font-size='7.0' font-weight='normal' fill='#1a1a1a' fill-opacity='0.85'>11.938</text>
<text x='1741.3' y='558.5' font-size='7.0' font-weight='normal' fill='#1a1a1a' fill-opacity='0.85'>7.9572</text>
<text x='1741.3' y='569.9' font-size='7.0' font-weight='normal' fill='#1a1a1a' fill-opacity='0.85'>3.9767</text>
<text x='1741.3' y='581.3' font-size='7.0' font-weight='normal' fill='#1a1a1a' fill-opacity='0.85'>-0.0046141</text>
<text x='1741.3' y='592.6' font-size='7.0' font-weight='normal' fill='#1a1a1a' fill-opacity='0.85'>-3.9855</text>
<text x='1741.3' y='604.0' font-size='7.0' font-weight='normal' fill='#1a1a1a' fill-opacity='0.85'>-7.9664</text>
<text x='1741.3' y='615.4' font-size='7.0' font-weight='normal' fill='#1a1a1a' fill-opacity='0.85'>-11.947</text>
<text x='1741.3' y='626.7' font-size='7.0' font-weight='normal' fill='#1a1a1a' fill-opacity='0.85'>-15.928</text>
<text x='1741.3' y='638.1' font-size='7.0' font-weight='bold' fill='#1a1a1a' fill-opacity='0.85'>-19.909 Min</text>
<rect x='228.9' y='647.1' width='115.1' height='25.7' fill='#ebebe9' stroke='#f6f6f4' stroke-width='1'/>
<rect x='228.9' y='648.1' width='2' height='24.7' fill='#8c8c8c'/>
<text x='77.0' y='667.3' font-size='22.8' font-weight='normal' textLength='147.5' lengthAdjust='spacingAndGlyphs' fill='#222' stroke='#222' stroke-width='0.35'>Flatness Defect</text>
<text x='234.8' y='667.3' font-size='22.8' font-weight='normal' textLength='102.1' lengthAdjust='spacingAndGlyphs' fill='#222' stroke='#222' stroke-width='0.35'>69.225 µm</text>
<rect x='699.3' y='662.5' width='114.8' height='29.4' fill='#ebebe9' stroke='#f6f6f4' stroke-width='1'/>
<rect x='699.3' y='663.5' width='2' height='28.4' fill='#8c8c8c'/>
<text x='550.4' y='684.4' font-size='22.8' font-weight='normal' textLength='145.1' lengthAdjust='spacingAndGlyphs' fill='#222' stroke='#222' stroke-width='0.35'>Flatness Defect</text>
<text x='706.3' y='684.4' font-size='22.8' font-weight='normal' textLength='99.2' lengthAdjust='spacingAndGlyphs' fill='#222' stroke='#222' stroke-width='0.35'>211.56 µm</text>
<rect x='989.1' y='670.2' width='111.5' height='26.7' fill='#ebebe9' stroke='#f6f6f4' stroke-width='1'/>
<rect x='989.1' y='671.2' width='2' height='25.7' fill='#8c8c8c'/>
<text x='846.4' y='690.0' font-size='22.8' font-weight='normal' textLength='138.9' lengthAdjust='spacingAndGlyphs' fill='#222' stroke='#222' stroke-width='0.35'>Flatness Defect</text>
<text x='996.1' y='690.0' font-size='22.8' font-weight='normal' textLength='94.5' lengthAdjust='spacingAndGlyphs' fill='#222' stroke='#222' stroke-width='0.35'>93.765 µm</text>
<rect x='1265.1' y='670.5' width='110.1' height='25.0' fill='#ebebe9' stroke='#f6f6f4' stroke-width='1'/>
<rect x='1265.1' y='671.5' width='2' height='24.0' fill='#8c8c8c'/>
<text x='1121.1' y='690.0' font-size='22.8' font-weight='normal' textLength='140.2' lengthAdjust='spacingAndGlyphs' fill='#222' stroke='#222' stroke-width='0.35'>Flatness Defect</text>
<text x='1271.4' y='690.0' font-size='22.8' font-weight='normal' textLength='95.5' lengthAdjust='spacingAndGlyphs' fill='#222' stroke='#222' stroke-width='0.35'>43.342 µm</text>
<rect x='1552.7' y='667.3' width='119.9' height='27.9' fill='#ebebe9' stroke='#f6f6f4' stroke-width='1'/>
<rect x='1552.7' y='668.3' width='2' height='26.9' fill='#8c8c8c'/>
<text x='1390.9' y='689.3' font-size='24.4' font-weight='normal' textLength='158.2' lengthAdjust='spacingAndGlyphs' fill='#222' stroke='#222' stroke-width='0.35'>Flatness Defect</text>
<text x='1560.0' y='689.3' font-size='24.4' font-weight='normal' textLength='107.7' lengthAdjust='spacingAndGlyphs' fill='#222' stroke='#222' stroke-width='0.35'>38.863 µm</text>
<rect x='1867.1' y='667.1' width='116.2' height='26.4' fill='#ebebe9' stroke='#f6f6f4' stroke-width='1'/>
<rect x='1867.1' y='668.1' width='2' height='25.4' fill='#8c8c8c'/>
<text x='1725.1' y='686.7' font-size='21.9' font-weight='normal' textLength='138.2' lengthAdjust='spacingAndGlyphs' fill='#222' stroke='#222' stroke-width='0.35'>Flatness Defect</text>
<text x='1873.4' y='686.7' font-size='21.9' font-weight='normal' textLength='94.5' lengthAdjust='spacingAndGlyphs' fill='#222' stroke='#222' stroke-width='0.35'>55.733 µm</text>
</svg>
</body></html>
